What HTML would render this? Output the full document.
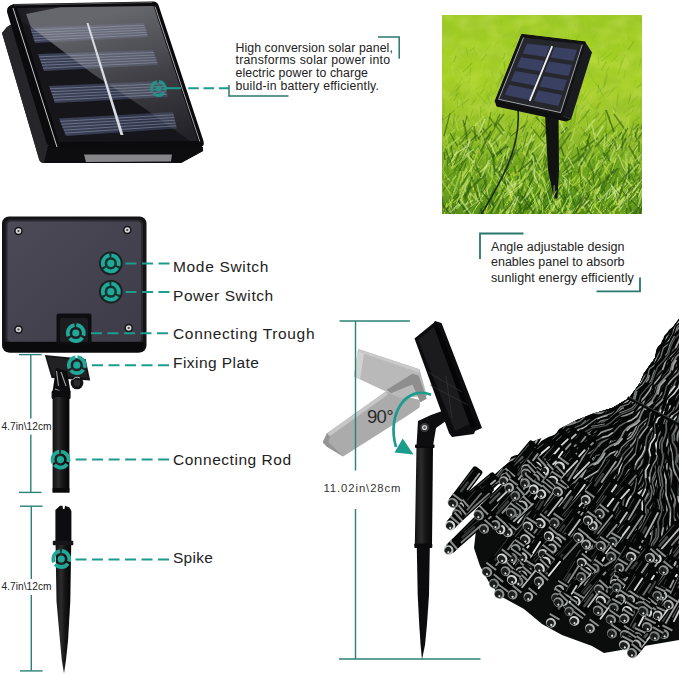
<!DOCTYPE html>
<html><head><meta charset="utf-8"><title>Solar string light</title>
<style>
html,body{margin:0;padding:0;background:#fff;}
body{width:679px;height:675px;overflow:hidden;font-family:"Liberation Sans",sans-serif;}
svg{display:block}
svg text{font-family:"Liberation Sans",sans-serif;}
</style></head><body>
<svg width="679" height="675" viewBox="0 0 679 675">
<defs>
<linearGradient id="gGlass" x1="0" y1="0" x2="1" y2="1">
 <stop offset="0" stop-color="#303137"/><stop offset="0.5" stop-color="#1f2025"/><stop offset="1" stop-color="#141519"/>
</linearGradient>
<linearGradient id="gCell" x1="0" y1="0" x2="1" y2="0">
 <stop offset="0" stop-color="#3b4258"/><stop offset="1" stop-color="#2a3044"/>
</linearGradient>
<linearGradient id="gGrass" x1="0" y1="0" x2="0" y2="1">
 <stop offset="0" stop-color="#9dcb22"/><stop offset="0.3" stop-color="#a6d124"/><stop offset="0.5" stop-color="#9bc624"/><stop offset="0.68" stop-color="#7dae20"/><stop offset="0.85" stop-color="#659a1c"/><stop offset="1" stop-color="#558a18"/>
</linearGradient>
<linearGradient id="gFade" x1="0" y1="0" x2="0" y2="1">
 <stop offset="0" stop-color="#fff" stop-opacity="1"/><stop offset="0.55" stop-color="#fff" stop-opacity="0.8"/><stop offset="0.8" stop-color="#fff" stop-opacity="0"/>
</linearGradient>
<mask id="mTop"><rect x="442" y="15" width="200" height="199" fill="url(#gFade)"/></mask>
<linearGradient id="gBack" x1="0" y1="0" x2="1" y2="1">
 <stop offset="0" stop-color="#4c4a57"/><stop offset="1" stop-color="#3d3b47"/>
</linearGradient>
<linearGradient id="gRod" x1="0" y1="0" x2="1" y2="0">
 <stop offset="0" stop-color="#111"/><stop offset="0.35" stop-color="#2c2c2e"/><stop offset="0.6" stop-color="#151515"/><stop offset="1" stop-color="#050505"/>
</linearGradient>
<filter id="fGrass" x="0" y="0" width="100%" height="100%">
 <feTurbulence type="fractalNoise" baseFrequency="0.045 0.06" numOctaves="2" seed="4" result="n"/>
 <feColorMatrix in="n" type="matrix" values="0 0 0 0 0.30  0 0 0 0 0.50  0 0 0 0 0.05  1.3 0 0 0 -0.45"/>
</filter>
<filter id="fGrass2" x="0" y="0" width="100%" height="100%">
 <feTurbulence type="fractalNoise" baseFrequency="0.05 0.07" numOctaves="2" seed="9" result="n"/>
 <feColorMatrix in="n" type="matrix" values="0 0 0 0 0.80  0 0 0 0 0.90  0 0 0 0 0.20  0 1.4 0 0 -0.5"/>
</filter>
<clipPath id="cGrass"><rect x="442" y="15" width="200" height="199"/></clipPath>
</defs>
<rect width="679" height="675" fill="#fff"/>
<path d="M2,33 L7,27 L12,24 L48,146 L203,147 L203,151 L181,163 L44,163 Q40,163 39,159 Z" fill="#19191c"/>
<path d="M2,33 L7,27 L12,24 L48,146 L44,163 Q40,163 39,159 Z" fill="#26262a"/>
<path d="M44,163 L48,146 L203,147 L203,151 L181,163 Z" fill="#0d0d10"/>
<path d="M84,154.5 L172,154.5 L171,161.5 L86,162 Z" fill="#a5a5aa" opacity="0.8"/>
<path d="M7,12 Q6,6 14,4 L152,1.5 Q157,1 158.5,5 L203.5,141 Q205,147 199,147.5 L54,148 Q48,148 46.5,143 Z" fill="#0b0b0e"/>
<path d="M13,8 L57,147" stroke="#e8e8ec" stroke-width="1" opacity="0.85" fill="none"/>
<path d="M14,5 L152,2.5" stroke="#77777c" stroke-width="0.8" opacity="0.8" fill="none"/>
<path d="M17,8 L153.5,6 L198,141 L59,142 Z" fill="#15151a"/>
<polygon points="30,27.5 144,23 148,37 35,43" fill="url(#gCell)"/>
<polygon points="38,54 153,50 158,65 44,71" fill="url(#gCell)"/>
<polygon points="49,86 163,81 168,97 55,103" fill="url(#gCell)"/>
<polygon points="59,118.5 173,112 177,128.5 66,136" fill="url(#gCell)"/>
<linearGradient id="gRefl" gradientUnits="userSpaceOnUse" x1="140" y1="6" x2="175" y2="141"><stop offset="0" stop-color="#8c8c94" stop-opacity="0.68"/><stop offset="0.5" stop-color="#8c8c94" stop-opacity="0.36"/><stop offset="1" stop-color="#8c8c94" stop-opacity="0.1"/></linearGradient>
<linearGradient id="gRefl2" gradientUnits="userSpaceOnUse" x1="20" y1="8" x2="120" y2="8"><stop offset="0" stop-color="#8c8c94" stop-opacity="0.05"/><stop offset="1" stop-color="#8c8c94" stop-opacity="0.55"/></linearGradient>
<path d="M60,7.3 L153.5,6 L198,141 L190,141 L144,108 L93,74 L30.7,26.7 L26,14 Z" fill="url(#gRefl)"/>
<path d="M17,8 L60,7.3 L26,14 L30.7,26.7 L22,22 Z" fill="url(#gRefl2)"/>
<path d="M155,6.5 L199.8,141.5" stroke="#e0e0e6" stroke-width="0.9" opacity="0.8" fill="none"/>
<line x1="30.8" y1="30.1" x2="144.7" y2="25.3" stroke="#a9aec4" stroke-width="0.6" opacity="0.75"/>
<line x1="31.7" y1="32.7" x2="145.3" y2="27.7" stroke="#a9aec4" stroke-width="0.6" opacity="0.75"/>
<line x1="32.5" y1="35.2" x2="146.0" y2="30.0" stroke="#a9aec4" stroke-width="0.6" opacity="0.75"/>
<line x1="33.3" y1="37.8" x2="146.7" y2="32.3" stroke="#a9aec4" stroke-width="0.6" opacity="0.75"/>
<line x1="34.2" y1="40.4" x2="147.3" y2="34.7" stroke="#a9aec4" stroke-width="0.6" opacity="0.75"/>
<line x1="39.0" y1="56.8" x2="153.8" y2="52.5" stroke="#a9aec4" stroke-width="0.6" opacity="0.75"/>
<line x1="40.0" y1="59.7" x2="154.7" y2="55.0" stroke="#a9aec4" stroke-width="0.6" opacity="0.75"/>
<line x1="41.0" y1="62.5" x2="155.5" y2="57.5" stroke="#a9aec4" stroke-width="0.6" opacity="0.75"/>
<line x1="42.0" y1="65.3" x2="156.3" y2="60.0" stroke="#a9aec4" stroke-width="0.6" opacity="0.75"/>
<line x1="43.0" y1="68.2" x2="157.2" y2="62.5" stroke="#a9aec4" stroke-width="0.6" opacity="0.75"/>
<line x1="50.0" y1="88.8" x2="163.8" y2="83.7" stroke="#a9aec4" stroke-width="0.6" opacity="0.75"/>
<line x1="51.0" y1="91.7" x2="164.7" y2="86.3" stroke="#a9aec4" stroke-width="0.6" opacity="0.75"/>
<line x1="52.0" y1="94.5" x2="165.5" y2="89.0" stroke="#a9aec4" stroke-width="0.6" opacity="0.75"/>
<line x1="53.0" y1="97.3" x2="166.3" y2="91.7" stroke="#a9aec4" stroke-width="0.6" opacity="0.75"/>
<line x1="54.0" y1="100.2" x2="167.2" y2="94.3" stroke="#a9aec4" stroke-width="0.6" opacity="0.75"/>
<line x1="60.2" y1="121.4" x2="173.7" y2="114.8" stroke="#a9aec4" stroke-width="0.6" opacity="0.75"/>
<line x1="61.3" y1="124.3" x2="174.3" y2="117.5" stroke="#a9aec4" stroke-width="0.6" opacity="0.75"/>
<line x1="62.5" y1="127.2" x2="175.0" y2="120.2" stroke="#a9aec4" stroke-width="0.6" opacity="0.75"/>
<line x1="63.7" y1="130.2" x2="175.7" y2="123.0" stroke="#a9aec4" stroke-width="0.6" opacity="0.75"/>
<line x1="64.8" y1="133.1" x2="176.3" y2="125.8" stroke="#a9aec4" stroke-width="0.6" opacity="0.75"/>
<path d="M86.5,23 L88.5,23 L123.5,135 L120.5,135 Z" fill="#d8dbe2"/>
<g opacity="0.85"><g transform="translate(158.5,88.5)"><circle r="8.5" fill="#1a1a1a" opacity="0.0"/><circle r="6.800000000000001" fill="none" stroke="#1c9c8d" stroke-width="3.23" stroke-dasharray="12.041886696273732 2.2" transform="rotate(-86)"/><circle r="3.06" fill="#1c9c8d"/></g></g>
<line x1="165" y1="88.2" x2="181" y2="88.2" stroke="#1c9c8d" stroke-width="2"/>
<line x1="188.2" y1="88.2" x2="229" y2="88.2" stroke="#1c9c8d" stroke-width="2" stroke-dasharray="10.6 4.7"/>
<path d="M378,37 H399.2 V58.8" fill="none" stroke="#2b776d" stroke-width="1.5"/>
<path d="M229,85 V96 H288.5" fill="none" stroke="#2b776d" stroke-width="1.5"/>
<text x="235.5" y="51.6" font-size="12.3" fill="#222" text-anchor="start" textLength="157.3" lengthAdjust="spacing" >High conversion solar panel,</text>
<text x="235.5" y="64.35" font-size="12.3" fill="#222" text-anchor="start" textLength="154.6" lengthAdjust="spacing" >transforms solar power into</text>
<text x="235.5" y="77.1" font-size="12.3" fill="#222" text-anchor="start" textLength="132.4" lengthAdjust="spacing" >electric power to charge</text>
<text x="235.5" y="89.85" font-size="12.3" fill="#222" text-anchor="start" textLength="143.5" lengthAdjust="spacing" >build-in battery efficiently.</text>
<g clip-path="url(#cGrass)">
<rect x="442" y="15" width="200" height="199" fill="url(#gGrass)"/>
<rect x="442" y="15" width="200" height="199" filter="url(#fGrass)" opacity="0.55"/>
<g mask="url(#mTop)"><rect x="442" y="15" width="200" height="199" filter="url(#fGrass2)" opacity="0.45"/></g>
<path d="M532,173l11,-18M620,189l5,-5M485,180l7,-19M472,182l4,-11M560,190l-4,-5M626,193l12,-15M638,185l-10,-11M598,174l5,-6M469,163l9,-15M518,181l9,-21M632,173l7,-13M460,192l-11,-13M448,165l7,-7M623,178l-4,-7M499,179l-4,-15" stroke="#d0ea80" stroke-width="0.8" opacity="0.6" fill="none"/>
<path d="M461,135l4,-5M595,152l4,-16M578,122l2,-4M580,144l7,-5M633,144l-7,-17M491,154l10,-16M635,133l10,-10M527,148l3,-11M610,129l2,-14M547,160l3,-6M587,143l4,-6M610,154l7,-13M631,135l-5,-7M605,123l-1,-8M536,147l2,-15M510,141l-9,-17" stroke="#cbd93c" stroke-width="0.8" opacity="0.4" fill="none"/>
<path d="M567,204l5,-4M506,203l7,-8M569,203l10,-14M472,197l4,-3M591,199l6,-5M595,211l-10,-13M534,214l5,-11M466,194l0,-19M470,210l12,-18M615,200l10,-17M563,203l8,-9M497,197l8,-23M549,202l4,-4M608,203l5,-7M596,207l8,-12M589,192l-0,-20M610,214l0,-13M541,195l-1,-5M634,209l1,-7M638,193l4,-8M502,203l-7,-12M477,193l-1,-5" stroke="#6aa01a" stroke-width="0.8" opacity="0.8" fill="none"/>
<path d="M546,183l-7,-12M635,174l-15,-17M572,166l-2,-11M526,186l1,-9M570,182l-0,-5M612,163l8,-19M627,170l5,-4M546,185l-1,-10M458,161l6,-6M618,191l2,-5M555,167l4,-8M550,176l11,-12M573,186l9,-10M640,163l5,-4M572,181l5,-6M516,188l-7,-17M556,170l4,-10M612,177l2,-17" stroke="#b8e040" stroke-width="1.2" opacity="0.6" fill="none"/>
<path d="M505,121l6,-6M534,138l8,-11M580,154l7,-14M448,144l11,-17M598,157l8,-16M505,129l5,-6M546,133l2,-11M577,149l6,-7M593,157l9,-18M530,144l4,-12M560,133l4,-7M570,130l9,-9" stroke="#4a8a12" stroke-width="0.8" opacity="0.4" fill="none"/>
<path d="M485,213l-2,-6M633,193l-0,-10M541,204l-11,-11M500,205l12,-15M630,200l17,-16M602,206l-2,-12M565,218l-8,-23M529,195l8,-19M446,207l11,-11M617,194l-7,-15M504,216l8,-6M574,201l3,-6" stroke="#b0d838" stroke-width="1.2" opacity="0.8" fill="none"/>
<path d="M459,140l14,-14M505,158l8,-8M521,134l7,-14M555,149l9,-16M522,143l-1,-7M506,138l8,-19M625,149l5,-15M483,155l-3,-5M493,159l6,-7M549,132l-3,-15M470,150l5,-14M528,136l5,-4M510,136l-1,-11M640,131l2,-5M552,132l3,-12M558,147l-9,-14M487,149l2,-11M488,127l3,-15M490,145l11,-13M562,138l6,-10" stroke="#2f660c" stroke-width="1.2" opacity="0.4" fill="none"/>
<path d="M478,173l-8,-10M540,189l3,-5M570,190l-4,-19M604,166l2,-5M532,163l5,-3M615,187l17,-17M501,175l8,-7M543,188l6,-7M554,186l6,-15M510,163l3,-4M488,189l-9,-21M636,171l4,-9M506,184l-12,-17M550,184l-3,-6M633,185l6,-7" stroke="#2f660c" stroke-width="1.2" opacity="0.6" fill="none"/>
<path d="M640,22l9,-6" stroke="#2f660c" stroke-width="0.8" opacity="0.1" fill="none"/>
<path d="M450,101l6,-8M458,87l4,-9M580,102l6,-12M497,118l3,-16M555,85l3,-14M462,105l6,-5M540,102l2,-9" stroke="#4a8a12" stroke-width="0.8" opacity="0.2" fill="none"/>
<path d="M559,123l7,-12M579,149l-8,-10M588,138l-2,-20M524,145l-3,-8M580,145l3,-9M467,147l-11,-11M481,144l1,-13M561,128l2,-8M617,148l1,-6M544,144l6,-5M568,148l5,-5M553,122l2,-8M587,154l9,-16M539,147l9,-16M515,154l6,-16M476,153l15,-13" stroke="#c6e65a" stroke-width="1.2" opacity="0.4" fill="none"/>
<path d="M479,103l-9,-14M494,91l-2,-16M611,50l1,-6M591,109l10,-12M523,91l3,-8M619,118l7,-15M468,111l4,-15M565,70l9,-11M637,40l8,-6M581,86l-5,-6M638,66l6,-9M514,60l3,-5M579,51l4,-7M477,100l6,-15" stroke="#cbd93c" stroke-width="0.8" opacity="0.2" fill="none"/>
<path d="M493,203l7,-16M457,211l-7,-12M609,209l16,-19M543,205l10,-16M527,203l7,-11M500,216l13,-13M500,201l-5,-13M513,190l7,-6M522,212l16,-13M631,213l0,-19M491,214l2,-7M541,206l10,-18M622,195l10,-8M534,209l8,-22M555,206l-6,-7M544,202l4,-21M491,208l-3,-11M531,209l13,-19M495,192l6,-23M586,209l17,-19" stroke="#2f660c" stroke-width="0.8" opacity="0.8" fill="none"/>
<path d="M498,212l2,-9M633,196l4,-15M517,205l7,-8M476,209l7,-17M612,195l16,-12M562,216l8,-24M525,216l-3,-5M609,204l4,-22M620,207l17,-12M581,208l-9,-13M602,205l2,-8M466,210l-4,-7M463,211l5,-14M602,200l12,-9" stroke="#3d7a10" stroke-width="1.2" opacity="0.8" fill="none"/>
<path d="M548,217l-3,-6M573,219l8,-9M637,211l8,-12M520,215l-13,-13M477,194l-3,-7M552,209l6,-10M480,209l-3,-4M541,210l-5,-16M524,205l0,-16M501,203l2,-9M535,216l6,-17M579,212l-6,-6M614,205l8,-23M465,206l5,-8M484,202l-5,-5M523,217l8,-8M525,210l12,-21M642,217l4,-8" stroke="#cbd93c" stroke-width="0.8" opacity="0.8" fill="none"/>
<path d="M560,213l-10,-11M637,210l2,-8M641,194l8,-8M460,219l1,-5M472,202l-3,-13M569,206l5,-9M563,211l-16,-17M561,210l8,-14M459,196l2,-15M461,220l4,-5M528,204l-0,-24M613,216l-13,-15M509,213l5,-4M577,194l5,-4M551,214l-11,-23" stroke="#d0ea80" stroke-width="0.8" opacity="0.8" fill="none"/>
<path d="M512,188l11,-19M465,161l-6,-20M523,188l3,-4M576,171l-5,-8M494,180l7,-9M591,175l6,-7M622,190l-3,-7M544,170l5,-7M464,188l-5,-23M499,164l11,-9M463,183l10,-20M453,183l13,-15M605,170l7,-9M566,173l-5,-16M496,186l13,-11M442,183l-14,-17M506,174l15,-15M619,185l10,-7M619,165l3,-6M561,175l10,-8M470,172l11,-10M560,167l-6,-14M507,188l3,-5" stroke="#6aa01a" stroke-width="1.2" opacity="0.6" fill="none"/>
<path d="M518,43l1,-5M457,107l6,-10M629,65l-5,-9M613,114l2,-9M519,83l3,-4M544,101l-3,-16M627,106l8,-14M501,109l-2,-10M488,115l4,-12M481,72l2,-11M621,100l6,-8M553,92l9,-8M503,61l4,-4" stroke="#d0ea80" stroke-width="1.2" opacity="0.2" fill="none"/>
<path d="M530,204l1,-7M501,198l2,-10M471,208l16,-19M527,216l4,-18M642,204l-7,-17M640,209l10,-14M524,213l2,-9M494,207l2,-19M455,204l8,-20M607,202l4,-19M621,199l9,-15M529,201l-12,-15M634,194l-6,-21M499,194l11,-18M577,192l-7,-8M525,209l3,-9M470,207l3,-13M476,194l6,-10M559,212l-1,-5" stroke="#4a8a12" stroke-width="1.2" opacity="0.8" fill="none"/>
<path d="M598,185l-9,-11M482,161l-4,-6M636,187l15,-11M603,188l-7,-7M567,173l16,-12M491,174l-1,-12M460,165l5,-7M506,167l-2,-12M575,173l-2,-6M531,187l2,-6M454,176l4,-12M452,188l-6,-15M482,179l10,-10M518,185l10,-19M480,176l4,-10M451,181l13,-11M544,160l12,-10M561,168l9,-13M471,188l-2,-8M458,165l10,-19M541,178l-3,-9M486,176l-5,-7M618,167l5,-13M540,160l-4,-6" stroke="#5a9a16" stroke-width="1.2" opacity="0.6" fill="none"/>
<path d="M574,157l13,-15M587,140l-11,-14M536,146l-6,-11M558,138l6,-9M486,124l-8,-17M580,146l4,-10M537,131l-1,-17M621,122l-6,-12M445,150l-1,-6M524,141l3,-14M452,129l-4,-4M546,146l4,-9" stroke="#c6e65a" stroke-width="0.8" opacity="0.4" fill="none"/>
<path d="M519,176l3,-10M582,172l3,-17M524,190l5,-6M617,193l4,-8M574,187l10,-10M457,179l10,-8M632,190l4,-3M476,176l6,-11" stroke="#b0d838" stroke-width="0.8" opacity="0.6" fill="none"/>
<path d="M570,152l6,-6M490,149l5,-4M445,124l4,-4M554,128l15,-11M592,135l-5,-13M616,136l1,-8M604,159l-12,-17M499,157l-4,-12M468,153l1,-14M484,132l5,-18M555,141l1,-7M563,159l-9,-11M505,133l-1,-6M556,118l-11,-11" stroke="#b8e040" stroke-width="1.2" opacity="0.4" fill="none"/>
<path d="M464,170l4,-16M612,190l7,-6M541,170l-7,-16M592,163l17,-15M459,189l13,-10M489,190l7,-6M503,189l9,-20M450,183l14,-11M476,186l-6,-12M492,165l-2,-19M626,177l10,-14M503,162l-3,-13M497,170l-4,-16M596,163l5,-5M611,169l5,-6M571,178l4,-7M487,165l-0,-11M601,175l-7,-7M614,184l-9,-11M536,171l3,-13M469,163l4,-11M614,165l13,-17M445,175l0,-8M534,168l15,-17M487,185l-2,-10M541,189l-9,-11M551,190l0,-5M505,168l7,-9" stroke="#4a8a12" stroke-width="1.2" opacity="0.6" fill="none"/>
<path d="M549,61l1,-7M471,111l6,-5M451,58l7,-11M446,108l3,-5M479,62l5,-7M584,63l-7,-11M624,64l-0,-8M466,81l-7,-13M515,33l7,-9M483,88l7,-6M453,63l6,-8M594,100l2,-7M586,111l6,-16M454,78l-3,-14M532,93l5,-12M616,61l4,-5M586,65l-5,-7M506,104l2,-7" stroke="#c6e65a" stroke-width="1.2" opacity="0.2" fill="none"/>
<path d="M552,184l11,-10M552,182l-5,-11M594,161l-4,-13M523,164l14,-15M641,165l-10,-16M551,167l8,-7M567,178l4,-6M581,166l12,-10M530,162l-3,-12M642,165l7,-17M526,180l6,-22M453,163l3,-4M460,159l-11,-18M543,188l15,-13M513,168l15,-14M583,165l11,-10M633,171l5,-8M637,161l6,-13" stroke="#4a8a12" stroke-width="0.8" opacity="0.6" fill="none"/>
<path d="M543,62l4,-7M600,82l-4,-5M555,106l-9,-10M532,68l7,-11M636,73l2,-15M593,84l5,-4M465,100l4,-4M601,48l8,-7M511,110l-0,-10M586,108l7,-7M519,100l3,-5M543,95l-4,-14M511,105l1,-6M580,88l10,-8M615,29l6,-9M517,113l11,-9M477,110l5,-13" stroke="#b8e040" stroke-width="1.2" opacity="0.2" fill="none"/>
<path d="M602,108l-6,-7M534,41l4,-12M450,103l-5,-12M496,79l11,-8M490,56l9,-7M624,92l4,-7M549,106l4,-6M561,68l-3,-9M593,84l8,-6M443,58l4,-10M477,109l7,-5M451,91l-8,-14M611,105l-1,-8M449,88l-4,-9M598,87l6,-9M583,104l9,-9" stroke="#cbd93c" stroke-width="1.2" opacity="0.2" fill="none"/>
<path d="M631,164l7,-20M496,192l-0,-15M444,192l14,-18M534,169l8,-13M540,168l2,-9M460,176l-4,-5M578,192l4,-6M606,185l-2,-10M553,166l1,-19M444,182l1,-8M585,179l-8,-9M592,169l-2,-9M451,183l-11,-18M544,171l4,-11M641,184l10,-9M576,188l12,-12" stroke="#cbd93c" stroke-width="0.8" opacity="0.6" fill="none"/>
<path d="M547,205l0,-16M532,206l10,-8M608,201l2,-9M533,205l5,-9M461,209l2,-6M479,202l8,-9M634,207l12,-18M638,205l14,-16M481,202l-4,-9M452,192l4,-7M619,213l-4,-12M457,195l3,-6M575,198l9,-10M633,198l5,-4M506,193l7,-8M529,201l8,-7" stroke="#5a9a16" stroke-width="1.2" opacity="0.8" fill="none"/>
<path d="M557,115l7,-10M504,92l4,-12M597,94l2,-10M470,105l5,-4M537,96l6,-7M603,96l-5,-11M491,96l6,-6M539,78l-1,-5M569,70l2,-9M466,76l5,-6M457,108l12,-9M488,100l2,-7M599,59l8,-7M611,62l7,-7M503,94l-1,-17M572,95l11,-9M621,65l4,-10M544,108l-3,-18" stroke="#2f660c" stroke-width="0.8" opacity="0.2" fill="none"/>
<path d="M467,156l14,-12M487,133l-7,-7M520,146l7,-14M567,125l-0,-5M593,120l6,-7M471,151l-7,-19M601,137l5,-9M559,148l9,-19M574,124l3,-19M533,128l7,-17M589,153l10,-9M569,154l-4,-14M638,142l4,-15M598,122l8,-12" stroke="#4a8a12" stroke-width="1.2" opacity="0.4" fill="none"/>
<path d="M468,198l2,-5M616,197l2,-20M571,213l-12,-18M604,216l-15,-16M460,206l-2,-5M507,216l7,-16M589,197l11,-21M471,217l8,-16M613,218l5,-20M480,199l4,-5M531,201l-6,-13M498,219l2,-7M600,214l16,-13M531,207l5,-13M622,219l5,-5M506,214l10,-11M588,217l6,-6M515,219l-8,-15M533,201l15,-14M607,218l16,-20" stroke="#c6e65a" stroke-width="1.2" opacity="0.8" fill="none"/>
<path d="M463,193l-4,-6M443,210l4,-4M587,215l12,-14M596,194l5,-10M563,196l-6,-12M502,216l-2,-7M624,201l15,-11M620,204l9,-12M566,208l3,-5M610,207l10,-12M622,201l1,-16M614,210l19,-15M626,204l-7,-14" stroke="#b8e040" stroke-width="1.2" opacity="0.8" fill="none"/>
<path d="M489,194l16,-13M564,192l6,-18M504,212l9,-15M637,212l1,-6M603,195l16,-15M583,204l8,-20M537,195l-2,-5M634,200l10,-11M611,199l0,-12M583,206l-11,-19M523,199l11,-14M510,207l-5,-14M525,194l1,-8M447,216l-16,-17M482,213l3,-23M531,195l16,-13M445,215l-11,-16" stroke="#5a9a16" stroke-width="0.8" opacity="0.8" fill="none"/>
<path d="M469,123l4,-15M522,132l12,-9M594,141l8,-9M505,146l6,-8M459,159l-5,-8M608,159l4,-4M448,129l-6,-12M532,145l1,-13M475,142l4,-5M496,126l-2,-5M602,140l2,-5M567,139l12,-12M504,158l3,-5M611,146l12,-11" stroke="#5a9a16" stroke-width="0.8" opacity="0.4" fill="none"/>
<path d="M543,188l-6,-6M505,181l9,-9M470,171l8,-20M528,169l4,-4M513,176l6,-7M476,175l14,-10M460,183l3,-5M517,175l-0,-10M602,176l7,-12M516,191l9,-9M500,185l8,-11M501,165l7,-12" stroke="#cbd93c" stroke-width="1.2" opacity="0.6" fill="none"/>
<path d="M478,159l-10,-14M499,151l5,-9M491,119l11,-11M555,143l1,-9M575,133l6,-8M486,153l-11,-12M453,157l14,-13M557,124l-7,-12M475,124l-10,-13M606,147l1,-6M480,152l9,-15M509,126l-11,-13M451,151l7,-10M577,145l17,-12M531,129l6,-5M500,152l5,-7M485,159l3,-8M581,153l4,-15M493,137l7,-9" stroke="#b0d838" stroke-width="0.8" opacity="0.4" fill="none"/>
<path d="M602,190l-4,-21M600,179l-14,-16M543,161l8,-12M468,190l12,-12M457,176l3,-10M613,187l6,-19M595,185l-2,-6M464,171l2,-8M641,182l-11,-18M638,185l-15,-16M464,175l-7,-10" stroke="#3d7a10" stroke-width="1.2" opacity="0.6" fill="none"/>
<path d="M498,93l11,-9M625,85l5,-13M602,109l6,-14M563,69l6,-13M598,95l-4,-7M462,85l11,-11M450,116l13,-13M618,75l-1,-5M524,46l1,-9M532,106l4,-8M494,113l8,-8M480,98l3,-6M625,28l5,-9M568,100l-4,-4" stroke="#b0d838" stroke-width="1.2" opacity="0.2" fill="none"/>
<path d="M488,215l-4,-18M543,196l7,-16M478,193l0,-6M621,216l-1,-21M618,214l10,-18M616,207l5,-4M476,192l8,-22M583,205l19,-15M589,214l-1,-24M506,212l4,-4M548,192l3,-13M598,196l6,-5M631,207l17,-14M616,212l12,-9M482,203l17,-18M460,193l-4,-10M516,212l6,-11" stroke="#6aa01a" stroke-width="1.2" opacity="0.8" fill="none"/>
<path d="M628,105l3,-11M534,119l10,-15M504,79l-4,-8M545,59l6,-9M541,93l-4,-5M616,112l-3,-5M480,94l4,-5M513,47l4,-5M454,62l2,-6M505,108l9,-13M595,110l6,-8M628,50l6,-9M505,71l-1,-10M601,71l5,-9M530,67l2,-12M636,88l12,-9M583,119l7,-10M564,115l-3,-7" stroke="#2f660c" stroke-width="1.2" opacity="0.2" fill="none"/>
<path d="M638,202l4,-17M531,203l11,-19M525,197l-5,-6M614,214l-1,-5M449,207l8,-14M530,202l10,-13M516,214l3,-7M498,201l10,-15M529,196l6,-17M529,215l7,-15M501,213l10,-19M545,212l18,-18M553,205l-2,-10M490,194l5,-7M597,200l10,-7M542,194l3,-10M510,212l4,-12M547,220l9,-23M456,217l-4,-16M578,202l2,-5M585,213l10,-14M618,216l17,-15" stroke="#b0d838" stroke-width="0.8" opacity="0.8" fill="none"/>
<path d="M467,157l6,-15M628,145l-7,-10M498,157l5,-4M473,125l-9,-11M450,134l11,-15M618,149l1,-5M552,139l1,-8M497,155l4,-7M639,149l7,-7M459,136l7,-6M468,125l6,-9M531,133l7,-5M532,122l6,-6M568,122l3,-13M582,151l5,-8" stroke="#6aa01a" stroke-width="0.8" opacity="0.4" fill="none"/>
<path d="M568,40l1,-7" stroke="#4a8a12" stroke-width="0.8" opacity="0.1" fill="none"/>
<path d="M514,192l-3,-12M505,165l3,-14M536,166l3,-5M492,178l-0,-13M512,163l5,-15M637,162l3,-5M614,165l2,-7M547,185l-12,-15M449,188l-1,-10M518,186l11,-18M470,172l3,-7M491,172l14,-13M444,190l4,-8M552,179l-1,-19M542,170l-6,-12M462,186l1,-15M502,185l-5,-7" stroke="#d0ea80" stroke-width="1.2" opacity="0.6" fill="none"/>
<path d="M601,194l6,-11M522,212l19,-15M453,199l14,-14M606,209l8,-8M639,208l-17,-17M504,209l-2,-20M561,214l19,-16M589,197l-9,-14M560,212l7,-18M558,200l-6,-16M543,199l10,-14M596,191l4,-6M446,210l14,-16M617,202l10,-9M477,201l1,-9M605,191l-6,-7M558,192l10,-22M626,211l7,-22M458,202l9,-10M467,195l6,-15M499,194l6,-12" stroke="#2f660c" stroke-width="1.2" opacity="0.8" fill="none"/>
<path d="M604,119l2,-5M477,55l-3,-6M597,86l-9,-14M641,114l0,-17M547,111l3,-5M578,67l-1,-14M624,79l1,-8M493,78l-1,-7M512,93l-6,-10M574,102l9,-8M511,102l6,-10" stroke="#6aa01a" stroke-width="1.2" opacity="0.2" fill="none"/>
<path d="M491,105l-5,-12M481,61l6,-7M494,115l9,-16M626,117l8,-7M580,87l2,-8M618,75l4,-14M463,108l-2,-11M496,85l9,-13M599,65l-1,-8M470,76l1,-8M480,118l1,-12M530,116l6,-5M470,51l5,-4M596,113l3,-10M565,78l8,-8M535,103l-3,-8M454,101l6,-16M601,61l11,-8M503,60l2,-7" stroke="#4a8a12" stroke-width="1.2" opacity="0.2" fill="none"/>
<path d="M505,114l-3,-9M518,68l7,-6M602,94l-5,-9M609,93l5,-5M631,103l7,-7M573,60l3,-10M487,104l-10,-11M537,91l5,-14M574,69l4,-6M598,100l11,-10M479,113l6,-4M537,78l1,-5M639,66l3,-8M623,113l11,-8M456,92l2,-5M468,57l-2,-10M472,105l4,-7M606,73l3,-6" stroke="#5a9a16" stroke-width="1.2" opacity="0.2" fill="none"/>
<path d="M574,197l5,-4M482,197l7,-10M511,197l-6,-19M607,199l18,-16M545,219l16,-20M512,214l-0,-6M584,200l2,-9M514,205l-5,-15M637,200l6,-14M470,215l10,-13M514,201l5,-5M629,201l9,-9M492,207l-6,-20M589,214l7,-18" stroke="#d0ea80" stroke-width="1.2" opacity="0.8" fill="none"/>
<path d="M600,72l11,-9M567,70l7,-6M509,100l7,-13M530,66l3,-10M632,113l5,-7M553,84l-8,-10M538,116l3,-5M486,96l4,-3M500,68l6,-13M464,55l-2,-5M604,112l5,-4M527,88l4,-3M621,45l-2,-7M446,37l4,-6M515,63l7,-8M493,49l-0,-7" stroke="#d0ea80" stroke-width="0.8" opacity="0.2" fill="none"/>
<path d="M626,155l9,-10M579,145l8,-15M546,143l12,-9M443,120l12,-10M486,143l-6,-16M565,143l-3,-6M569,140l4,-9M484,149l5,-10M453,127l2,-13M444,159l4,-17M466,136l-3,-11M525,124l3,-9M577,159l5,-12M591,140l-10,-13M523,137l4,-9M631,141l1,-7M629,147l2,-9" stroke="#2f660c" stroke-width="0.8" opacity="0.4" fill="none"/>
<path d="M587,179l2,-11M596,172l15,-15M600,183l-1,-6M527,172l-11,-19M595,166l-4,-9M622,182l-12,-14M528,187l9,-18M549,167l-2,-16M518,177l-2,-6M541,173l4,-19M542,170l13,-16M557,185l-1,-22M487,166l3,-9M474,176l4,-11M558,172l8,-17M560,184l6,-6M586,184l8,-19M497,166l18,-13M546,187l13,-16" stroke="#3d7a10" stroke-width="0.8" opacity="0.6" fill="none"/>
<path d="M510,184l3,-6M589,174l17,-13M629,163l9,-17M517,192l8,-16M580,168l11,-11M528,176l-1,-10M471,164l4,-4M627,175l0,-16M554,165l-11,-15M639,190l-7,-9M453,167l-2,-8M554,170l-5,-12M463,177l5,-11M592,182l-4,-4M631,165l2,-5M530,161l-11,-14" stroke="#c6e65a" stroke-width="1.2" opacity="0.6" fill="none"/>
<path d="M555,55l3,-11M558,108l7,-8M565,105l-0,-5M487,74l-2,-5M516,73l5,-8M552,31l-3,-6M504,70l3,-4M463,94l10,-13M592,101l4,-8" stroke="#b0d838" stroke-width="0.8" opacity="0.2" fill="none"/>
<path d="M599,213l18,-19M591,196l4,-19M597,216l4,-13M640,208l10,-10M620,216l5,-4M555,220l5,-23M527,195l-5,-14M618,202l8,-12M610,208l7,-7M576,209l11,-13M558,193l13,-14M540,199l2,-12M604,199l-6,-7M553,198l-1,-5M623,218l4,-6M510,203l4,-13" stroke="#b8e040" stroke-width="0.8" opacity="0.8" fill="none"/>
<path d="M547,156l4,-20M455,157l7,-18M513,141l4,-5M516,132l10,-13M481,156l9,-7M454,127l-6,-15M524,155l-2,-9M519,148l12,-10M603,146l8,-12M628,120l4,-12M487,146l4,-8M603,150l1,-7M548,129l-7,-8M523,149l-2,-20M629,135l-1,-19" stroke="#cbd93c" stroke-width="1.2" opacity="0.4" fill="none"/>
<path d="M581,169l4,-8M514,176l11,-8M571,188l5,-12M520,184l-2,-5M638,169l9,-13M566,188l7,-15M596,177l8,-19M511,161l-4,-6M495,187l12,-16M596,161l1,-6M489,190l3,-13M545,182l-9,-20M528,191l4,-8M610,161l7,-7M577,180l6,-6" stroke="#b0d838" stroke-width="1.2" opacity="0.6" fill="none"/>
<path d="M442,124l1,-9M453,126l6,-11M568,131l6,-8M463,140l6,-10M551,147l4,-8M570,159l5,-16M625,141l2,-7M607,141l-2,-17M489,145l-14,-15M587,135l1,-19M606,149l-0,-19M537,157l11,-10M603,153l4,-16M615,149l-9,-9M486,156l7,-18M639,139l9,-13M634,153l6,-5M513,148l2,-7M506,140l5,-4" stroke="#3d7a10" stroke-width="0.8" opacity="0.4" fill="none"/>
<path d="M614,189l3,-6M603,166l13,-12M525,168l4,-7M615,172l-2,-8M559,188l-12,-16M481,181l7,-7M566,181l6,-10M530,164l-7,-19M586,180l3,-12M478,179l-2,-14M619,165l-9,-20M570,183l9,-17M542,182l5,-4M603,171l4,-9M470,168l-9,-20M626,178l5,-7M616,185l-11,-17M589,171l7,-17M570,188l6,-12M509,166l-3,-13" stroke="#6aa01a" stroke-width="0.8" opacity="0.6" fill="none"/>
<path d="M549,122l12,-14M577,118l0,-9M599,118l4,-6M443,152l5,-14M603,151l3,-5M494,118l-1,-9M484,147l-7,-7M539,133l1,-7M498,125l8,-12M589,125l-3,-15M555,145l9,-16M597,120l5,-5M491,144l7,-17M635,141l7,-10M584,120l13,-11" stroke="#b0d838" stroke-width="1.2" opacity="0.4" fill="none"/>
<path d="M585,98l11,-8M628,114l-0,-14M504,75l7,-8M642,66l2,-9M578,66l7,-5M489,59l3,-12M496,56l4,-4M556,74l9,-9M536,55l-4,-11M529,79l2,-5M533,117l-1,-13M492,103l4,-14" stroke="#b8e040" stroke-width="0.8" opacity="0.2" fill="none"/>
<path d="M548,66l4,-10M529,103l9,-13M637,111l3,-7M491,93l0,-7M559,77l2,-8M514,105l-4,-9M530,82l2,-6M492,98l-9,-12M480,109l8,-15M550,119l3,-6M454,100l8,-7M636,117l13,-12M494,115l0,-7M525,101l-3,-6M482,53l-4,-5M550,62l8,-6M634,87l2,-7M468,87l2,-9M534,73l11,-8M483,107l7,-15" stroke="#5a9a16" stroke-width="0.8" opacity="0.2" fill="none"/>
<path d="M546,219l-3,-4M601,217l9,-12M452,219l5,-13" stroke="#2f660c" stroke-width="0.8" opacity="1.0" fill="none"/>
<path d="M463,72l9,-9M581,110l4,-5M604,84l3,-11M562,98l4,-3M497,88l6,-14M542,94l8,-10M598,93l8,-10M518,100l3,-9M456,96l4,-4M617,106l1,-12M510,89l5,-8M519,91l6,-12" stroke="#3d7a10" stroke-width="1.2" opacity="0.2" fill="none"/>
<path d="M574,76l6,-13M444,117l-0,-18M583,101l7,-10M533,66l8,-7M607,97l10,-11M554,117l7,-15M578,80l1,-6M590,54l2,-6M594,109l-7,-8M484,88l3,-9M565,110l8,-7M449,66l5,-5M458,108l-1,-8M449,97l9,-14M603,90l5,-15M451,96l8,-9M507,106l5,-9" stroke="#3d7a10" stroke-width="0.8" opacity="0.2" fill="none"/>
<path d="M494,186l5,-7M459,168l4,-21M522,165l-9,-17M496,173l-2,-9M453,184l3,-13M525,169l8,-6M622,173l10,-9M546,189l-0,-12M583,160l5,-5M612,176l2,-11M641,183l-4,-10M597,178l8,-6M497,165l7,-12M581,179l8,-17M637,164l-0,-12M561,182l-5,-18M532,168l11,-10M631,179l5,-19M531,171l6,-16M494,186l-3,-9M610,187l2,-5" stroke="#5a9a16" stroke-width="0.8" opacity="0.6" fill="none"/>
<path d="M567,180l5,-12M498,183l4,-5M448,174l-1,-23M599,176l8,-20M555,170l-2,-13M511,164l4,-12M493,161l8,-10M539,181l-7,-10M611,163l-7,-10M542,172l11,-15M444,180l13,-10M447,166l4,-19M636,185l-8,-17M555,168l10,-9M635,177l1,-14M547,176l-1,-12M568,164l14,-16" stroke="#2f660c" stroke-width="0.8" opacity="0.6" fill="none"/>
<path d="M579,217l-7,-21M595,218l-7,-8M535,218l16,-17M519,218l6,-11M473,219l-15,-18M639,218l5,-19" stroke="#2f660c" stroke-width="1.2" opacity="1.0" fill="none"/>
<path d="M515,186l-2,-14M565,188l7,-6M449,189l7,-14M462,174l6,-4M547,170l11,-11M530,176l6,-14M547,173l12,-18M635,190l-13,-16M517,177l11,-15M443,168l2,-8M498,191l10,-20M502,176l8,-8M550,171l7,-15M579,185l2,-14M471,176l3,-6M568,190l17,-14M462,180l13,-16M640,169l-3,-16" stroke="#b8e040" stroke-width="0.8" opacity="0.6" fill="none"/>
<path d="M509,196l-8,-20M489,205l-0,-18M462,209l5,-20M515,215l15,-13M518,195l1,-7M527,199l9,-20M480,207l9,-13M589,209l-14,-15M444,216l2,-9M505,197l9,-14M491,205l7,-6" stroke="#3d7a10" stroke-width="0.8" opacity="0.8" fill="none"/>
<path d="M538,145l2,-9M557,126l3,-5M599,140l3,-8M573,133l4,-14M522,144l-14,-14M615,143l7,-8M638,157l-8,-10M446,144l-11,-11M544,133l6,-13M558,129l-9,-9M467,158l4,-9M537,122l14,-10M492,160l-7,-20" stroke="#b8e040" stroke-width="0.8" opacity="0.4" fill="none"/>
<path d="M463,100l2,-9M483,54l8,-10M494,47l5,-6M544,92l6,-12M456,91l6,-7M475,90l7,-5M545,85l11,-10M527,84l5,-14M574,85l3,-10M494,116l-7,-13M464,99l7,-14" stroke="#6aa01a" stroke-width="0.8" opacity="0.2" fill="none"/>
<path d="M503,38l4,-4" stroke="#4a8a12" stroke-width="1.2" opacity="0.1" fill="none"/>
<path d="M482,153l-4,-8M609,152l2,-10M581,138l7,-10M550,127l-7,-8M510,157l6,-17M639,128l8,-8M481,156l3,-11M629,138l5,-15M510,138l1,-6M551,126l-2,-5M453,142l2,-9M608,157l-12,-15M594,132l13,-14M578,124l11,-14M585,136l8,-8M550,131l-10,-14M492,140l-9,-12M608,134l14,-13" stroke="#3d7a10" stroke-width="1.2" opacity="0.4" fill="none"/>
<path d="M574,44l5,-9" stroke="#3d7a10" stroke-width="1.2" opacity="0.1" fill="none"/>
<path d="M608,184l4,-18M596,170l11,-9M635,189l2,-12M542,165l2,-16M538,189l2,-19M504,179l0,-6M625,185l4,-12M454,186l-15,-18M498,192l4,-6M493,177l-9,-11M551,161l1,-22M504,190l-3,-6" stroke="#c6e65a" stroke-width="0.8" opacity="0.6" fill="none"/>
<path d="M525,42l5,-4M572,32l4,-8" stroke="#6aa01a" stroke-width="0.8" opacity="0.1" fill="none"/>
<path d="M597,138l-2,-5M633,134l2,-8M532,158l-6,-15M600,144l6,-7M445,158l10,-8M486,145l4,-12M608,146l6,-5M473,128l4,-5M627,142l3,-6M443,141l12,-12M638,145l14,-13M537,119l6,-4M498,148l8,-7M534,152l3,-9" stroke="#d0ea80" stroke-width="1.2" opacity="0.4" fill="none"/>
<path d="M503,155l-6,-17M529,150l0,-11M633,143l-2,-17M595,157l4,-9M526,151l5,-18M459,147l-7,-9M607,128l-2,-16M567,135l5,-16M610,124l-1,-9M469,152l3,-4" stroke="#5a9a16" stroke-width="1.2" opacity="0.4" fill="none"/>
<path d="M448,214l6,-23M615,194l0,-6M478,199l2,-6M590,202l10,-12M609,215l4,-6M542,195l4,-4M456,204l8,-19M496,197l7,-5M453,211l-4,-12M476,206l7,-6M535,205l-2,-11M620,194l12,-14" stroke="#c6e65a" stroke-width="0.8" opacity="0.8" fill="none"/>
<path d="M618,216l-15,-20M562,207l2,-6M569,194l-0,-22M583,208l10,-12M451,197l2,-6M480,195l16,-15M445,205l9,-16M573,213l4,-11M562,195l10,-10M590,214l4,-9M552,194l7,-8M476,215l-4,-10M469,207l4,-8M610,211l6,-17M523,215l-6,-20M537,208l6,-5M546,210l7,-13" stroke="#4a8a12" stroke-width="0.8" opacity="0.8" fill="none"/>
<path d="M626,218l3,-25M544,219l-6,-9M489,218l6,-15M634,217l3,-4M581,219l15,-20" stroke="#3d7a10" stroke-width="1.2" opacity="1.0" fill="none"/>
<path d="M626,199l11,-20M577,213l10,-12M544,200l18,-16M575,219l-8,-9M563,213l-4,-15M472,205l-7,-16M582,193l9,-18M509,201l7,-18M478,201l-8,-20M443,219l4,-16M485,215l4,-14M593,193l7,-6M610,217l13,-19" stroke="#cbd93c" stroke-width="1.2" opacity="0.8" fill="none"/>
<path d="M559,154l1,-5M615,141l-3,-8M446,142l4,-5M538,148l-2,-6M540,157l4,-5M611,135l5,-8M546,155l6,-14M486,134l-5,-17M632,123l8,-6M602,153l-11,-17M557,149l6,-11M578,150l12,-9M470,132l-3,-18M485,147l10,-7M587,124l-1,-14M479,144l9,-18" stroke="#6aa01a" stroke-width="1.2" opacity="0.4" fill="none"/>
<path d="M478,158l-8,-9M481,127l-2,-16M512,123l10,-8M577,124l5,-14M620,122l-8,-14M628,156l-3,-5M566,155l3,-8M507,138l16,-12M444,145l-11,-12" stroke="#d0ea80" stroke-width="0.8" opacity="0.4" fill="none"/>
<path d="M614,216l-13,-17M520,218l18,-16M604,217l1,-16M543,220l-10,-12" stroke="#6aa01a" stroke-width="1.2" opacity="1.0" fill="none"/>
<path d="M465,57l7,-6M631,102l7,-8M573,104l-5,-16M517,56l9,-8M556,54l6,-7M586,28l-1,-12M639,75l2,-7M620,48l4,-8M499,27l-1,-10M524,64l5,-11M603,91l4,-5M547,74l-3,-11M512,76l4,-5M568,82l2,-11M583,59l7,-8" stroke="#c6e65a" stroke-width="0.8" opacity="0.2" fill="none"/>
<path d="M519,220l4,-13M624,219l-2,-16" stroke="#5a9a16" stroke-width="0.8" opacity="1.0" fill="none"/>
<path d="M592,41l3,-6M629,41l-1,-8" stroke="#5a9a16" stroke-width="1.2" opacity="0.1" fill="none"/>
<path d="M543,218l-0,-15M580,219l6,-7" stroke="#5a9a16" stroke-width="1.2" opacity="1.0" fill="none"/>
<path d="M564,45l2,-9" stroke="#2f660c" stroke-width="1.2" opacity="0.1" fill="none"/>
<path d="M469,217l8,-13" stroke="#4a8a12" stroke-width="1.2" opacity="1.0" fill="none"/>
<path d="M499,219l3,-5M445,217l-9,-17M507,219l15,-20" stroke="#6aa01a" stroke-width="0.8" opacity="1.0" fill="none"/>
<path d="M521,169l4,-12M477,205l9,-19M634,216l7,-12M611,189l4,-8M444,136l6,-23M494,127l6,-13M459,171l9,-16M458,147l-8,-14M478,139l14,-15M519,202l6,-6M445,160l-1,-8M502,191l9,-12M639,192l4,-8M486,207l8,-19M582,197l-8,-11M533,214l7,-23M455,166l8,-10M453,158l-2,-13M454,165l6,-14M483,141l7,-6M502,155l-7,-15M602,186l12,-17M578,161l6,-8M581,164l-4,-17M571,180l1,-19M461,165l9,-22M511,136l14,-11M609,148l13,-16M602,159l13,-15M606,179l12,-11M468,146l-3,-23M546,128l-10,-11M502,167l6,-21M526,201l6,-9M621,140l7,-12M473,160l-11,-16M527,179l12,-19M493,207l4,-9M467,144l17,-15M467,136l-4,-16M595,195l-2,-20M492,155l-8,-14" stroke="#27520c" stroke-width="1.2" opacity="0.6" fill="none"/>
<path d="M554,218l12,-12M542,146l8,-14M463,176l3,-8M585,211l-4,-20M564,176l8,-6M603,146l14,-15M454,192l7,-21M537,202l8,-12M638,173l8,-11M462,190l9,-11M588,149l-5,-8M502,150l7,-14M481,196l10,-12M499,171l6,-18M559,133l-7,-8M456,209l9,-9M464,178l8,-10M558,171l12,-20M550,183l9,-11M445,149l15,-12M471,130l13,-14M632,137l11,-8M455,194l11,-11M498,151l3,-10M506,213l10,-17" stroke="#bfe060" stroke-width="1.7" opacity="0.6" fill="none"/>
<path d="M485,168l7,-10M616,198l16,-14M443,196l-0,-9M472,175l-4,-24M458,147l12,-9M568,191l-8,-12M500,190l-12,-18M449,206l15,-12M606,204l14,-18M584,167l15,-16M521,213l6,-13M476,201l-5,-22M629,198l9,-15M519,154l-5,-10M526,158l-5,-16M568,183l8,-6M512,150l5,-11M487,213l10,-11M537,144l17,-15M566,210l7,-6M498,161l-10,-21M450,157l-4,-23M536,173l-8,-14M547,219l12,-14M460,130l11,-9M625,155l17,-15M569,199l4,-11" stroke="#b3d94a" stroke-width="1.2" opacity="0.6" fill="none"/>
<path d="M475,154l-10,-10M599,201l-11,-21M590,148l-3,-8M632,216l8,-12M603,166l1,-13M453,212l0,-9M541,176l7,-20M478,215l6,-9M562,174l8,-10M540,170l-8,-18M518,196l-0,-20M516,197l-8,-16M559,150l12,-18M639,164l-10,-18M476,141l-2,-15M635,137l3,-9M632,213l-4,-9M555,217l-6,-9M626,131l-12,-17M607,180l7,-17M477,165l7,-14M525,210l14,-17M526,157l6,-17M586,200l-4,-13M495,172l-3,-23M489,205l7,-20M640,215l-3,-22M495,126l9,-12M491,149l6,-9M542,197l9,-21M608,144l9,-7M506,193l-1,-16M548,189l-4,-19M595,147l12,-13M470,189l15,-14M505,132l-8,-10M581,150l17,-12" stroke="#2f5f10" stroke-width="1.7" opacity="0.6" fill="none"/>
<path d="M621,197l-9,-11M452,161l5,-10M471,214l-11,-15M610,160l7,-16M566,215l12,-9M536,165l10,-21M478,201l-8,-8M596,142l-4,-17M624,179l15,-15M528,216l13,-17M529,142l6,-8M638,207l6,-21M575,211l4,-7M637,192l-12,-13M526,169l6,-14M491,147l14,-16M522,148l12,-9M468,147l2,-8M506,190l14,-11M606,164l-3,-8M588,183l-6,-7M590,207l-8,-11M594,173l5,-13" stroke="#cbe68a" stroke-width="1.7" opacity="0.6" fill="none"/>
<path d="M461,201l7,-22M619,211l12,-20M619,208l9,-19M521,203l12,-16M501,199l15,-16M449,213l10,-9M556,203l5,-9M572,200l-8,-21M481,178l8,-18M479,168l-12,-13M582,208l7,-8M597,136l6,-10M585,132l10,-13M578,166l11,-18M478,135l7,-16M621,203l-9,-12M512,186l-14,-19M465,205l8,-5M539,187l-8,-20M619,205l-8,-22" stroke="#d6eda0" stroke-width="1.7" opacity="0.6" fill="none"/>
<path d="M609,195l3,-10M463,212l17,-12M451,168l4,-7M616,192l10,-8M520,203l-11,-14M501,212l10,-8M460,155l9,-13M600,200l-10,-15M604,152l1,-19M635,161l15,-15M583,209l1,-22M624,218l9,-7M562,189l4,-9M562,174l10,-8M507,166l5,-6M531,153l13,-12M626,177l-0,-23" stroke="#cbe68a" stroke-width="1.2" opacity="0.6" fill="none"/>
<path d="M637,141l-2,-9M516,174l-2,-8M523,186l-3,-17M618,203l-2,-11M508,218l5,-14M622,151l1,-18M551,185l7,-15M464,216l7,-9M464,127l3,-11M540,137l7,-11M608,184l9,-15M621,196l-13,-17M581,182l-1,-11M483,208l-9,-22M529,181l4,-11M530,150l4,-9M481,189l6,-9M553,179l3,-11M635,142l7,-9M494,175l7,-13M552,145l-4,-8M449,163l4,-8M556,175l-0,-18M519,199l6,-20M628,190l14,-11M603,187l11,-18M512,218l10,-14M522,152l6,-20M570,203l-7,-8M454,171l7,-11M497,156l9,-12M484,215l-6,-9M462,185l7,-13M555,206l-8,-13M528,210l-10,-20M497,210l8,-18" stroke="#2f5f10" stroke-width="1.2" opacity="0.6" fill="none"/>
<path d="M583,197l-4,-13M567,210l6,-19M483,131l-7,-8M576,202l5,-11M504,198l9,-7M612,171l4,-13M542,198l7,-14M444,189l12,-13M538,176l10,-8M482,194l10,-14M612,177l-7,-11M590,206l8,-18M638,190l-0,-14M546,194l-13,-15M539,180l5,-15M525,154l7,-19M605,147l7,-7M469,156l-4,-7M617,143l-6,-9M615,148l-8,-10M535,204l9,-6M610,150l8,-14M475,169l8,-15M570,220l6,-7M508,216l-2,-9M611,190l7,-6M504,175l-0,-17M564,219l7,-17M487,148l-7,-15" stroke="#bfe060" stroke-width="1.2" opacity="0.6" fill="none"/>
<path d="M454,199l9,-17M617,152l-2,-11M627,203l12,-17M569,174l-7,-16M495,175l-3,-24M474,193l4,-14M494,208l-3,-10M445,212l-4,-17M552,198l-4,-22M543,201l13,-14M499,205l9,-9M589,167l-6,-12M617,201l5,-10M459,145l12,-14M609,161l-2,-9M464,202l6,-12M546,202l5,-11M603,184l4,-8M632,184l8,-7M633,130l6,-6M541,200l8,-9M595,179l-6,-19M576,210l-5,-16M443,192l6,-12M639,152l-0,-11M620,207l8,-8M549,193l9,-8M511,159l11,-13M572,200l-1,-18M503,135l-14,-18M568,205l-12,-16M573,163l17,-15M622,179l13,-14" stroke="#3a6c14" stroke-width="1.7" opacity="0.6" fill="none"/>
<path d="M522,217l-3,-14M481,177l-6,-14M543,137l5,-10M523,199l10,-21M614,132l-8,-22M564,156l-3,-9M620,194l7,-20M576,207l10,-15M492,157l15,-11M561,134l6,-7M549,168l3,-8M625,196l10,-10M505,211l14,-16M584,207l9,-8M510,176l-6,-7M621,148l5,-10M555,177l-1,-14M481,151l10,-20M549,200l6,-14M533,212l-11,-16M518,172l14,-12M453,218l-10,-13M527,173l6,-12M482,220l-1,-12M506,165l-1,-9M530,205l4,-8M494,206l-13,-15M629,179l0,-15M578,173l4,-11M611,211l6,-6M499,173l9,-14M514,218l15,-17M582,206l8,-12M465,198l7,-21M507,169l9,-20M630,194l4,-8M585,151l5,-17M574,215l12,-20" stroke="#27520c" stroke-width="1.7" opacity="0.6" fill="none"/>
<path d="M463,197l7,-8M486,193l-1,-20M588,164l6,-11M545,144l-14,-17M583,161l10,-16M627,201l-6,-15M585,184l17,-14M598,207l8,-15M578,200l5,-18M443,190l9,-10M469,209l0,-9M547,209l17,-15M452,166l-7,-18M564,201l7,-8M603,218l-2,-20M632,153l8,-11M480,140l-9,-11M500,202l-5,-10M491,213l11,-21M502,182l7,-12M596,173l10,-15M581,158l8,-7M535,193l4,-12M554,217l12,-16M504,210l13,-14M572,165l8,-7M488,140l9,-16M594,199l7,-9M451,211l5,-7M565,163l13,-9M518,155l-4,-17M642,168l9,-8M587,194l17,-13" stroke="#3a6c14" stroke-width="1.2" opacity="0.6" fill="none"/>
<path d="M510,198l12,-15M508,193l7,-7M494,202l10,-17M590,191l6,-7M618,205l5,-7M547,217l5,-10M515,142l5,-16M545,187l6,-9M458,131l-3,-14M540,129l1,-21M522,181l10,-14M516,185l12,-10M627,208l1,-15M451,169l19,-15M571,141l4,-13M567,217l11,-11M595,207l0,-18M628,195l8,-8M569,190l0,-12M607,174l-5,-15M462,201l-2,-12M571,200l12,-13M595,167l7,-7M620,139l9,-20M505,192l7,-10M526,141l10,-19M497,160l12,-12M493,213l11,-20M493,153l-1,-10M601,178l12,-19M452,196l-12,-18M585,197l-1,-15M509,195l-5,-11M459,194l11,-18M582,176l-1,-11M585,167l9,-20M634,169l-4,-12" stroke="#b3d94a" stroke-width="1.7" opacity="0.6" fill="none"/>
<path d="M572,185l-10,-10M481,201l-4,-17M613,200l5,-12M514,208l4,-12M535,179l-2,-23M454,155l12,-8M625,171l-7,-17M462,158l12,-9M597,194l4,-9M632,193l13,-18M574,168l-6,-11M510,193l13,-10M512,205l4,-8M480,172l10,-9M599,202l11,-13M551,174l5,-17M503,158l7,-10M496,156l-7,-15M616,151l5,-6M463,158l7,-17M565,132l-9,-19M504,185l-9,-13M605,201l3,-10" stroke="#d6eda0" stroke-width="1.2" opacity="0.6" fill="none"/>
<path d="M518,110 C520,135 512,160 498,185 C492,197 486,206 481,215" fill="none" stroke="#1d2a18" stroke-width="1.6"/>
<path d="M545,114 L558.5,116.5 L559,170 L557.5,198 L554,199 L548,170 Z" fill="#111312"/>
<path d="M585.3,42 L592,52.5 L571,119.5 L562.4,115.8 Z" fill="#1a1b1e"/>
<path d="M495,101.4 L562.4,115.8 L571,119.5 L566,121.5 L496.5,106.5 Z" fill="#0e0f11"/>
<path d="M521.7,34.4 L585.3,42 L562.4,115.8 L495,101.4 Z" fill="#121316" stroke="#0c0c0e" stroke-width="1"/>
<path d="M523.6,37.4 L582.3,44.6 L560.6,112.6 L498.6,99.3 Z" fill="#26272d"/>
<path d="M523.6,37.4 L498.6,99.3 L560.6,112.6 L582.3,44.6" fill="none" stroke="#d5d8dc" stroke-width="0.9" opacity="0.8"/>
<polygon points="527.1,43.4 549.7,46.3 545.7,56.9 522.7,53.6" fill="#3a4062"/>
<polygon points="521.1,57.2 544.2,60.7 540.1,71.2 516.7,67.3" fill="#3a4062"/>
<polygon points="515.2,71.0 538.6,75.0 534.6,85.5 510.8,81.1" fill="#3a4062"/>
<polygon points="509.2,84.7 533.1,89.4 529.0,99.9 504.8,94.8" fill="#3a4062"/>
<polygon points="554.5,46.9 577.1,49.8 573.4,60.9 550.5,57.6" fill="#3a4062"/>
<polygon points="549.0,61.4 572.1,64.9 568.4,75.9 545.0,72.0" fill="#3a4062"/>
<polygon points="543.6,75.9 567.0,79.9 563.3,91.0 539.5,86.5" fill="#3a4062"/>
<polygon points="538.1,90.3 562.0,94.9 558.3,106.0 534.1,100.9" fill="#3a4062"/>
<line x1="552.2" y1="46.2" x2="529.7" y2="100.9" stroke="#f0f2f6" stroke-width="1.8"/>
<line x1="565.4" y1="209.3" x2="563.4" y2="186.4" stroke="#356f12" stroke-width="1" opacity="0.8"/>
<line x1="542.7" y1="213.3" x2="542.0" y2="196.8" stroke="#b9e36a" stroke-width="1" opacity="0.8"/>
<line x1="540.8" y1="206.6" x2="535.6" y2="195.6" stroke="#a7d94f" stroke-width="1" opacity="0.8"/>
<line x1="567.1" y1="211.0" x2="562.6" y2="197.5" stroke="#356f12" stroke-width="1" opacity="0.8"/>
<line x1="556.6" y1="209.5" x2="544.2" y2="185.2" stroke="#356f12" stroke-width="1" opacity="0.8"/>
<line x1="574.2" y1="208.2" x2="579.2" y2="195.7" stroke="#356f12" stroke-width="1" opacity="0.8"/>
<line x1="553.6" y1="209.7" x2="554.2" y2="185.3" stroke="#a7d94f" stroke-width="1" opacity="0.8"/>
<line x1="560.3" y1="212.4" x2="563.3" y2="191.5" stroke="#4a8a1c" stroke-width="1" opacity="0.8"/>
<line x1="571.9" y1="210.3" x2="573.3" y2="188.8" stroke="#4a8a1c" stroke-width="1" opacity="0.8"/>
<line x1="573.1" y1="213.3" x2="580.6" y2="197.2" stroke="#356f12" stroke-width="1" opacity="0.8"/>
<line x1="543.8" y1="206.3" x2="538.1" y2="195.3" stroke="#356f12" stroke-width="1" opacity="0.8"/>
<line x1="553.1" y1="210.6" x2="555.7" y2="200.4" stroke="#b9e36a" stroke-width="1" opacity="0.8"/>
<line x1="546.0" y1="207.4" x2="543.9" y2="191.8" stroke="#356f12" stroke-width="1" opacity="0.8"/>
<line x1="558.9" y1="212.1" x2="549.6" y2="194.6" stroke="#356f12" stroke-width="1" opacity="0.8"/>
<line x1="573.7" y1="206.4" x2="576.3" y2="186.2" stroke="#4a8a1c" stroke-width="1" opacity="0.8"/>
<line x1="539.3" y1="209.3" x2="528.1" y2="185.7" stroke="#b9e36a" stroke-width="1" opacity="0.8"/>
<line x1="551.5" y1="207.1" x2="542.0" y2="177.0" stroke="#b9e36a" stroke-width="1" opacity="0.8"/>
<line x1="538.0" y1="211.8" x2="530.0" y2="184.8" stroke="#a7d94f" stroke-width="1" opacity="0.8"/>
<line x1="551.5" y1="211.9" x2="557.5" y2="200.6" stroke="#b9e36a" stroke-width="1" opacity="0.8"/>
<line x1="573.9" y1="212.0" x2="585.4" y2="185.4" stroke="#4a8a1c" stroke-width="1" opacity="0.8"/>
<line x1="539.8" y1="211.3" x2="534.3" y2="192.7" stroke="#4a8a1c" stroke-width="1" opacity="0.8"/>
<line x1="565.2" y1="209.5" x2="568.8" y2="178.4" stroke="#4a8a1c" stroke-width="1" opacity="0.8"/>
<line x1="562.1" y1="209.4" x2="568.4" y2="197.6" stroke="#b9e36a" stroke-width="1" opacity="0.8"/>
<line x1="546.3" y1="209.3" x2="556.4" y2="190.6" stroke="#b9e36a" stroke-width="1" opacity="0.8"/>
<line x1="572.2" y1="210.9" x2="584.6" y2="187.7" stroke="#4a8a1c" stroke-width="1" opacity="0.8"/>
</g>
<path d="M480,259 V233.5 H523.5" fill="none" stroke="#2b776d" stroke-width="1.8"/>
<path d="M596.5,291.3 H640 V277.5" fill="none" stroke="#2b776d" stroke-width="1.8"/>
<text x="491" y="250.8" font-size="12.5" fill="#222" text-anchor="start" textLength="133.5" lengthAdjust="spacing" >Angle adjustable design</text>
<text x="491" y="266.45" font-size="12.5" fill="#222" text-anchor="start" textLength="133.5" lengthAdjust="spacing" >enables panel to absorb</text>
<text x="491" y="282.1" font-size="12.5" fill="#222" text-anchor="start" textLength="142.8" lengthAdjust="spacing" >sunlight energy efficiently</text>
<rect x="2" y="216.5" width="144.5" height="136" rx="7" ry="7" fill="#141416"/>
<rect x="5.5" y="219.5" width="137.5" height="124" rx="5" ry="5" fill="#2a2930"/>
<rect x="7.5" y="221.5" width="133.5" height="120" rx="4" ry="4" fill="url(#gBack)"/>
<path d="M4,342 H144.5 V346 Q144.5,352.5 138,352.5 H10 Q4,352.5 4,346 Z" fill="#0a0a0c"/>
<circle cx="18.5" cy="231" r="4.3" fill="#141416"/><circle cx="18.5" cy="231" r="2.8" fill="#d2d2d6"/><circle cx="18.5" cy="231" r="1.1" fill="#3a3a3e"/>
<circle cx="127.3" cy="230" r="4.3" fill="#141416"/><circle cx="127.3" cy="230" r="2.8" fill="#d2d2d6"/><circle cx="127.3" cy="230" r="1.1" fill="#3a3a3e"/>
<circle cx="18.5" cy="329.5" r="4.3" fill="#141416"/><circle cx="18.5" cy="329.5" r="2.8" fill="#d2d2d6"/><circle cx="18.5" cy="329.5" r="1.1" fill="#3a3a3e"/>
<circle cx="128.7" cy="328" r="4.3" fill="#141416"/><circle cx="128.7" cy="328" r="2.8" fill="#d2d2d6"/><circle cx="128.7" cy="328" r="1.1" fill="#3a3a3e"/>
<rect x="56.5" y="313.5" width="35" height="31" rx="2" fill="#0e0e10"/>
<rect x="60" y="318" width="28" height="24" rx="1.5" fill="#1d1d20"/>
<circle cx="110.8" cy="263.3" r="11.8" fill="#1b1b1e"/>
<circle cx="110.8" cy="263.3" r="10.6" fill="#16332f"/>
<circle cx="110.8" cy="291.7" r="11.8" fill="#1b1b1e"/>
<circle cx="110.8" cy="291.7" r="10.6" fill="#16332f"/>
<g transform="translate(110.8,263.3)"><circle r="10" fill="#1a1a1a" opacity="0.0"/><circle r="8.0" fill="none" stroke="#20a898" stroke-width="3.8" stroke-dasharray="14.555160819145563 2.2" transform="rotate(-86)"/><circle r="3.5999999999999996" fill="#20a898"/></g>
<g transform="translate(110.8,291.7)"><circle r="10" fill="#1a1a1a" opacity="0.0"/><circle r="8.0" fill="none" stroke="#20a898" stroke-width="3.8" stroke-dasharray="14.555160819145563 2.2" transform="rotate(-86)"/><circle r="3.5999999999999996" fill="#20a898"/></g>
<g transform="translate(75.8,333)"><circle r="10" fill="#1a1a1a" opacity="0.0"/><circle r="8.0" fill="none" stroke="#20a898" stroke-width="3.8" stroke-dasharray="14.555160819145563 2.2" transform="rotate(-86)"/><circle r="3.5999999999999996" fill="#20a898"/></g>
<line x1="125.5" y1="263.6" x2="170.5" y2="263.6" stroke="#1c9c8d" stroke-width="2" stroke-dasharray="11 5.5"/>
<line x1="125.5" y1="292" x2="170.5" y2="292" stroke="#1c9c8d" stroke-width="2" stroke-dasharray="11 5.5"/>
<line x1="91" y1="333.3" x2="170.5" y2="333.3" stroke="#1c9c8d" stroke-width="2" stroke-dasharray="11 5.5"/>
<text x="173" y="272" font-size="15.5" fill="#222" text-anchor="start" textLength="95.4" lengthAdjust="spacing" >Mode Switch</text>
<text x="173" y="301.3" font-size="15.5" fill="#222" text-anchor="start" textLength="100.2" lengthAdjust="spacing" >Power Switch</text>
<text x="173" y="339.4" font-size="15.5" fill="#222" text-anchor="start" textLength="141.5" lengthAdjust="spacing" >Connecting Trough</text>
<text x="173" y="368.2" font-size="15.5" fill="#222" text-anchor="start" textLength="85.9" lengthAdjust="spacing" >Fixing Plate</text>
<text x="173" y="465.2" font-size="15.5" fill="#222" text-anchor="start" textLength="118" lengthAdjust="spacing" >Connecting Rod</text>
<text x="173" y="562.7" font-size="15.5" fill="#222" text-anchor="start" textLength="39.8" lengthAdjust="spacing" >Spike</text>
<g stroke="#2a8277" stroke-width="1.4" fill="none"><line x1="19" y1="354.6" x2="41.6" y2="354.6"/><line x1="19" y1="492.4" x2="41.6" y2="492.4"/><line x1="30.8" y1="354.6" x2="30.8" y2="418.4"/><line x1="30.8" y1="434.4" x2="30.8" y2="492.4"/></g>
<text x="1.5" y="429.6" font-size="10.2" fill="#222" text-anchor="start" textLength="50" lengthAdjust="spacing" >4.7in\12cm</text>
<g stroke="#2a8277" stroke-width="1.4" fill="none"><line x1="20" y1="506.2" x2="42.6" y2="506.2"/><line x1="20" y1="670.9" x2="42.6" y2="670.9"/><line x1="31.3" y1="506.2" x2="31.3" y2="579"/><line x1="31.3" y1="595" x2="31.3" y2="670.9"/></g>
<text x="1.5" y="590.2" font-size="10.2" fill="#222" text-anchor="start" textLength="50" lengthAdjust="spacing" >4.7in\12cm</text>
<path d="M44.8,355 L85.6,359 L90.2,380.5 L51.6,378 Z" fill="#151517"/>
<path d="M47,357 L84,360.5 L87.5,377.5 L53,375.5 Z" fill="#222225"/>
<path d="M56,368 L67,371 L70.5,392 L52.5,392 Z" fill="#0c0c0e"/>
<circle cx="77" cy="383" r="6.3" fill="#111113"/><circle cx="77" cy="383" r="3.4" fill="#2b2b2e"/><path d="M72.5,380 A6,6 0 0 1 80,378" stroke="#bdbdc0" stroke-width="1" fill="none"/>
<path d="M56.5,371 L58.5,386 M61,372 L66,386 M55,389 L60,391" stroke="#c9c9cc" stroke-width="1.1" fill="none" opacity="0.8"/>
<rect x="51.6" y="390.5" width="19" height="8.5" rx="1.5" fill="#0c0c0e"/>
<rect x="52.6" y="397" width="16.8" height="95.5" fill="url(#gRod)"/>
<path d="M52.6,488 H69.4 V492.5 H52.6 Z" fill="#0a0a0a"/>
<g transform="translate(76.8,365.2)"><circle r="10" fill="#1a1a1a" opacity="0.0"/><circle r="8.0" fill="none" stroke="#20a898" stroke-width="3.8" stroke-dasharray="14.555160819145563 2.2" transform="rotate(-86)"/><circle r="3.5999999999999996" fill="#20a898"/></g>
<line x1="92" y1="365.2" x2="170.5" y2="365.2" stroke="#1c9c8d" stroke-width="2" stroke-dasharray="11 5.5"/>
<g transform="translate(60.5,459.6)"><circle r="10" fill="#1a1a1a" opacity="0.0"/><circle r="8.0" fill="none" stroke="#20a898" stroke-width="3.8" stroke-dasharray="14.555160819145563 2.2" transform="rotate(-86)"/><circle r="3.5999999999999996" fill="#20a898"/></g>
<line x1="75.6" y1="459.6" x2="170.5" y2="459.6" stroke="#1c9c8d" stroke-width="2" stroke-dasharray="11 5.5"/>
<path d="M55.4,510 L60,505.8 L62.5,505.8 L63,509 L64.5,509 L65,505.8 L69.5,507.5 L71.4,511 L71.4,541 L55.4,541 Z" fill="#0d0d0f"/>
<rect x="52.8" y="540.8" width="20.5" height="4.5" rx="1" fill="#161618"/>
<path d="M55.6,545 L71.2,545 L70.3,601 L68,641 L66,660 L64,673.5 L61.8,660 L60,641 L56.5,601 Z" fill="url(#gRod)"/>
<g transform="translate(61.3,559)"><circle r="10" fill="#1a1a1a" opacity="0.0"/><circle r="8.0" fill="none" stroke="#20a898" stroke-width="3.8" stroke-dasharray="14.555160819145563 2.2" transform="rotate(-86)"/><circle r="3.5999999999999996" fill="#20a898"/></g>
<line x1="75.5" y1="559.5" x2="170.5" y2="559.5" stroke="#1c9c8d" stroke-width="2" stroke-dasharray="11 5.5"/>
<text x="323.5" y="491.8" font-size="11.3" fill="#333" text-anchor="start" textLength="77" lengthAdjust="spacing" >11.02in\28cm</text>
<path d="M327.1,433.3 L385.8,391.6 L420,400 L419.6,407.6 L408.9,414.7 L343.1,456.4 L327,446.7 L322.7,442.2 Z" fill="#ababab"/>
<path d="M327.1,433.3 L385.8,391.6 L388,394.5 L329.5,436.5 Z" fill="#c6c6c6"/>
<path d="M322.7,442.2 L327.1,433.3 L330,437 L328.5,442 L333,446.5 L343.1,456.4 L327,446.7 Z" fill="#959595"/>
<path d="M358.2,348.9 L419.6,369.3 L427,396 L400,398 L385.8,391.6 L353.8,376.4 Z" fill="#b9b9b9"/>
<path d="M358.2,348.9 L364.5,351 L360,379.3 L353.8,376.4 Z" fill="#d2d2d2"/>
<path d="M358.2,348.9 L419.6,369.3 L419,372.5 L357.8,351.8 Z" fill="#c9c9c9"/>
<path d="M386.7,389.8 L412.4,373.8 L418.7,375.6 L426.7,398.7 L420.4,402.2 L412.4,384.4 L391,393.3 Z" fill="#8e8e8e"/>
<g stroke="#2a8277" stroke-width="1.4" fill="none"><line x1="339.5" y1="321" x2="410" y2="321"/><line x1="355.5" y1="321" x2="355.5" y2="470.5"/><line x1="355.5" y1="509" x2="355.5" y2="659"/><line x1="339" y1="659" x2="480.5" y2="659"/></g>
<path d="M416.5,446 L433,446 L432,546 L414.8,546 Z" fill="url(#gRod)"/>
<rect x="414.3" y="543.5" width="18" height="4.5" rx="1" fill="#0a0a0b"/>
<path d="M416.8,548 L429.8,548 L429,595 L427,624 L425,645 L422,659.5 L420.6,645 L419.2,624 L417.7,595 Z" fill="#0c0c0e"/>
<rect x="415" y="444.5" width="19.5" height="3.5" rx="1" fill="#0a0a0b"/>
<path d="M418,421 L431,415 L445,410 L450,418 L436,428 L433,446 L416.5,446 Z" fill="#0e0e10"/>
<circle cx="424.6" cy="427.5" r="4.6" fill="#3a3a3d"/><circle cx="424.6" cy="427.5" r="2.6" fill="#cfcfd2"/><circle cx="424.6" cy="427.5" r="1.2" fill="#555"/>
<path d="M414.5,338.5 L433.5,323 L435,321 L441.5,323 L482,428 L475,431 L474,434 L452,437 L449,433 Z" fill="#0c0c0e"/>
<path d="M418,340 L434,327 L470,424 L455,431 Z" fill="#1b1b1e"/>
<path d="M434,326 L438,324.5 L476,426 L471,428 Z" fill="#050506"/>
<path d="M428,372 L462,392 M446,376 L452,418 M430,385 L468,405" stroke="#3a3a3d" stroke-width="0.6" fill="none"/>
<path d="M431,394.8 C408,385 386,412 396,447" fill="none" stroke="#1c9c8d" stroke-width="2.7"/>
<path d="M402.7,438.5 L413.5,454.6 L394.5,452.5 Z" fill="#1c9c8d"/>
<text x="367" y="423.4" font-size="18.5" fill="#2a2a2a" text-anchor="start" textLength="26.6" lengthAdjust="spacing" >90°</text>
<clipPath id="cBundle"><path d="M679,319 L673,327 L662,335 L657,344 L655,358 L644,373 L640,383 L629,398 L612,408 L592,414 L577,420 L561,428 L544,437 L514,449 L509,462 L494,475 L478,486 L452,496 L441,503 L441,512 L450,520 L446,530 L441,544 L445,554 L466,554 L468,565 L478,581 L485,596 L503,603 L522,611 L536,625 L555,636 L584,647 L588,658 L602,661 L621,658 L635,662 L654,658 L665,647 L679,636 L700,636 L700,319 Z"/></clipPath>
<path d="M679,323 L667,336 L660,358 L646,380 L634,400 L604,413 L580,423 L555,435 L527,452 L518,468 L502,484 L490,496 L478,510 L476,530 L474,548 L480,566 L490,584 L502,597 L524,609 L542,624 L562,635 L592,646 L604,653 L679,640 Z" fill="#0b0d0c"/>
<defs><path id="w1" d="M709.7,347.9l-6.7,5.5 -2.7,8.3 -4.3,7.3 -7.3,5.1 -4,7.4 -3,8.2 -6.8,5.4 -5.6,6.3 -2.5,8.5 -5.5,6.4 -4.9,4.5 -2.3,5.9 -0.2,6.7 -1.9,6 -4.4,5.1 -3.3,5.8 -0.6,7 -1.5,7 -5.3,5.5 -4.8,6 -2,8.2 -5.1,7 -8.1,5.3"/><path id="w2" d="M698.2,369.4l-2.9,9.5 -4,8.8 -7.7,6.5 -5,8.2 -2.5,9.7 -6.2,7.4 -3.8,5.4 -1.5,6.4 1.1,6.8 1,6.6 -1.4,6.6 -2.4,6.9 -0.1,7 2.6,7 1.8,7 -1.1,7.3 -1.8,7.4 1,7.3 2.8,7.2 0.4,7.4 -2.6,7.3 -1.8,7.1 1,7.4 0.9,7.6 -2.6,7 -4.5,6.3 -2.7,6.8 -1,7.9 -3.3,7.1"/><path id="w3" d="M715.0,275.4l-4.2,7 -6.2,6 -4,7.2 -2.6,8 -5.1,6.6 -5.9,6.1 -3.2,7.7 -3.1,7.8 -5.8,6.1 -5.2,6.5 -2.7,8 -3.9,7.3 -6.1,5.9 -4.4,7 -2.6,8.1 -4.8,6.8 -6,6 -3.5,7.5 -3.6,5.5 -5.7,3.5 -6.9,1.7 -6.4,2.9 -5.4,5 -5.4,4.7 -6.7,3.8 -5.5,6.3 -1.7,9.2"/><path id="w4" d="M714.0,320.7l-7.2,5.2 -3.9,7.4 -2.1,8.6 -5.5,6.3 -7,5.3 -3.6,7.6 -2.2,8.5 -5.8,6.1 -6.9,5.4 -3.3,7.9 -2.4,8.3 -6.1,6 -6.7,5.4 -2.9,5.8 -2.3,6.6 -4.2,5.2 -6.4,3.2 -6,3.7 -3.7,5.9 -3.3,6.6 -5.5,4.5 -7,2.9 -5.6,4.5 -3.4,7 -4,6.2 -6.6,3.8 -6.7,4 -3.7,6.7 -2.7,7.5 -5.3,5.4 -6.7,4.7 -3.8,6.9 -1.4,8.3"/><path id="w5" d="M700.4,372.8l-7.4,6.5 -1.5,10.1 -6.6,7 -5.7,7.5 -1.7,9.8 -7.9,6.3 -2.3,6.4 1.2,7.2 -1.5,6.3 -4.2,6.2 -0,6.9 2.5,7.2 -1.9,6.9 -2.8,7 2.4,7.3 1.6,7.3 -3.3,7.3 -0.3,7.4 3.2,7.6 -1.8,7.4 -3.1,7.3 2.2,7.7 0,7.7 -4.7,6.8 -0.8,7.5 0.8,8.2 -5.1,6.5 -4.2,6.6 -0.4,8.7 -5.3,6.4 -6.9,5.5"/><path id="w6" d="M721.3,260.1l-6.7,5.6 -2.9,8 -2.6,8.1 -6.5,5.8 -5.3,6.5 -1.9,8.6 -4.3,7 -6.8,5.6 -3.5,7.6 -2.2,8.4 -6.1,6 -5.8,6.2 -2.1,8.4 -3.8,7.4 -6.8,5.6 -4,7.3 -2,8.5 -5.7,6.3 -6.2,5.9 -2.4,8.3 -4.3,5.3 -6.5,2 -6.7,0.8 -5.9,3.2 -5.6,4.7 -7,2 -8.1,0.4 -7,4.1 -5.9,6.6 -8.7,3.5"/><path id="w7" d="M709.4,312.4l-5.2,6.2 -5.9,5.8 -2.5,7.8 -2.6,7.7 -6,5.7 -5,6.3 -2,8.1 -3.5,7.2 -6.3,5.5 -4.1,6.9 -1.8,8.2 -4.6,6.5 -6.2,5.6 -3,7.5 -1.8,6.5 -3.9,5.3 -5.4,4.4 -3.8,5.6 -1.6,6.9 -2.9,6.3 -5.4,4.8 -4.9,5.3 -2.2,7 -2.5,6.9 -5.5,5.1 -5.5,5.1 -2.8,7.1 -2.8,7.2 -6,5.1 -5.9,5.2 -3.1,7.5 -3.9,7"/><path id="w8" d="M726.1,263.6l-5.9,5.9 -4.6,6.8 -3.1,7.8 -4.5,6.9 -5.9,6 -4.6,6.8 -3.1,7.7 -4.5,6.9 -5.9,6 -4.6,6.8 -3.1,7.8 -4.5,6.8 -5.9,6 -4.5,6.8 -3.2,7.8 -4.5,6.9 -5.9,5.9 -4.5,6.8 -3.1,7.8 -4.6,6.9 -5.6,3.3 -5.6,2.8 -5.3,3.6 -5.5,4 -6.2,2.7 -7,1.9 -6.5,3.5 -5,5.8 -4.8,6.5 -6.2,6.4"/><path id="w9" d="M700.0,387.4l-5,9 -5,9 -8.6,6.2 -3.1,10.1 -1.6,5.9 -3.3,6.3 0.5,6.9 3.6,6.5 0.5,7 -1.1,7.6 3.2,6.9 4.3,6.6 -0.4,8 0.8,7.7 4.7,6.8 1.2,7.7 -1.8,8 2.1,7.5 2,7.8 -3.6,7.6 -2.2,7.5 0.3,8.9 -5.5,7.1 -6.2,7.1"/><path id="w10" d="M704.8,341.5l-6.3,6.2 -5.6,6.6 -2.4,8.7 -3.8,7.7 -6.7,5.9 -4.5,7.3 -2.2,8.7 -5,7 -6.6,6.1 -3.4,7.9 -1.1,6.7 -2.9,5.7 -4.6,5 -3.5,5.6 -1.1,6.6 -0.8,6.9 -2.9,6 -4.5,5.5 -2.8,6.2 -0.5,7.2 -1.2,7 -3.9,6.1 -4.3,6.1 -1.5,7.2 -0.5,7.8 -3.3,6.8 -5,6.3 -2.5,7.4 -0.7,8.3 -3.5,7.3 -5.6,6.6"/><path id="w11" d="M703.7,344.7l-4.7,6.5 -2.6,7.9 -3.7,7.2 -5.9,5.8 -5.1,6.3 -2.8,7.8 -3.3,7.4 -5.7,6 -5.5,6 -3,7.6 -1.9,6.4 -3.3,5.5 -4.5,5 -3.6,5.4 -1.9,6.3 -1.2,6.5 -2.7,5.9 -4.2,5.3 -3.7,5.5 -2,6.4 -1.1,6.9 -2.6,6.3 -4.3,5.5 -4,5.9 -1.9,6.9 -1.5,7.3 -3.6,6.5 -5.1,5.8 -3.7,6.8 -1.8,7.9 -3.2,7.4 -5.7,6.2 -4.9,6.9 -2.6,8.5 -4.1,8 -6.8,6.5"/><path id="w12" d="M698.3,397.4l-6.8,5.3 -4.6,7.2 -4.1,7.6 -6.3,5.7 -2.8,6 -0.7,6.7 1.5,6.8 1.1,6.9 -0.6,7.1 -0.6,7.3 1.9,7.2 3.3,7 1.7,7.4 -0.2,7.9 1.2,7.7 3.4,7.2 2.5,7.4 -0.1,7.9 -0.3,7.8 2,7.4 2.1,7.4 -0.6,7.5 -2.4,7.3 -1.2,7.2 0.1,7.6 -1.7,7.5 -4.8,6.3"/><path id="w13" d="M714.7,309.2l-5.3,6.2 -5.6,6 -3.9,7.1 -3.5,7.4 -5.2,6.4 -5.7,5.9 -4.2,6.9 -3.4,7.5 -4.8,6.5 -5.8,5.9 -4.5,6.7 -3.3,7.5 -4.5,6.8 -5.8,5.8 -4.8,6.5 -3.3,5.8 -3.7,5.4 -4.9,4.4 -5.5,3.8 -4.9,4.4 -4.2,5.3 -4.3,5.3 -5.4,4.3 -6.2,3.9 -5.5,4.9 -4.7,6.1 -5.2,5.9 -6.8,4.9 -6.5,5.6 -5.1,7.5 -5.8,7.3"/><path id="w14" d="M702.2,329.4l-5.7,6.6 -2.5,8.3 -2.9,8.1 -6,6.5 -4.9,7 -2,8.7 -3.9,7.5 -6.3,6.3 -3.7,7.7 -2.1,8.6 -5,6.9 -4.5,5.1 -2.5,6 -0.7,6.7 -1.4,6.3 -3.6,5.6 -3.6,5.7 -1.5,6.5 -0,6.9 -1.6,6.5 -3.7,6 -3.2,6.2 -0.8,7.1 -0.5,7.3 -3.3,6.6 -4.5,6.1 -2.2,7.2 -0.9,8 -3.7,7 -5.6,6.2 -3.3,7.6 -2.3,8.5 -5.7,6.9 -6.6,6.6"/><path id="w15" d="M699.2,343.9l-3.9,6.9 -2.6,7.6 -4.1,6.8 -5.5,5.9 -4.1,6.8 -2.5,7.6 -4.1,6.8 -5.5,5.9 -4.1,6.8 -2.6,7.6 -2.3,5.9 -3.3,5.4 -3,5.7 -1.1,6.2 -0,6.5 -1,6.4 -2.5,6.2 -2.7,6.2 -1.1,6.8 -0.6,7.3 -2.8,7 -4.6,6.5 -3.6,7.3 -2.9,8.5 -5.9,7.4 -7.5,7"/><path id="w16" d="M713.0,307.5l-2.2,8 -5.3,6 -6.2,5.4 -2.8,7.6 -2.9,7.6 -6.3,5.4 -5.2,6 -2.1,8.1 -4.1,6.8 -6.6,5.1 -3.9,6.9 -2.2,8 -5.4,6 -6.1,5.4 -2.8,7.7 -2.4,6.2 -4.9,4.4 -5.6,3.8 -3.6,5.4 -2.3,6.6 -4.2,5.1 -6.1,3.6 -4.9,4.7 -2.7,6.6 -3.7,5.9 -6.1,3.9 -5.6,4.4 -3.1,6.7 -3.5,6.5 -6.1,4.3 -5.9,4.7 -3,7.1 -3.6,6.8 -6.4,4.6 -5.4,5.7 -2.5,7.9 -4.4,6.7 -6.7,5.2"/><path id="w17" d="M696.9,372.6l-3.6,8.3 -4.1,7.9 -6.1,6.6 -5.1,7.3 -3.4,8.4 -4.7,7.4 -3,5.7 -1.8,6.3 0.2,6.6 0.8,6.7 -0.3,6.6 -1.2,6.9 0,7 1.8,6.9 1.7,7.1 -0.2,7.3 -0.8,7.3 0.9,7.3 1.7,7.3 0,7.5 -1.8,7.4 -1.1,7.4 0.2,7.7 -1,7.8 -3.5,7.2 -3.8,7.1 -2.5,8"/><path id="w18" d="M696.8,365.2l-5.6,5.4 -1.9,7.6 -2.3,7.4 -6.1,5.2 -4.9,5.8 -1.4,8 -3.2,6.9 -6.4,5.1 -2.7,6.3 1.1,7.3 -0.1,7 -3.2,6.9 -1.1,7.4 2.9,7.6 0.6,7.6 -3,7.8 0.3,7.8 2.8,7.8 -1.7,7.7 -3.7,7.2 0.1,7.7 -0.1,8.1 -5.2,6.2 -5.4,5.8 -2.7,8.1 -5.7,6.6"/><path id="w19" d="M697.0,400.1l-6.2,8 -6.6,7.7 -3.2,9.7 0.1,6.3 -0.8,6.7 -0.3,7.5 2.7,7.1 4.5,6.8 2.8,7.6 1,8.3 2.9,7.6 4.5,6.9 2.5,7.5 -0.5,7.7 -0.6,7.1 0.5,6.9 -0.7,7.3 -4.4,6.2"/><path id="w20" d="M714.4,300.6l-2.9,8.1 -5.7,6.3 -4.8,6.8 -3.1,8 -5.9,6.1 -4.4,7.2 -3.3,7.8 -6.1,6 -4,7.4 -3.6,7.7 -6.1,5.9 -3.6,7.7 -4,7.4 -6.1,6 -3.3,7.8 -3.5,5.7 -5.3,4.4 -4,5.3 -2.6,6.4 -4.7,5.1 -5.5,4.6 -3.5,6.3 -4.2,6.1 -6.5,4.4 -4.8,6.4 -5,6.7 -7.6,4.5 -5.6,7.2"/><path id="w21" d="M696.2,375.2l-7.6,6 -2.6,8.8 -3.5,8.4 -7.5,6 -2.3,9 -3.8,8 -4.4,5.4 -1,6.7 2.3,6.9 -0.4,6.8 -2.7,7.2 1.6,7.2 3.5,7.1 -1.1,7.6 -0.9,7.8 3.8,7.2 1.4,7.6 -2.5,7.8 1.3,7.5 2.7,7.5 -2.6,7.4 -2.7,7 1.1,7.8 -1.5,7.4 -5.9,5.6 -3.3,6.9 -2.4,8.2"/><path id="w22" d="M718.1,283.7l-6.3,5.9 -5.4,6.5 -2.5,8.3 -3.7,7.6 -6.5,5.9 -5.1,6.7 -2.3,8.4 -4,7.4 -6.6,5.8 -4.8,6.9 -2.3,8.4 -4.3,7.2 -6.6,5.8 -4.5,7.1 -2.2,8.4 -4.7,7 -6.5,5.7 -4.3,4.5 -3.5,6 -4.3,5.3 -6.2,3.3 -6.9,2.4 -5.6,4.4 -4.7,5.9 -5.9,4.4 -7.3,2.2 -6.8,3.2 -5.1,5.7 -5,5.7 -6.7,3.4 -7,3 -5.1,5.4 -3.6,6.8 -4.7,5.4 -6.3,4.3 -4.8,5.6"/><path id="w23" d="M721.4,279.6l-2.8,7.6 -6.1,5.5 -5,6.1 -2.4,7.9 -5,6.2 -6.1,5.4 -2.7,7.7 -3.8,6.9 -6.5,5.2 -3.8,7 -2.7,7.7 -6,5.4 -5.1,6.1 -2.4,7.9 -5,6.2 -6.1,5.4 -2.8,7.6 -3.7,7.1 -6.3,5.1 -4.7,4.3 -3.9,5.9 -5.6,3.7 -6.9,1.8 -5.7,3.9 -5,5.3 -6.8,2.5 -7.3,1.3 -6,4.3 -6,4.5 -7.6,1.1 -7.2,2.2 -6,5.2 -7,2.9 -7.9,1 -6.4,4.4 -6.1,4.8 -7.8,1.6 -7.1,3.1 -5.4,5.9 -6.8,3.6 -7.5,2.5 -5.3,6"/><path id="w24" d="M692.0,402.6l-5.5,5.8 -2.9,7.3 -2.3,7.4 -1.7,5.8 -1.6,6.5 1.4,6.6 3.5,6.2 2.2,6.6 0.8,7.6 2.8,6.9 5,6.2 3,7.1 1,7.9 3.2,7 4.2,6.6 1.3,7.5 -0.7,7.5 1.1,7.2 1.4,7.6 -2.3,7.3 -4.5,6.7 -2.8,7.9"/><path id="w25" d="M712.4,333.4l-7.8,5.4 -3.7,8.1 -3.1,8.5 -7.7,5.5 -4.1,7.8 -2.8,8.7 -7.6,5.5 -4.4,7.6 -2.6,8.9 -7.5,5.6 -4.8,7.4 -0.8,7.1 -3.8,5.4 -5.6,4.6 -2.7,6.1 -0.7,7.3 -3.7,5.7 -5.7,4.8 -2.5,6.5 -0.7,7.5 -4.3,5.8 -5.5,5.2 -1.8,7.2 -1.1,7.6 -5.2,5.6 -4.8,6 -0.6,8 -2.6,7.1 -6.1,5.7 -2.6,7.3 -0.6,8.3 -5.2,6.4 -4.7,6.7 -0.3,8.7"/><path id="w26" d="M703.3,377.7l-5.4,7.1 -6.9,6 -3,8.7 -5.4,7 -6.9,6.1 -2.8,8.6 -1.6,5.9 -3.5,5.8 -1.5,6.3 1.5,6.7 0.2,6.6 -2.3,6.6 -0.4,6.9 2.6,6.8 0.7,6.9 -2,7.2 0.8,7.1 2.8,7 -0.5,7.3 -1.8,7.4 1.7,7.2 1.5,7.4 -2.4,7.3 -1.6,7.2 1.5,7.7 -1.5,7.4 -4.2,6.8 -1.2,7.6 -1.2,8.1 -5.6,6.3 -4.3,7"/><path id="w27" d="M712.7,310.8l-6.2,5.9 -2.9,8 -3.6,7.6 -6.4,5.7 -3.8,7.4 -2.7,8.1 -6.1,6 -4.9,6.8 -2.3,8.3 -5.3,6.5 -5.8,6.1 -2.6,8.3 -4.2,7.1 -6.3,5.8 -2.7,6 -1.5,6.7 -3.5,5.5 -4.7,5.1 -2.4,6.3 -0.9,7 -3.1,6.1 -4.8,5.4 -2.4,6.5 -1.1,7.3 -3.8,6 -5.2,5.5 -2.6,6.8 -2.3,7.3 -5.5,5.3 -5.5,5.4 -3.2,7.5 -5.1,6.2 -7.5,4.2 -5.4,6.7 -5.9,6.7"/><path id="w28" d="M715.2,296.0l-2.7,8.7 -4.6,7.5 -6.9,6 -1.2,9.6 -8,5.4 -2.9,8.5 -4.3,7.7 -7.1,5.9 -1.2,9.6 -7.8,5.5 -3.2,8.3 -3.9,8 -7.4,5.7 -1.2,9.6 -7.6,5.6 -4,5 -1.8,7.2 -6.1,3.4 -6.2,3.3 -2.5,7.2 -5.4,4.4 -7.3,2.3 -3.3,6.8 -4.8,5.3 -7.8,1.9 -3.9,6.6 -4.5,5.9 -8,2.2 -3.8,6.9 -4.4,6.2 -7.9,2.9 -3.1,7.5 -4.6,6.2 -7.6,4.1 -1.8,8.6 -5.5,5.9 -6,6.1"/><path id="w29" d="M696.7,362.0l-3.1,7.3 -6.3,5.4 -3.5,7.1 -1.5,8.1 -5,6.2 -5.7,5.8 -1.8,8 -2.7,7.3 -4.4,5.1 -3.1,5.8 0.3,6.8 0.2,6.6 -3,6.2 -2.9,6.3 0.8,6.9 1.3,7.1 -2.2,6.7 -2.8,6.7 1,7.2 1.3,7.3 -2.7,6.9 -2.8,6.9 0.9,7.5 0.2,7.5 -4,6.7 -2.9,6.9 0.3,7.9 -2.4,7.4 -5.6,5.9 -2.9,7.4 -1.8,8.3 -6.3,5.8"/><path id="w30" d="M711.8,283.7l-2.6,8.1 -2.5,8.1 -6.4,5.7 -5.8,6 -2.1,8.4 -3.2,7.6 -6.8,5.4 -5.1,6.5 -1.7,8.6 -4,7.2 -7,5.3 -4.3,7 -1.7,8.6 -4.8,6.6 -6.9,5.4 -3.5,7.5 -2,8.6 -4.9,4.5 -6.3,3.2 -5,4.6 -3,6.6 -3.9,5.9 -6.5,3.4 -6.6,3.3 -4.3,5.9 -3.8,6.8 -6.1,4.1 -7.3,2.7 -5.4,5.1 -3.8,7 -5.6,4.8 -7.5,2.6 -6.1,4.3 -3.9,6.9 -5,5.4 -7.2,2.8 -6.5,3.6"/><path id="w31" d="M727.3,258.3l-7.4,5.2 -3.5,7.8 -3,8.2 -7.5,5.2 -3.2,8 -3.4,7.9 -7.4,5.3 -2.9,8.2 -3.7,7.7 -7.4,5.3 -2.6,8.4 -4,7.5 -7.3,5.3 -2.4,8.5 -4.4,7.3 -7.2,5.4 -2.2,8.7 -4.7,7.1 -7,5.5 -2.1,8.8 -5.2,5.3 -7.8,2.6 -5.1,6.4 -6,5.8 -8.7,1.8 -5.8,6 -5.8,5.7 -7.9,1.6 -5.5,4.4"/><path id="w32" d="M713.5,306.4l-3.3,7.4 -5.7,5.8 -5.4,6 -3.1,7.5 -3.6,7.3 -5.8,5.7 -5.2,6.2 -2.9,7.6 -3.9,7 -6,5.6 -4.8,6.4 -2.8,7.7 -4.2,6.8 -6.1,5.6 -4.5,6.6 -2.8,6 -3.9,5.4 -5.7,3.9 -5.7,4 -4.3,5.5 -4,5.9 -5.7,4.4 -6.5,3.5 -5.3,4.9 -4.3,6.2 -5.5,5 -6.7,3.5 -5.7,4.7 -4.2,6.3 -4.9,5.6 -6.3,4 -5.8,4.7 -3.8,6.4 -3.8,6.3 -5.4,4.8 -5.4,5"/><path id="w33" d="M709.3,330.5l-3.4,8.5 -6.6,6.3 -5.7,7 -2.9,8.8 -5.3,7.2 -6.8,6.3 -3.7,8.3 -3.8,8.2 -6.8,6.2 -5.2,7.3 -2.9,8.8 -3.7,5.3 -5,4.4 -3.9,5.1 -2,6.2 -2,6.2 -3.9,5 -4.8,4.6 -3.5,5.4 -1.8,6.4 -2.4,6.2 -4.6,5 -4.9,4.9 -3.1,6.2 -2.1,7 -4,5.9 -5.8,5 -4.3,6.2 -2.5,7.6 -4.5,6.6 -6.7,5.3 -4.6,7.1 -3.5,8.3 -6.6,6.3 -7,6.5"/><path id="w34" d="M701.0,381.5l-4.9,6.6 -3.6,7.4 -5.1,6.4 -6.1,5.6 -4.5,6.8 -3.6,7.2 -1.7,6.1 -1.9,6.4 -0.2,6.8 2,6.8 1.9,6.9 0.4,7.4 0.9,7.5 3,7.1 3.2,7.1 1,7.8 0.7,7.8 2.7,7.4 2.4,7.4 -0.2,7.8 -0.9,7.6 0.5,7.6 0.1,7.8 -2.9,7.3 -4.2,6.9 -3.2,7.9 -4.4,7.9"/><path id="w35" d="M712.2,317.3l-6.9,5.9 -3.3,8.1 -2.8,8.5 -6.6,6 -5.8,6.6 -2.3,8.8 -4.3,7.5 -7,5.7 -4.1,7.7 -2.4,8.7 -6,6.4 -6.4,6.2 -2.7,8.5 -2.6,6 -5,4.3 -5.7,3.5 -4.1,4.9 -2.6,6.4 -3.6,5.6 -5.7,3.7 -6,3.5 -3.9,5.5 -3,6.4 -4.7,5 -6.4,3.3 -5.5,4.3 -3.4,6.5 -3.6,6.2 -6.1,4.1 -6.4,3.8 -4,6.1 -3.1,7 -5.4,5.1 -6.7,4.1 -4.5,6 -2.7,7.6 -4.8,5.9 -6.8,4.7 -4.4,6.5 -2.2,8.1"/><path id="w36" d="M716.7,277.4l-1.4,8.8 -5.7,6.2 -5.8,6.1 -1.4,8.9 -6,6 -5.5,6.3 -1.4,8.8 -6.3,5.8 -5.1,6.6 -1.5,8.7 -6.6,5.7 -4.8,6.7 -1.6,8.7 -6.8,5.6 -4.4,6.9 -1.8,8.6 -7,5.4 -3.9,7.2 -3.2,6.1 -6.2,2.7 -6.8,1.4 -4.8,5.1 -5.5,4.5 -7.5,0 -6.7,2.1 -5.7,5.4 -7.3,1.1 -7.7,-0.1 -6.2,4.9 -7,2.7 -8.1,-0.7 -6.6,4.1 -6.4,4.3 -8.2,-0.2 -6.8,3.4 -5.5,5.7 -7.8,1.3 -7,3.1 -4.3,7 -6.8,3.5 -7.2,3.6 -3,7.9 -5.5,5.8"/><path id="w37" d="M704.2,343.1l-5.5,5.7 -2.9,7.4 -3.8,6.8 -5.8,5.6 -3.7,6.9 -3,7.3 -5.5,5.8 -4.6,6.3 -2.7,7.5 -4.7,6.2 -5.5,5.9 -1.9,6.2 -1.4,6.3 -3.3,5.7 -3.2,5.8 -0.8,6.6 -0.7,6.8 -2.8,6.2 -2.7,6.3 -0.2,7 -0.9,6.9 -3.2,6.4 -2.3,6.7 -0.3,7.3 -2.2,6.8 -4,6.2 -2.1,7 -1.6,7.3 -4.4,6.2 -4.5,6.1 -2.6,7.5 -4.7,6.4 -6.4,5.3 -4.6,7.1 -5.9,6.4"/><path id="w38" d="M707.2,323.6l-3.1,7.2 -2.1,8 -5.4,5.7 -6.3,5.2 -3,7.4 -2.1,7.8 -5.6,5.7 -6.2,5.2 -2.9,7.5 -2.2,7.8 -5.7,5.6 -6.2,5.3 -2.6,7.5 -2,6.6 -4.4,4.8 -5.7,3.8 -4.1,4.9 -2,6.5 -2.5,6.2 -5,4.3 -5.7,3.8 -3.8,5.4 -1.9,6.8 -3.5,5.8 -5.9,4 -5.5,4.5 -2.9,6.6 -2.6,7 -5.5,5 -6.6,4.3 -3.7,6.8 -2.7,7.8 -5.9,5.5 -7.1,5 -3.5,7.9 -3.7,8.2 -7.7,5.4 -6,7"/><path id="w39" d="M710.4,316.9l-3.7,7.6 -5.9,6.3 -3.6,7.7 -3.4,7.7 -5.9,6.3 -3.8,7.6 -3.3,7.8 -5.8,6.3 -4,7.5 -3.1,7.9 -5.8,6.3 -4.2,7.4 -3.1,8 -4.7,4.6 -4.7,4.5 -3.3,5.8 -3.5,5.8 -5.3,4.2 -5.2,4.6 -3.5,6.1 -4.2,5.6 -5.8,4.3 -4.8,5.4 -3.4,6.6 -5.1,5.4 -5.7,5.1 -3.5,7 -3.9,6.8 -5.9,5.8 -3.6,7.3"/><path id="w40" d="M724.6,260.7l-6.7,5.7 -3.9,7.5 -2.5,8.4 -5.8,6.3 -5.8,6.2 -2.5,8.4 -3.9,7.5 -6.7,5.8 -4,7.3 -2.5,8.4 -5.6,6.4 -6,6.2 -2.6,8.3 -3.7,7.6 -6.6,5.8 -4.3,7.3 -2.4,8.4 -5.5,6.5 -6.1,6.1 -2.6,8.3 -4.2,5.2 -6.3,2.5 -6.6,1.7 -5.6,3.8 -5.5,4.8 -6.8,2.4 -7.5,0.9 -6.5,3.6 -5.3,5.6 -6.5,3.7 -7.5,2.9 -5.2,6.1"/><path id="w41" d="M714.1,275.4l-2.9,7.9 -6.3,5.9 -2.4,8.2 -4.5,7 -5.4,6.4 -2,8.4 -5.9,6.2 -3.9,7.3 -2.8,8 -6.3,5.9 -2.5,8.1 -4.3,7.1 -5.6,6.3 -2,8.4 -5.7,6.3 -4.2,7.2 -2.6,8 -6.2,5.8 -3.7,5.2 -3.8,5.4 -6.2,2.4 -5.8,2.9 -4.4,5.5 -6.2,3.2 -7,2.8 -4.6,6.5 -6.7,4.7 -6.9,5.6 -4.7,8.7"/><path id="w42" d="M691.5,379.4l-3.9,8.2 -3.1,8.7 -6.6,6.8 -2.1,9.2 -5.5,7.4 -2.8,6.1 1.2,6.8 -0.1,6.5 -2.1,6.7 1.2,6.8 2.7,6.7 -0.9,7.2 0.3,7.3 3.3,6.9 -0.2,7.5 -1,7.6 2.7,7.4 -0.8,7.7 -2.6,7.6 1,8.3 -3,7.8 -4.4,7.5 -1.6,9.3"/><path id="w43" d="M711.8,280.1l-4.3,6.7 -1.9,8.1 -4.2,6.7 -6.4,5.4 -4,6.8 -1.9,8.1 -4.5,6.5 -6.4,5.4 -3.6,7.1 -2,8.1 -4.9,6.3 -6.3,5.4 -3.2,7.3 -2.2,8 -5.2,6.1 -6.1,5.5 -3,7.5 -2.4,8 -5.4,4.1 -6.3,2.9 -5.1,4.3 -4,6.1 -5.2,4.7 -7.2,2.3 -6.7,3 -5,5.6 -5.3,5.4 -7.2,2.5 -7.3,2.5 -5.3,5.4 -5,5.8 -6.6,3.3 -7.2,2.6 -5.1,5.2 -3.8,6.5 -5.2,4.7 -6.4,3.5"/><path id="w44" d="M711.0,314.0l-4.1,6.9 -5.6,6 -4.6,6.6 -3.1,7.5 -4.2,6.9 -5.6,5.9 -4.5,6.6 -3.1,7.6 -4.2,6.8 -5.6,5.9 -4.5,6.7 -3.1,7.5 -4.2,6.8 -5.6,6 -3.6,5.4 -2.2,6.3 -2.2,6.3 -3.5,5.8 -4,5.6 -2.8,6.4 -1.7,6.9 -2.6,6.6 -4.2,5.9 -4.1,5.9 -2.7,6.8 -2.8,6.9 -4.7,5.8 -5.6,5.2 -4.5,6.1 -4.3,6.7 -6.1,5.2 -7.3,4.1"/><path id="w45" d="M693.7,383.1l-2.5,10.6 -8.4,7.4 -3.9,9.8 -3.2,10.1 -3.7,5.4 -2.2,6.3 1.6,6.6 2.7,6.5 -0.2,6.7 -1.7,7.3 1.7,6.9 4.4,6.4 1.7,7.1 -1.3,7.8 1.3,7.3 4.4,6.7 1.5,7.4 -2,7.7 0.1,7.4 3,7.5 -0,7.7 -4.1,7.1 -2,7.3 0.4,8.6 -3.8,7.5"/><path id="w46" d="M703.3,371.5l-6.5,7.4 -3.5,9.4 -5.2,8.3 -7.2,6.9 -4.2,9 -4.1,8.8 -3,5.5 -2.7,6 -0.5,6.5 1.3,6.7 0.6,6.8 -1.3,6.8 -1.2,7.1 1.2,7 2,7.1 -0.2,7.3 -2,7.2 -1,7.2 0.8,7.6 -0.6,7.6 -3.6,6.9 -4,6.7 -2.3,7.9 -3.4,7.9"/><path id="w47" d="M702.7,355.3l-7.6,6.3 -2.9,9.2 -3.7,8.7 -7.9,6.1 -4.4,8.2 -2.4,9.5 -7.2,6.5 -6.2,7.3 -0.1,7.1 -0.6,6.6 -3.4,5.9 -3.8,6.1 -0.5,6.9 1.4,7.3 -1.1,6.9 -3.9,6.6 -1.7,7.1 1.5,7.6 -0,7.4 -3.9,6.8 -3,6.9 0.5,7.8 -0.2,7.8 -4.5,6.5 -4.5,6.4 -1.1,7.8"/><path id="w48" d="M702.6,374.7l-3.4,8.8 -7.2,6 -6,6.8 -3.1,9 -6.4,6.5 -7,6.4 -0.1,7.2 0.3,6.7 -2.2,6.5 -2.1,6.8 1.3,7.1 2.5,7 -0.5,7.4 -1.3,7.6 2.5,7.4 3.2,7.2 -0.5,7.9 -0.3,8 3.4,7.4 2.4,7.6 -1.3,8 0.3,7.8 3.2,7.5 0.6,7.6 -2.4,7.6 -0,7.5 1.7,7.6 -1.4,7.3 -4,6.7 -1.8,7 -0.6,7.8 -4,6.5 -6.2,5.2 -4,6.9"/><path id="w49" d="M724.4,248.8l-6.2,6.1 -3.4,7.9 -3.4,7.9 -6.3,6 -4.4,7.3 -2.7,8.2 -5.7,6.5 -5.4,6.5 -2.7,8.3 -4.7,7.1 -6.1,6.1 -3.3,8 -3.5,7.7 -6.3,6.1 -4.3,7.3 -2.8,8.2 -5.7,6.4 -5.4,6.6 -2.7,8.4 -4.7,7 -6,6 -4.2,4.4 -4.6,4.7 -5.9,2.4 -6.8,0.7 -6.3,2.4 -6,4.4 -6.8,2.8 -7.9,1.8 -6.7,5.2 -6.3,6.8"/><path id="w50" d="M715.4,274.3l-5.9,6.2 -5.3,6.6 -2.5,8.2 -3.6,7.6 -6.2,6 -4.5,7.1 -2.3,8.3 -4.4,7.1 -6.2,6 -3.8,7.5 -2.4,8.3 -5.2,6.6 -5.9,6.2 -3,7.9 -2.9,8 -5.8,6.3 -5.4,6.5 -2.5,8.3 -4.4,5.1 -5.9,2.9 -6.2,2.1 -5.4,3.4 -4.8,4.7 -5.7,3.5 -6.7,1.3 -6.7,1.1 -6.1,3.3 -5.8,4.3 -6.7,2.2 -7.4,0.6 -6.9,2.3 -6.2,4.7 -6.6,3.5 -7.8,1.4 -7.4,2.6 -6.1,5.6 -6.7,4.7 -8.2,2.6 -7.2,4.6 -5.6,7.3"/><path id="w51" d="M707.5,355.7l-6.1,5.6 -2.9,8.1 -3.8,7.3 -7,5.1 -5.2,6.4 -2.5,8.3 -4.9,6.6 -7,5 -4.2,7.2 -0.4,7.3 -2.2,6.7 -4.2,6.5 -1.4,7.4 1.2,8 -1.4,7.7 -4.4,7 -2,7.5 -0.3,8.3 -4,7.1 -6.8,5.3"/><path id="w52" d="M691.9,392.5l-2,8.9 -4.1,7.8 -5.9,6.9 -2.5,8.7 0.3,6.3 -1.1,6.3 -0.6,6.8 2.6,6.4 4,6.1 1.8,7.1 1.1,7.6 3.9,6.6 4.3,6.5 1,7.7 0.5,7.6 2.9,7.1 1.5,7.6 -2.5,7.5 -2.3,7.6 -0.9,8.7 -5.3,7.7"/><path id="w53" d="M710.1,306.6l-5.5,6.6 -2.3,8.5 -4.1,7.4 -6.5,6 -3.5,7.7 -2.6,8.3 -6,6.3 -5.3,6.7 -2.3,8.6 -4.3,7.2 -6.5,6 -3.3,7.9 -2.7,8.2 -6.1,6.3 -4.6,4.7 -2.4,6.2 -2.3,6.4 -4.3,4.9 -5.3,4.4 -3.5,5.5 -2,6.6 -3.4,5.8 -5.4,4.5 -4.7,5 -2.5,6.6 -2.8,6.5 -5.4,4.9 -5.5,4.9 -3.2,6.7 -3,7 -5.7,5.2 -6,5.2 -3.4,7.3 -3.9,7.2 -6.9,5 -5.7,6.3 -3.5,8.3 -6.3,6.3"/><path id="w54" d="M713.5,286.2l-3.4,7.5 -5.9,6 -5.2,6.4 -2.7,7.9 -3.2,7.7 -5.7,6 -5.4,6.3 -2.9,7.8 -3,7.8 -5.5,6.2 -5.6,6.2 -3.1,7.6 -2.8,7.9 -5.3,6.4 -5.8,6 -3.3,7.6 -2.7,8.1 -5.3,4.1 -6.2,2.3 -6,2.6 -5.3,4.1 -5.5,4.4 -6.6,2.5 -7.3,1 -6.8,2.5 -5.8,4.7 -5.8,4.7 -6.9,2.8 -7.2,3.2 -5.3,5.8 -3.9,7.3"/><path id="w55" d="M717.9,302.7l-6.4,6 -2.2,8.7 -6.4,5.9 -5.1,6.8 -2.7,8.5 -7.1,5.4 -3.7,7.7 -3.7,7.8 -7.2,5.4 -2.6,8.4 -5.1,6.8 -6.4,6 -2.2,8.7 -6.4,5.9 -5.1,6.8 -2.2,6.4 -5.2,4.1 -6,3.2 -3.4,6 -3.9,5.5 -6.6,2.7 -5.3,4.3 -3.5,6.4 -6,3.5 -6.7,2.9 -3.9,6.3 -5.2,4.8 -7.2,2.5 -4.7,5.6 -4.4,5.9 -7.2,2.8 -5.4,4.9 -3.8,6.8 -6.9,3.5 -5.8,4.7 -3.3,7.3 -6.2,4.4 -6.1,4.8 -2.6,7.7 -5.7,5.3 -5.9,5.3"/><path id="w56" d="M711.8,318.6l-3.6,7.7 -6.7,5.8 -4.2,7.4 -3.1,8.2 -6.4,5.9 -5,6.9 -2.7,8.3 -5.9,6.3 -5.7,6.4 -2.7,8.4 -5.2,6.8 -6.3,6 -3,8.2 -3.3,5.8 -5.4,4.2 -4.8,4.6 -2.8,6.4 -3.5,5.8 -5.8,4.2 -5.2,4.8 -3.1,6.8 -4.2,6.1 -6.5,4.6 -4.7,6.3 -3.3,7.8 -6.4,5.9 -5.9,6.6"/><path id="w57" d="M718.3,267.8l-5.6,5.8 -3.8,7 -3,7.5 -5.2,6 -5.1,6.2 -2.9,7.5 -4,6.9 -5.6,5.8 -4,6.8 -2.9,7.5 -5.1,6.2 -5.1,6.1 -3,7.5 -3.8,6.9 -5.7,5.8 -4.1,6.8 -2.9,7.5 -4.9,6.3 -5.3,6 -3.1,7.4 -4.9,4.5 -6.3,1.9 -6.7,1.1 -6.5,2.6 -6.9,2.4 -7.5,-0 -7.6,0.1 -7.3,2.7 -7.2,2.1 -7.6,0.6 -7.1,2.5 -5.8,4.9 -6,4.4 -6.6,4.6 -4.2,7.6"/><path id="w58" d="M723.7,249.4l-3,8 -7.3,5.3 -1.8,8.6 -4.7,7 -6.5,5.8 -1.3,9 -6.2,6 -5,6.7 -1.6,8.8 -7.3,5.3 -3.3,7.7 -2.8,8.1 -7.4,5.3 -2,8.5 -4.4,7.1 -6.7,5.7 -1.2,9 -6,6.1 -5.3,6.6 -1.5,8.8 -7,5.3 -4.9,3.9 -3.8,6.4 -6.9,2 -7.3,1.3 -5.4,5.9 -7.1,2.4 -8,0.2 -5.8,5.7 -6.9,2.9 -8,0.4 -5.3,5.7 -5.6,4.4 -7.5,1.3"/><path id="w59" d="M698.0,381.3l-5.1,7.8 -5.8,7.3 -2.4,9.4 -6.7,6.9 -4,8.4 0.2,6.5 -2.2,6.2 -1.4,6.5 2.2,6.5 1.8,6.5 -0.9,7.2 1.2,6.9 3.7,6.5 0.5,7.4 -0.1,7.5 3.3,6.9 1.4,7.3 -1.6,7.7 1.5,7.5 1.2,7.7 -3.2,7.5 -1.2,7.9 -0.7,8.5 -5.7,7.1"/><path id="w60" d="M719.5,251.0l-5,6.6 -4.9,6.6 -2.2,8.2 -5.5,6.2 -4.2,7.1 -2.4,8 -6,6 -3.4,7.5 -3,7.7 -6.1,5.9 -2.7,7.9 -3.7,7.3 -5.8,6 -2.3,8.2 -4.5,6.8 -5.4,6.4 -2.1,8.2 -5.1,6.4 -4.8,6.8 -2.1,8.1 -5.7,6.1 -5.4,3.4 -5.3,4.7 -7.1,1.3 -7.4,0.4 -6.9,3.7 -7.5,1.7 -7.9,1.1 -6.1,5.6 -7,4.2 -6.7,5.9"/><path id="w61" d="M695.9,377.4l-4.8,6.4 -2.4,7.9 -3.2,7.3 -5.5,6.1 -4.1,6.9 -2.2,7.8 -1.9,6.3 -3.1,6 -1.9,6.4 0.5,6.8 0.6,6.9 -1.7,7 -2.1,7.1 0.1,7.7 0.4,8.2 -3,8 -3.2,8.3 -0.8,9.7"/><path id="w62" d="M712.3,283.1l-2.4,7.7 -4.3,6.7 -5.7,5.7 -4.2,6.7 -2.4,7.8 -3.7,7 -5.7,5.7 -4.7,6.4 -2.6,7.6 -3.2,7.3 -5.4,6 -5.2,6 -3,7.5 -2.7,7.5 -4.9,6.3 -5.6,5.8 -3.5,7.1 -2.6,7.9 -4.8,4.6 -5.9,3.2 -5.6,3.2 -4.7,4.5 -4.4,5 -5.4,3.8 -6.5,2.1 -6.4,2.4 -5.6,4.1 -5.2,5 -6.3,3.6 -7.3,2.2 -6.8,3.3 -5.7,5.6 -6.1,5.3 -7.8,3.4 -7.6,4.1 -5.8,7 -6.5,6.7"/><path id="w63" d="M693.0,377.3l-2.2,9.8 -5.1,8.2 -5.3,8.3 -2.1,9.8 -7.1,7.4 -0.6,6.6 1.3,6.5 -1.3,6.4 -1.6,6.6 2.3,6.6 2.5,6.5 -0.8,7.3 1.2,7.1 4.2,6.5 1,7.3 -0,7.7 4,6.7 2.2,7.1 -0.8,7.9 2.5,7 2.8,7.2 -1.6,7.6 -0,7.3 2.2,7.4 -2.1,7.2 -3.1,6.9 0.2,7.9 -3,7.3 -5.9,6 -2.6,8.3"/><path id="w64" d="M702.1,368.3l-6.2,6.1 -3,8.3 -6.1,6.1 -5.4,6.7 -3.2,8.1 -6.7,5.8 -4.5,7.2 -0.7,6.6 -3.1,5.9 -2.5,6.2 0.7,7 -0.3,6.8 -2.7,6.7 0.2,7.1 1.4,7.3 -1.9,7.1 -1,7.3 1.8,7.4 -1.3,7.3 -2.2,7.2 1.1,7.6 -1.1,7.4 -3.4,6.9 -0.5,7.5 -1.4,7.5 -4.8,6.2 -2.5,7.3 -2.7,7.5 -6.5,5.4"/><path id="w65" d="M705.3,344.6l-2.1,8.5 -5.2,6.4 -5.9,6 -2.2,8.4 -4.8,6.7 -6.2,5.9 -2.3,8.3 -4.4,6.9 -6.4,5.7 -2.5,8.2 -2.1,6 -4.6,5 -3.3,5.6 -0.4,6.8 -1.6,6.3 -4.4,5.4 -2.6,6.1 -0,7.2 -2.3,6.4 -4.6,5.8 -1.8,6.8 -0.6,7.5 -4.3,6.2 -4.3,6.4 -1,8 -3.8,7 -5.9,6.1 -2.3,8.4 -4.6,7.4"/><path id="w66" d="M720.5,279.6l-5.5,6.3 -4.9,6.6 -3,7.8 -4.3,7 -5.7,6.1 -3.9,7.3 -3.2,7.7 -5.3,6.4 -5.2,6.4 -3.1,7.8 -4,7.2 -5.7,6.1 -4.3,7 -3,7.8 -4.9,6.6 -5.5,6.3 -3.4,7.6 -3.6,7.5 -5.4,3.8 -5.6,3.4 -4.8,4.5 -5,4.7 -6.1,3.2 -6.7,2.2 -6,3.7 -5.5,4.9 -6.3,3.6 -7,2.8 -6,4.5 -4.9,5.9 -5.8,5.1 -6.6,4.8 -4.5,6.9"/><path id="w67" d="M700.2,331.2l-3,7.9 -5.3,6.5 -4.4,7.1 -2.6,8 -4.2,7.2 -5.4,6.5 -3.1,7.7 -3,7.9 -5.3,6.5 -4.5,7.1 -2.5,8 -3.1,5.8 -4.3,5.2 -3.3,5.9 -1.7,6.7 -2.2,6.5 -3.9,5.9 -3.5,6.1 -1.7,6.9 -1.9,7 -3.9,6.1 -3.9,6.3 -2,7.1 -2.2,7.2 -4.5,6.1 -4.2,6.3 -2.5,7.3 -3.3,7.1 -5.4,5.8 -4.6,6.3 -3.3,7.5 -5.1,6.3"/><path id="w68" d="M719.8,283.8l-6,5.7 -6.4,5.4 -2.2,8.2 -3.1,7.6 -7,5 -4.9,6.4 -1.6,8.5 -4.8,6.6 -7,5 -3.3,7.5 -2.1,8.2 -6.3,5.5 -6.1,5.6 -2,8.3 -3.4,7.4 -7.1,5 -4.5,6.6 -1.8,8.7 -5,4.6 -6.7,2.5 -5.4,3.8 -3.5,6.3 -4.7,5.1 -7.1,1.9 -6.7,2.4 -4.7,5.6 -4.9,5.5 -7.2,2 -7.4,1.7 -5.3,5.3 -5.1,5.8 -7.4,2 -7.6,1.8 -5.3,5.6 -5.2,5.9 -7.6,2.1 -7.5,2.5 -4.8,6.5 -5.2,5.8 -7.8,2.5 -6.8,3.9 -3.9,7.4 -5.3,5.8 -7.8,3.3"/><path id="w69" d="M701.6,373.7l-4.1,7.4 -7,5.2 -3.7,7.6 -4.5,7.1 -6.9,5.2 -3.4,7.9 -4.9,6.6 -4,5.3 -1,6.4 0.6,6.5 -2.1,6.1 -2.2,6.2 1,6.6 1,6.7 -2.2,6.6 -1.1,6.8 1.8,7 -1.1,7.1 -3,6.9 0.3,7.6 -1,7.7 -4.7,6.9 -1.6,8.2 -3,8.3 -6.5,6.9 -3.1,9.7"/><path id="w70" d="M709.5,314.6l-4.4,6.8 -6.6,5.4 -3,7.7 -2.3,8 -6.3,5.7 -5.2,6.3 -1.7,8.4 -4.3,6.9 -6.7,5.4 -3.1,7.6 -2.2,8.1 -6.2,5.7 -5.3,6.3 -1.8,8.4 -3.5,5.6 -5.8,3.9 -4.8,4.6 -2.2,6.7 -2.8,6.4 -5.7,4.2 -5.7,4.3 -2.8,6.7 -2.8,6.7 -5.8,4.4 -6.2,4.2 -3.2,6.8 -3.3,6.8 -6.5,4.1 -6.3,4.4 -3.5,7.2 -4.4,6.3 -7.5,3.6 -6,5.1 -3.8,7.6 -6.5,4.9"/><path id="w71" d="M715.2,267.2l-4,7.3 -2.8,8.1 -6.3,5.9 -3.7,7.6 -3,7.9 -6.4,5.9 -3.3,7.8 -3.4,7.7 -6.4,5.9 -3,7.9 -3.7,7.5 -6.4,6 -2.7,8.1 -4.1,7.3 -6.2,6 -2.5,8.3 -4.5,7 -6,6.2 -2.4,8.4 -4.8,4.7 -6.3,2 -5.3,3.7 -4.7,5.4 -6.9,3.6 -7,5.6 -4.8,9.9"/><path id="w72" d="M700.7,361.9l-4.4,8.5 -6.6,7.3 -4,8.8 -3.9,8.8 -6.6,7.3 -4.5,8.5 -3.5,9 -2.6,5.7 -2.4,6.1 -0.3,6.5 1.2,6.7 0.2,6.6 -1.1,6.9 -0,7 2.1,6.8 2,7 -0.1,7.3 -0,7.4 2.1,7.1 2.4,7.2 -0.1,7.5 -0.6,7.5 1.5,7.3 1.7,7.4 -0.8,7.4 -1.9,7.3 -0.2,7.5 0.2,7.6 -2.5,7.2 -3.9,6.8 -2.4,7.4 -2.4,7.9 -5.5,6.6"/><path id="w73" d="M692.3,404.9l-5.2,5.8 -3.7,6.6 -2.6,7.1 -0.8,6 -1.1,6.2 0.1,6.7 2.3,6.5 3.4,6.3 2.2,6.8 0.8,7.4 1.5,7.2 2.6,7 1,7.5 -2,7.5 -2.9,7.3 -2.4,8.5 -5.2,8.3"/><path id="w74" d="M690.5,390.3l-1.5,7.8 -4.1,6.3 -5.9,5.2 -1.6,7.7 -3.8,6.4 -3.7,5.8 0.8,6.7 2,6.4 -1.8,6.8 0.4,6.9 4.1,6.2 0.5,7.2 -0.1,7.5 4.6,6.4 1.4,7.3 -0.5,7.8 4.2,6.9 0.9,7.6 -1.5,7.8 3.2,7.7 -0.9,7.9 -2.9,7.7 1.5,8.8 -4.6,7.7 -3.3,8.4"/><path id="w75" d="M711.1,320.4l-5.4,6.4 -5.1,6.5 -2.8,7.9 -4.1,7.1 -5.9,6.1 -3.7,7.4 -3,7.8 -5.4,6.3 -5.1,6.6 -2.8,7.9 -4.2,7.1 -5.8,6.1 -3.7,7.4 -2.5,6 -4.1,5.1 -4.9,4.5 -3.7,5.4 -2.5,6.3 -3.5,5.7 -5,4.7 -4.5,5.1 -2.8,6.4 -3.3,6.1 -5.2,4.9 -5.1,5 -3.3,6.5 -3.7,6.3 -5.6,4.9 -5.5,5 -3.8,6.7 -4.6,6.3 -6.4,4.6 -5.7,5.4 -4.4,7 -6,5.5"/><path id="w76" d="M701.0,361.3l-2.3,8.4 -4.5,6.9 -6.8,5.3 -4.8,6.7 -2.4,8.3 -4.1,7.1 -6.8,5.4 -5.2,6.6 -0.4,7 -0,6.7 -2.2,6.4 -3.3,6.4 -1.2,7 1.6,7.4 1,7.3 -2.1,7.2 -2.7,7.2 0.1,7.4 1.6,7.7 -0.9,7.4 -3.8,6.8 -2.9,6.8 -0.4,7.6 -1.2,7.6 -4.6,6.2"/><path id="w77" d="M696.1,401.3l-6.9,7.1 -5.6,7.9 -3.5,8.9 -2.3,6.2 0.5,7 4.6,6.1 3.1,7 1.5,8.1 5.3,6.4 4.3,7 0.2,8.3 2.4,7.4 2.1,7.9 -4,7.6 -3.8,8.2"/><path id="w78" d="M702.4,358.5l-6.9,5 -2.8,7.5 -2.4,7.7 -6.8,5.1 -3.6,6.9 -1.8,8.2 -6.5,5.2 -4.5,6.5 -1.4,8.2 -4,5.2 -4.7,5.2 -0.5,6.9 -0.2,7 -4.3,5.7 -3.1,6.2 1,7.3 -1.3,6.9 -4.6,6 -1,7.1 0.8,7.6 -4,6.5 -3.6,6.5 0.6,8 -2.7,7.1 -5.5,6 -1,8.1 -2.5,7.6 -6.7,5.6 -2.6,8.1 -3.7,7.9 -8,5.1"/><path id="w79" d="M722.3,259.1l-6.7,5.7 -5.1,6.6 -1.5,8.8 -5.4,6.5 -6.6,5.8 -2,8.5 -3.6,7.6 -7.2,5.4 -3.4,7.7 -2.1,8.4 -6.8,5.7 -5,6.6 -1.6,8.9 -5.4,6.4 -6.5,5.8 -2,8.6 -3.7,7.5 -7.1,5.4 -3.4,7.7 -2.4,8.7 -6.6,2.8 -6.6,1.2 -5.6,4 -5.9,4.4 -7.4,0.6 -7.8,0.6 -5.8,5.6 -5.5,5.7 -8.5,3.6 -4.9,8.4"/><path id="w80" d="M717.5,264.7l-4.9,6.5 -1.8,8.3 -3.4,7.4 -6.5,5.5 -5,6.4 -1.8,8.3 -3.4,7.4 -6.5,5.5 -5.1,6.4 -1.8,8.3 -3.3,7.4 -6.5,5.5 -5.1,6.3 -1.9,8.3 -3.2,7.5 -6.4,5.5 -5.2,6.3 -1.9,8.3 -3.2,7.5 -6.3,5.5 -5.8,2.4 -5.2,4.1 -6,4.5 -7.2,1.5 -8,0.1 -6.8,3.5 -4.2,6.9 -4.5,6.8"/><path id="w81" d="M710.8,318.9l-5.3,6.4 -2.6,8.2 -3.8,7.5 -6.4,5.8 -5,6.6 -2.6,8.3 -4,7.3 -6.5,5.7 -4.8,6.8 -2.5,8.3 -4.3,7.1 -6.5,5.7 -4.5,7 -1.7,6.4 -2.3,6.1 -4.2,5 -4.7,4.9 -2.9,5.9 -1.4,6.7 -2.3,6.4 -4.4,5.4 -4.7,5.3 -2.7,6.4 -1.4,7.1 -3.1,6.4 -5.2,5.3 -4.5,5.7 -2.2,7.1 -2.4,7.1 -4.9,5.7 -5.8,5.2 -3.7,6.7 -2.7,7.5 -4.9,6.1"/><path id="w82" d="M700.2,356.4l-4.3,7.8 -2.6,8.9 -7.5,5.8 -3.8,8.1 -3,8.6 -7.5,5.7 -3.4,8.4 -3.3,8.2 -4.4,5.1 -2.2,6.2 1.4,6.9 -0.2,6.7 -3.3,6.6 -0.5,6.9 2.6,7.2 -0.9,7.1 -2.9,7.2 1.2,7.3 1.6,7.4 -3.3,7.1 -2.2,6.9 1.2,7.8 -2.1,7.2 -5.3,5.9 -2,7.3 -2.1,7.8"/><path id="w83" d="M717.5,302.8l-2.7,8.3 -7.3,5.2 -4.9,6.8 -1.9,8.9 -6.4,5.8 -6.2,5.9 -1.8,8.9 -5.1,6.7 -7.3,5.2 -2.4,8.5 -3.7,7.6 -7.5,5 -3.7,7.7 -2.5,8.4 -7.2,5.3 -4.9,4.5 -2.2,6.8 -3.4,6 -6.6,3.3 -5.6,4.2 -2.8,7.1 -4.1,5.9 -7.3,3 -5.6,4.8 -3.2,7.5 -5.8,5 -7.9,3 -4.6,6.8 -4.5,7.1 -8.3,3.2"/><path id="w84" d="M715.5,299.5l-5.8,6.4 -5.9,6.4 -2.1,8.6 -4.4,7.3 -6.7,5.9 -3,8.1 -3,8.1 -6.7,5.9 -4.5,7.3 -2.1,8.6 -5.8,6.4 -5.8,6.4 -2.2,8.7 -4.4,7.2 -6.7,5.8 -3.2,5.6 -2.6,6.4 -4.7,4.6 -6.2,3.3 -4.6,4.8 -3,6.4 -4.5,5.1 -6.5,3.1 -5.4,4.3 -3.5,6.5 -4.5,5.4 -6.9,3.1 -5.8,4.4 -3.7,6.7 -5,5.4 -7.2,3.2 -5.6,5.2 -3.8,7.1 -6,5 -7.4,3.7 -4.6,6.7 -4.4,7.1 -7.5,4.2"/><path id="w85" d="M696.1,354.1l-3.7,6.8 -1.6,8.1 -5.9,5.5 -5.1,5.9 -1.3,8.2 -4.6,6.3 -6.2,5.3 -1.9,7.9 -3.2,7.1 -4.9,4.7 -2.5,5.9 0.6,6.9 -1.3,6.3 -4,5.8 -1.4,6.5 1.6,7 -1.3,6.6 -3.7,6.4 -0,6.9 1.5,7.3 -2.6,6.6 -3.2,6.7 0.9,7.4 -0.3,7.3 -4.5,6.3 -2,7 0.3,8 -4.1,6.5 -5,6 -1.1,8.2 -3.9,7.1 -7,5.1 -3.2,8.3 -5.4,6.9"/><path id="w86" d="M711.4,298.8l-5.7,5.7 -3,7.4 -2.6,7.5 -5.5,5.9 -5.2,6 -2.4,7.7 -3.3,7.1 -5.9,5.6 -4.5,6.5 -2.2,7.8 -4.1,6.7 -5.9,5.6 -3.7,6.9 -2.3,7.8 -4.9,6.2 -5.6,5.6 -3.6,5.2 -3.6,5.7 -5.4,3.9 -6.7,2.4 -5.7,3.6 -4.9,5.5 -5.8,4.1 -7.1,2.1 -6.5,3.5 -4.9,5.8 -5.5,4.7 -7,3 -6,4.6 -3.7,6.9 -4.5,6 -6.3,5.1 -4,6.9"/><path id="w87" d="M702.7,354.3l-5.7,5.9 -5.1,6.3 -2.5,8.1 -6.6,5.4 -3.9,7.2 -3.3,7.5 -6.7,5.3 -2.9,7.8 -4.4,6.7 -4.2,5.3 -0.3,6.7 0.2,6.8 -3.1,6.6 -0.3,7 1.7,7.3 -2.5,7.2 -0.8,7.2 1.5,7.6 -3.1,6.9 -2.2,6.9 0.1,7.7 -4.6,6.1 -4.5,5.9 -2.8,7.7 -7.4,4.2"/><path id="w88" d="M703.2,367.4l-6.5,6.3 -5.1,7.3 -3.1,8.5 -6.7,6.1 -4.7,7.6 -3.3,8.4 -7,6.1 -2,6.3 0.3,6.8 -1.5,6.4 -2.9,6.3 -0.2,6.9 1.5,7 -1.2,6.9 -1.9,7.1 1.5,7.2 1,7.3 -2.2,7.2 -0.4,7.4 1.8,7.4 -1.3,7.4 -2.6,7.2 0.6,7.6 -0.5,7.6 -4,6.8 -2,7.3 -0.8,7.9 -4.8,6.5 -4.8,6.5"/><path id="w89" d="M719.8,270.3l-5.5,6.2 -2.6,8 -4.2,6.9 -6.1,5.9 -3,7.7 -3.5,7.5 -6.1,5.7 -3.8,7.3 -2.8,7.8 -5.9,6 -4.6,6.7 -2.5,8.1 -5.2,6.3 -5.5,6.2 -2.4,8.1 -4.5,6.8 -6,5.9 -2.9,7.8 -3.7,7.5 -6,3 -5.2,3.6 -4.2,5.1 -5.1,4 -6.4,1.8 -6.1,2.3 -5.2,4.4 -5.7,3.5 -6.9,1.1 -6.6,2 -5.6,4.4 -6.4,3.1 -7.3,0.9 -6.6,3 -5.8,4.8 -7,2.6 -7.5,1.9 -5.9,5.1 -6.2,4.8 -7.8,2.6 -6.4,5 -5.3,6.6 -7.7,4.2 -6.5,5.9"/><path id="w90" d="M716.1,313.5l-3.7,7.6 -6.7,5.4 -4.2,7.3 -3,8 -6.5,5.7 -5,6.6 -2.7,8.3 -5.8,6.1 -5.9,6 -2.7,8.3 -5,6.6 -6.5,5.7 -3,8 -4.1,7.3 -5.2,4.1 -3.8,4.9 -1.9,6.3 -2.7,5.7 -4.9,4.2 -4.6,4.6 -2.3,6.3 -2.5,6.2 -5.1,4.7 -5.1,4.7 -2.7,6.8 -3.2,6.7 -6.1,4.8 -5,6 -2.8,8 -6,6 -6.5,6"/><path id="w91" d="M696.9,352.5l-1.4,9.4 -5.5,7.1 -5.8,7 -1.4,9.4 -5.6,7.1 -5.8,7 -1.3,9.4 -5.7,7 -4.5,5 -1,6.5 -0.3,6.7 -3.5,5.5 -4.2,5.4 -0.8,6.7 0.3,7 -3.2,6.1 -4.3,5.8 -0.7,7.1 -0.1,7.4 -4.3,6.2 -4.2,6.2 -0.4,8.1 -2.7,7.3 -6.3,5.8 -2.6,7.9 -2.5,8.4"/><path id="w92" d="M698.8,373.8l-6.7,6.2 -5.1,7.1 -1.5,9.3 -6.5,6.4 -5.5,6.8 -1.3,9.1 -2.2,5.7 -3.7,5.9 -0,6.7 2.8,6.7 -0.1,6.8 -2.3,7.3 1.7,7 3.8,6.8 -0.5,7.5 -1.3,7.7 3.3,7 2.6,7.2 -2.1,7.7 -0.3,7.3 3.2,7.3 -0.4,7.4 -3.8,6.8 -0.4,7.2 0.8,7.8 -4.1,6.4 -5.6,5.7"/><path id="w93" d="M691.7,377.3l-3.3,7.7 -3.1,7.7 -5.2,6.6 -4.9,6.7 -3,7.8 -3.4,7.4 -3,5.6 -2.6,5.8 -0.9,6.3 0.2,6.4 -0.6,6.3 -1.8,6.2 -1.4,6.4 0.2,6.5 1.1,6.6 -0.1,6.7 -1.4,6.7 -0.6,6.8 1,6.8 1,7 -0.8,7 -1.5,7.1 0.1,7.2 1,7.3 -0.6,7.3 -2.3,7.3 -1.1,7.4 0.3,7.8 -1.3,7.7 -3.3,7.4 -2.2,7.7 -1,8.4 -3,7.9"/><path id="w94" d="M700.9,369.3l-7.8,6.7 -2.4,10.2 -8,6.6 -3.5,9.5 -6,7.9 -6.1,7.9 0.8,6.8 -2.3,6 -2.7,6.1 1.8,6.6 1.6,6.5 -2.1,6.8 0.5,6.8 3.7,6.5 -0.3,7.1 -0.8,7.3 3.8,6.6 1.2,7.1 -1.7,7.6 2.9,7 1.8,7.2 -2.6,7.5 1.3,7.4 1.6,7.5 -3.7,7.2 -0.6,7.5 0.4,8.1 -5.3,6.6 -2.2,7.8 -2.2,8.4"/><path id="w95" d="M706.4,312.2l-6.6,5.5 -2.5,7.8 -2.5,7.9 -6.5,5.5 -4.5,6.6 -1.5,8.5 -5.1,6.3 -6.2,5.7 -2,8.1 -3.1,7.5 -6.7,5.4 -3.8,7.1 -1.7,8.4 -5.7,5.9 -5.3,3.9 -2.8,5.9 -2.4,6.5 -5.2,4.3 -6.3,3.3 -3.9,5.6 -2.8,6.7 -5.3,4.4 -6.7,3.2 -4.2,5.7 -3,6.8 -5.7,4.4 -6.7,3.5 -4,6.2 -3,6.9 -6.1,4.3 -6.3,4.1 -3.1,6.9 -3.2,6.8 -6.3,4.4 -5.3,5.2 -1.9,7.6 -3.4,6.6 -6.2,5"/><path id="w96" d="M717.0,266.4l-2.7,8.1 -4.9,6.7 -5.8,6.1 -3.6,7.5 -2.7,8.1 -4.9,6.7 -5.9,6.2 -3.6,7.5 -2.7,8.1 -4.9,6.7 -5.8,6.1 -3.6,7.5 -2.7,8.1 -5,6.7 -5.8,6.2 -3.6,7.5 -2.7,8 -4.9,6.8 -5.7,5.9 -4.7,4.2 -4.8,5 -5.8,3.7 -7.1,1.4 -7.2,1.3 -6.6,3.2 -6.6,3.9 -7.4,1.9 -7.8,0.7 -7.2,2.6 -6.3,4.6 -6.6,3.8 -7.4,2.4 -6.9,3.7 -4.9,6.3"/><path id="w97" d="M707.5,343.3l-5.5,6.5 -3,8.1 -4.4,7.2 -6.4,5.8 -4.5,7.2 -3,8.1 -5.4,6.5 -6.2,6 -3.6,7.7 -3.4,7.8 -4.3,5 -4.4,5 -2.6,5.9 -1.4,6.6 -2.5,6.1 -4.2,5.3 -3.8,5.6 -1.8,6.5 -1.4,6.8 -3.3,6 -4.5,5.6 -3.1,6.3 -1.5,7.1 -2.8,6.7 -5,5.7 -4.3,6.2 -2.3,7.4 -3.2,7.2 -5.8,5.7 -5.1,6.3 -3.2,7.9 -4.8,7 -7.1,5.6"/><path id="w98" d="M701.1,348.4l-5.5,6.7 -3.3,7.9 -3,8.1 -5,7 -5.5,6.7 -3.3,7.9 -2.9,8.1 -5.1,6.9 -5.5,6.8 -2.5,6.3 -1.6,6.6 -2.4,6.1 -4,5.8 -4,6.3 -2.6,7.7 -2.9,8.8 -6.5,8.1"/><path id="w99" d="M722.2,258.4l-6.7,5.2 -2.5,7.8 -2.6,7.9 -6.6,5.2 -5.4,6.1 -1.7,8.4 -4.1,6.8 -7.1,5 -3.6,7.2 -1.8,8.3 -5.8,5.8 -6.4,5.4 -2.2,8.1 -3,7.5 -6.9,5.1 -4.8,6.4 -1.6,8.5 -4.7,6.5 -6.9,5 -3.1,7.5 -2.3,8.4 -6.4,3 -6.8,0.7 -5.9,3.1 -5.9,4.6 -7.1,1.2 -7.9,-1 -7,2.8 -5.7,5.5 -7,2.8 -8.1,2.5 -4.5,7.6 -3.3,9"/><path id="w100" d="M722.1,254.4l-7,5.8 -3.4,7.9 -2.7,8.2 -7,5.8 -2.9,8.1 -3.3,8 -6.9,5.8 -2.5,8.4 -3.8,7.7 -6.8,5.8 -2.1,8.7 -4.3,7.3 -6.6,6 -1.8,8.8 -4.8,7.1 -6.3,6.2 -1.7,8.8 -5.3,6.8 -5.9,6.4 -1.8,9.2 -5.9,3.3 -6.9,0.4 -6,3 -6.3,3.8 -7.6,-0.2 -7.4,1.5 -5.5,6.1 -6.9,4 -7.1,5.8"/><path id="w101" d="M707.9,333.3l-6,5.3 -3.4,7 -2.9,7.3 -5.8,5.5 -4.5,6.3 -2.4,7.6 -5.1,5.9 -5.4,5.7 -2.5,7.5 -4.1,6.6 -6,5.3 -3.1,7.2 -1.8,6.2 -3.8,4.9 -3.6,5.1 -1.2,6.1 -0.7,6.3 -3.1,5.5 -4,5.4 -1.8,6.8 -2.1,7.2 -5.7,5.9 -4.6,7.3 -4,8.7 -8.6,6.5"/><path id="w102" d="M700.5,330.7l-2.6,7.7 -2.5,7.8 -5.9,5.7 -5.4,6 -2.3,7.9 -2.9,7.6 -6.1,5.6 -5.1,6.2 -2,8.1 -3.4,7.2 -6.2,5.5 -4.7,6.5 -1.2,7.2 -2.1,6.6 -4.6,5.7 -4.3,6 -1.3,7.4 -1.5,7.7 -5.3,6.2 -5.7,6 -3,8.2 -4.9,7.8"/><path id="w103" d="M692.9,369.8l-2.7,7.3 -2.1,7.5 -5,6 -4.6,6.3 -1.8,7.7 -3.3,6.9 -5.5,5.8 -2.1,6.2 0.2,6.6 -0.8,6.3 -2.5,6.1 -1.2,6.5 1.4,6.8 0.8,6.7 -1.9,6.8 -1.2,6.9 1.3,7.2 0.2,7.3 -3,7 -1.9,7.2 -0,7.9 -3,7.5 -5.2,6.7 -2.7,8.4 -4.5,8.1"/><path id="w104" d="M716.0,296.8l-5.6,6.9 -3.4,8.4 -4.7,7.5 -6.2,6.5 -4.1,7.9 -3.7,8.2 -6,6.6 -5.2,7.2 -3.3,8.4 -5.2,7.2 -6,6.6 -3.7,8.2 -4.1,7.9 -6.2,6.5 -4.6,7.5 -3.4,5.6 -4.4,4.4 -5.6,2.9 -5.5,3 -4.8,4.5 -4.7,5.2 -6.1,4.3 -7.1,4.5 -5.6,7.4 -5.9,8.4"/><path id="w105" d="M715.9,281.4l-3.7,7.1 -2.8,7.6 -6.6,5.2 -3,7.6 -3.5,7.1 -6.5,5.3 -2.4,7.9 -4.4,6.7 -6.1,5.5 -2,8.2 -5.1,6.1 -5.6,5.9 -1.9,8.2 -5.8,5.7 -4.8,6.4 -2.2,8.1 -6.3,5.4 -4,6.8 -3.3,6.1 -5.9,2.5 -5.9,2.2 -4.4,5 -5.5,4 -7.8,1.9 -5.5,6.9 -8.1,5.9 -7.8,8.5"/><path id="w106" d="M716.0,279.4l-6.2,5.7 -3.7,7.2 -2.5,7.9 -5.7,6 -4.9,6.4 -2.2,8.2 -4.7,6.5 -5.9,5.9 -2.5,7.9 -3.6,7.3 -6.2,5.7 -3.5,7.3 -2.6,7.8 -5.8,5.9 -4.8,6.6 -2.1,8.1 -4.9,6.5 -5.7,5.8 -3.4,5.2 -4,5 -5.9,2.5 -6.3,1.6 -5.3,3.6 -5.1,4.5 -6.3,2.1 -7,1.1 -5.9,3.9 -5.2,5.1 -6.8,2.8 -7.1,3.1 -4.8,6.5 -5.3,6.2 -7.6,5.1 -4.1,8.5"/><path id="w107" d="M709.2,343.2l-4.2,7.5 -6.5,5.8 -4.7,7.1 -3.2,8.1 -5.6,6.4 -6.1,6.2 -3.4,7.9 -4.2,7.4 -6.5,5.9 -4.6,7.1 -1.1,6.7 -2.2,6.1 -3.5,5.8 -2.4,6.3 -0.1,6.9 -0.2,6.9 -2.5,6.5 -2.5,6.7 -0.1,7.1 0.4,7.3 -1.9,6.9 -2.9,6.9 -0.7,7.2 0.2,7.6 -2.4,7 -3.7,6.7 -1.6,7.3 -1,7.8 -3.8,6.7 -4.9,6.3 -2.8,7.4 -3.2,7.6 -6.3,5.8 -6.1,6.1"/><path id="w108" d="M717.7,285.6l-6.4,6.4 -1.6,9.4 -7.4,5.7 -3.5,8.2 -3.6,8.2 -7.3,5.8 -1.6,9.3 -6.5,6.4 -4.9,7.3 -2.4,8.9 -7.7,5.6 -2.2,8.9 -5.1,7.3 -6.4,6.4 -1.6,9.3 -7.3,5.7 -4.3,4.5 -2.6,6.4 -5.3,3.3 -6.4,1.9 -3.9,5 -3.7,5.4 -6.4,1.6 -6.1,2 -3.9,5.5 -5,4.1 -7.1,0.7 -5.5,3.5 -4.3,5.9 -6.8,1.9 -6.9,1.8 -4.5,6.3 -6.4,3.5 -7.8,1.5 -4.9,6.7 -6.5,4.3 -8.3,2.3 -4.7,7.8 -7.9,3.7 -7.5,5 -5.2,8.1 -9.7,3.5"/><path id="w109" d="M702.1,359.2l-7.2,5.9 -3.5,8 -2.3,8.7 -7.4,5.8 -2.5,8.5 -3.2,8.2 -7.3,5.8 -1.7,8.9 -1.4,6.3 -4.7,5.2 -1.9,6.2 1.6,6.9 -1,6.4 -4,6.1 -0.1,6.8 2,7.2 -2.8,6.8 -3.2,6.8 1.8,7.9 -1.5,7.7 -5,7 0.4,8.8 -2.7,8.3 -6.1,7.5"/><path id="w110" d="M696.4,383.0l-5.9,5.5 -2.7,7.6 -4.4,6.5 -5.8,5.6 -2.5,7.7 -4.7,6.3 -3.5,5.7 -0,6.7 0.2,6.5 -2.2,6.3 -0.5,6.6 2.2,6.7 -0.4,6.8 -1.3,7 2.1,7 0.6,7.1 -2.1,7.3 1,7.5 0.2,7.6 -3.4,7.3 -0.4,8.1 -1.9,8.2 -5.1,7.3 -1.9,9.3 -6.5,7.5"/><path id="w111" d="M725.6,270.6l-4.8,6.8 -6.5,5.7 -3.5,7.6 -3.4,7.8 -6.5,5.7 -4.9,6.7 -2.7,8.2 -5.4,6.4 -6.2,5.9 -3.1,7.9 -3.9,7.5 -6.6,5.5 -4.4,7.1 -2.8,8.1 -5.8,6.2 -5.9,6 -2.8,8.1 -4.4,7.2 -6.5,5.4 -4.4,4.5 -4,5.6 -5.4,3.8 -6.8,1.6 -6.3,2.6 -5.4,4.6 -6.1,3.6 -7.4,1 -7,2 -5.9,4.7 -6.5,3.6 -7.6,1.2 -6.9,3 -5.5,5.6 -6.4,4.1 -7.5,2.7 -5.8,5.4 -4.3,7 -6.5,5.2 -6.3,5.9"/><path id="w112" d="M700.9,346.5l-6,6.5 -2.2,8.7 -4.2,7.6 -6.3,6.4 -2.5,8.5 -3.7,7.9 -6.4,6.3 -3,8.2 -3.1,8.2 -4.7,4.8 -3.6,5.5 -1.1,6.9 -1.8,6.6 -4.5,5.6 -3.6,6.1 -0.9,7.5 -2.5,6.9 -5.3,5.9 -3.1,7.1 -1.5,8"/><path id="w113" d="M718.9,264.7l-2.1,8.3 -4.5,6.7 -6.5,5.4 -1.6,8.6 -5.6,6 -5.7,5.9 -1.6,8.6 -6.4,5.4 -4.6,6.7 -2,8.3 -7.1,5 -3.4,7.4 -2.8,7.8 -7.2,5 -2.5,8 -3.9,7.1 -6.8,5.2 -1.8,8.4 -5,6.4 -6,5.4 -3.1,5.8 -5.3,3.6 -6.9,0.2 -5.6,2.9 -5.4,4.5 -7,-0.1 -6.9,-0.3 -6.3,4.1 -7,1 -7.5,-1.7 -6.7,3.5 -7,2.1 -7.8,-1.7 -6.8,3.2 -6.6,3.4 -8,-0.8 -6.5,3.7 -5.9,4.9 -8,0.8 -6,5 -4.7,6.5 -8.1,3.1 -4.2,7.6 -4.8,7.5"/><path id="w114" d="M711.1,275.7l-5,6.6 -2.5,7.9 -3.5,7.3 -5.6,6.1 -4.1,7 -2.4,8 -4.4,6.8 -5.6,6.2 -3.2,7.5 -2.7,7.8 -5.2,6.4 -5,6.5 -2.6,7.9 -3.4,7.3 -5.6,6.2 -4.2,6.9 -2.4,8 -4.4,7 -5.8,3.3 -5.4,4.1 -5,5.4 -6.3,3.9 -7.4,2.2 -6.7,3.6 -5.5,5.4 -5.9,4.1 -6.5,3.1 -5.2,4.5 -2.9,6.1"/><path id="w115" d="M700.6,334.6l-2.8,7.6 -3.2,7.4 -5.8,5.9 -3.8,7.1 -2.5,7.9 -5.4,6.1 -4.7,6.5 -2.3,8 -4.5,6.6 -5.6,6.1 -2.6,7.8 -2.1,6.1 -3.8,5.4 -3.1,5.9 -0.5,6.7 -1,6.7 -3.3,6.1 -2.8,6.3 -0.5,7.3 -1.8,7 -4.5,6.1 -3.1,7 -2,7.9 -5.5,6.3 -5.8,6.5 -4.2,8.5"/><path id="w116" d="M723.9,250.0l-3.2,7.8 -5.2,6.5 -5.4,6.4 -3.5,7.6 -3.5,7.7 -5.4,6.3 -5.2,6.6 -3.2,7.8 -3.8,7.4 -5.7,6.2 -4.8,6.8 -3,7.9 -4.3,7.1 -5.7,6.2 -4.3,7.1 -3.1,7.9 -4.7,6.8 -5.7,6.3 -3.9,7.3 -3.1,7.8 -5.2,6.6 -5.6,3.5 -5.2,4.1 -5.2,4.8 -6.1,3.7 -7.2,2.1 -6.9,2.7 -6.1,4.5 -6.1,4.2 -7,2.7 -6.7,3.2 -5.2,5 -4.3,5.9"/><path id="w117" d="M715.8,267.2l-5.8,6.2 -5.7,6.1 -2.1,8.4 -3.4,7.5 -6.6,5.7 -4.1,7.1 -1.9,8.5 -5,6.5 -6.3,5.9 -2.6,8 -2.7,8 -6.3,5.8 -4.9,6.6 -1.9,8.5 -4.3,7 -6.5,5.7 -3.3,7.6 -2.2,8.3 -5.8,6.1 -5.6,3.3 -4,4.9 -3.6,5.5 -5.2,3.6 -6.6,1.6 -6,2.4 -4.7,4.8 -5,4.8 -6.6,2.3 -7.1,1.8 -5.5,5 -4.8,6.2 -6.9,3.7 -7.6,3.7 -4.7,7.4 -5.2,7.4 -8.4,5.4"/><path id="w118" d="M713.8,304.3l-2.5,8.2 -5.5,6.3 -5.6,6.2 -2.5,8.2 -5,6.7 -6,5.9 -2.7,8.1 -4.4,7 -6.3,5.8 -3.1,7.8 -3.8,7.4 -6.4,5.7 -3.5,7.6 -3.4,7.7 -6.3,5.6 -3.9,5.1 -2.6,6.2 -4.3,5 -5.8,3.6 -4.5,4.9 -3.1,6.2 -5,4.6 -6.2,3.5 -4.4,5.2 -3.7,6.2 -5.7,4.2 -6.2,3.8 -4,6 -4.2,5.9 -6.5,3.8 -5.5,4.8 -3.5,6.8 -5.2,5.2 -6.5,4.2 -4.1,6.5 -3.7,6.7 -6.4,4.7 -5,5.9 -2.8,7.6 -5.3,5.9"/><path id="w119" d="M696.2,357.4l-6.9,5.8 -2.7,8 -1.5,8.6 -6.5,6 -4.2,7.2 -0.9,8.9 -5.6,6.5 -5.5,6.7 0.4,7.3 -0.1,6.7 -3.3,6.4 -1.3,7 3,7.2 0.5,7.3 -3.4,7.4 -0.2,7.5 1.7,8.1 -4.1,7.3 -4.9,6.9 -1.4,9.5 -7.4,6.8"/><path id="w120" d="M709.1,297.5l-1.8,8.7 -5.2,6.8 -5.7,6.5 -1.7,8.9 -6.3,6.1 -4.5,7.2 -2.2,8.6 -6.9,5.8 -3.2,7.9 -3.2,8.1 -6.9,5.7 -2.3,8.5 -4.3,7.3 -6.4,6.1 -1.7,8.9 -4.2,4.9 -5.7,3.6 -3.1,5.7 -2.1,6.3 -5.2,4.1 -5.4,3.8 -2.6,6.3 -3.2,5.8 -6,3.5 -4.7,4.8 -2.3,6.8 -4.9,4.7 -6.3,3.7 -3.1,6.6 -3.6,6.2 -6.8,3.7 -4.3,5.9 -3.1,7.2 -6.8,4.3 -5.1,5.8 -3,7.8 -7,4.7 -5.2,6.4 -3.4,8.1"/><path id="w121" d="M700.1,337.4l-4.6,7.2 -2.1,8.7 -4.7,7.3 -5.9,6.6 -2.6,8.4 -3.2,8.1 -6.1,6.4 -4.1,7.7 -2.1,8.6 -5.3,6.9 -4.1,5.3 -1.7,6.2 -0.6,6.7 -2.3,6.2 -3.9,5.7 -2.5,6.3 -0.3,7.1 -1.2,7.1 -3.8,6.3 -3.3,6.8 -0.5,7.8 -1.7,7.7 -4.8,6.9 -3.2,7.7"/><path id="w122" d="M694.3,387.9l-5.8,8 -4.4,8.6 -2.6,9.5 -4.9,8.4 -2.8,6.1 -0.8,6.7 0.8,6.8 0.6,6.9 -0.7,7.1 -0.5,7.3 1.5,7.3 2.5,7.2 0.9,7.5 -0.4,7.8 1,7.6 2.5,7.4 1.3,7.6 -0.9,7.8 -0.5,7.6 1,7.6 0.4,7.7 -2.1,7.4 -3,7 -1.9,7.5 -1.8,7.8"/><path id="w123" d="M702.5,365.8l-5.5,5.8 -2.6,7.6 -4.7,6.2 -6.2,5.2 -3.3,7.3 -3.5,7 -6.4,5.1 -4.3,6.6 -0.6,6.8 -2.4,6 -3.5,5.9 -0.7,6.5 0.8,6.9 -1.5,6.5 -2.6,6.5 0.3,6.9 1.2,7.1 -2,6.9 -2.1,6.9 1,7.4 -0.1,7.4 -3.4,7 -1.3,7.4 0.2,8 -3.5,7.2 -3.8,7.2 -1,8.5 -4.3,7.5 -5.8,7 -2.7,9.2"/><path id="w124" d="M696.3,388.4l-5.5,6.2 -4.7,6.7 -3,7.7 -3.8,7.3 -5.6,6.3 -1.7,6.4 0.6,6.7 1.6,6.5 0.7,6.7 0.1,7.1 1.4,7.1 3.4,6.7 3.2,6.8 1.6,7.6 1.5,7.6 3.4,7 3.7,7 1.7,7.6 0.6,7.7 1.9,7.4 2.6,7.2 0.6,7.6 -1.4,7.5 -1.2,7.3 -0.2,7.7 -1.7,7.8 -4.7,6.9"/><path id="w125" d="M717.2,304.9l-6.5,5.7 -2.5,8.3 -3.8,7.5 -7,5.4 -3.9,7.4 -2.4,8.3 -6.5,5.8 -5.5,6.3 -2.1,8.6 -5,6.7 -6.7,5.5 -2.8,8.2 -3.3,7.7 -7.1,5.4 -4.3,7.1 -1.3,6.9 -3.4,5.8 -5.5,5 -3.2,6.4 -1.5,7.6 -5.1,5.8 -7.2,3.8 -5.2,6.6"/><path id="u0" d="M629.0,397.9l10.5,-10.8 6,-13.7 10.8,-10.5 5.9,-13.9 10.8,-10.5 6,-13.7 10.5,-10.8 6.5,-13.4 9.8,-11.1 7.3,-13 9,-11.7 8.1,-12.3"/><path id="u1" d="M632.2,399.7l6.4,-12.8 8.9,-11.4 5,-13.6 9.9,-10.7 4.4,-14 10.1,-10.6 4.7,-13.9 9.2,-11.1 6,-13 7.7,-12.1 7.6,-12 6.1,-13.1"/><path id="u2" d="M632.5,399.8l8.9,-11 6.8,-12.5 10.4,-10 5.5,-13.4 11.4,-9.2 4.8,-13.9 11.9,-8.9 4.6,-14.1 11.7,-9 5.2,-13.7 10.7,-9.6 6.4,-12.9"/><path id="u3" d="M633.6,400.1l11,-8.8 5.6,-12.7 9.3,-10 8.7,-10.4 6,-12.4 10.9,-8.8 5.7,-12.7 9.2,-10 8.8,-10.4 5.9,-12.5 11,-8.7 5.7,-12.7"/><path id="u4" d="M636.5,402.0l4.8,-12.8 8,-11 6.8,-11.6 5.7,-12.3 8.9,-10.4 4.2,-13.1 9.5,-10.1 4.7,-12.9 8,-10.9 6.8,-11.7 5.8,-12.2 8.8,-10.5"/><path id="u5" d="M635.6,401.1l10.4,-8.6 4.7,-12.8 11,-8.2 4.5,-13 10.9,-8.3 4.8,-12.7 10.2,-8.7 5.8,-12.1 9.1,-9.5 7.1,-11.2 7.7,-10.5 8.4,-10.1"/><path id="u6" d="M637.9,402.6l8,-10 3.9,-12.3 8.5,-9.8 3.7,-12.4 8.4,-9.8 4,-12.3 7.9,-10.1 4.8,-11.8 6.9,-10.6 5.9,-11.3 5.8,-11.2 6.9,-10.6"/><path id="u7" d="M641.9,404.9l3.2,-12.6 9.6,-8.5 4,-12.1 8.8,-9 4.8,-11.5 7.8,-9.7 6,-10.8 6.6,-10.4 7.1,-10.1 5.5,-11 8.2,-9.5 4.5,-11.7"/><path id="u8" d="M640.0,403.4l10,-7.6 4.9,-11.2 6.7,-9.9 9.1,-8.1 3.7,-12.1 9.3,-8 6.5,-10.1 5,-11.1 10,-7.6 4.2,-11.7 7.8,-9.1 8.2,-8.8"/><path id="u9" d="M645.6,406.6l2.4,-11.6 7.2,-9.1 4.5,-10.5 4.8,-10.3 6.8,-9.4 2.7,-11.4 8.6,-8.4 1.6,-12 8.9,-8.2 1.9,-11.9 8,-8.7 3.5,-11"/><path id="u10" d="M645.9,406.8l2.7,-11.4 6.6,-9.3 6.2,-9.5 2.8,-11.2 7.7,-8.7 4.5,-10.4 4,-10.7 7.9,-8.6 3.1,-11.1 5.7,-9.8 7,-9 2.6,-11.4"/><path id="u11" d="M648.1,408.0l2.2,-11.2 8.6,-7.3 4.6,-9.8 3.4,-10.4 9,-7.2 2.8,-10.8 5.4,-9.3 8.2,-7.6 1.9,-11.3 7.3,-8.1 6.5,-8.6 2.2,-11.2"/><path id="u12" d="M649.0,408.5l3.1,-10.4 7.8,-7.5 4.8,-9.3 4.5,-9.5 7.9,-7.4 3.1,-10.3 6.8,-8.1 6.2,-8.5 3.5,-10.2 8,-7.2 3.9,-9.9 5.6,-8.9"/><path id="u13" d="M651.6,409.7l2.1,-10.1 4.5,-9 7.4,-7.3 2.2,-10.2 4.4,-9 7.5,-7.3 2.2,-10.1 4.3,-9.1 7.5,-7.3 2.3,-10.1 4.2,-9.1 7.5,-7.3"/><path id="u14" d="M651.6,409.7l2.5,-9.6 6.6,-7.5 5.3,-8.2 2,-9.9 5.6,-8 6.4,-7.6 2.4,-9.7 4.1,-8.8 7.1,-7.2 3.3,-9.2 2.9,-9.5 6.9,-7.3"/><path id="u15" d="M651.1,409.4l7.7,-6.3 4.1,-8.4 1.5,-9.8 6.1,-7.2 7,-6.7 2.2,-9.5 2.8,-9 7.5,-6.5 5.3,-7.7 1.4,-9.9 4.8,-7.9 7.7,-6.4"/><path id="u16" d="M656.3,412.4l3.9,-7.9 3.2,-8.6 6.5,-6.2 6.9,-5.9 3.3,-8.5 3.7,-8.1 7.1,-5.8 6.2,-6.4 2.9,-8.8 4.4,-7.6 7.4,-5.6 5.4,-7"/><path id="u17" d="M654.2,411.0l5.6,-6.6 6.4,-6.2 2,-8.6 2.6,-8.3 6.8,-5.9 4.9,-7 1.3,-9.1 4.3,-7.3 7,-5.8 3.1,-8 1.7,-8.9 5.9,-6.4"/><path id="u18" d="M655.7,411.8l6.3,-6 3.6,-7.6 1.8,-8.6 4.6,-7.1 6.3,-6 3.7,-7.6 1.8,-8.5 4.4,-7.2 6.3,-6.1 3.9,-7.4 1.8,-8.6 4.2,-7.2"/><path id="u19" d="M659.4,413.8l2.9,-7.5 2.5,-7.8 5.2,-6.2 5.1,-6.3 2.5,-7.8 3,-7.5 5.5,-6 4.7,-6.6 2.2,-7.9 3.5,-7.2 5.7,-5.9 4.1,-6.9"/><path id="u20" d="M660.9,414.8l2.2,-7.8 4.5,-6.1 6.9,-4.4 4.4,-6.1 2.2,-7.9 4.4,-6.2 6.8,-4.4 4.6,-6 2.2,-7.9 4.3,-6.2 6.8,-4.4 4.7,-6"/><path id="u21" d="M662.1,415.2l2.3,-6.8 5.2,-5 5.2,-5.1 2.1,-6.9 2,-7 5,-5.1 5.4,-4.9 2.4,-6.8 1.8,-7.1 4.7,-5.3 5.6,-4.8 2.6,-6.6"/><path id="u22" d="M662.9,415.6l5,-5 1.9,-6.7 2.1,-6.6 5.1,-5 4.2,-5.4 1.5,-6.9 2.9,-6.2 5.3,-4.8 3.5,-5.8 1.4,-7.1 3.7,-5.7 5.3,-4.8"/><path id="u23" d="M663.9,416.1l2.2,-6.4 6.2,-3.7 4.1,-5.1 0.7,-7.3 3.9,-5.3 6.3,-3.7 2.4,-6.2 1.2,-7 5.4,-4.3 5.4,-4.3 1.1,-7 2.5,-6.2"/><path id="u24" d="M665.4,416.9l4,-4.7 4,-4.5 2.9,-5.3 1.7,-5.9 2,-5.7 3.3,-5 4.2,-4.5 3.6,-4.9 2.3,-5.5 1.6,-6 2.5,-5.4 3.9,-4.7"/><path id="u25" d="M667.3,417.8l4.9,-3.5 3.3,-4.4 1.1,-5.9 2.3,-5 4.8,-3.5 3.7,-4.2 1.2,-5.8 2,-5.2 4.6,-3.7 4,-4 1.4,-5.6 1.7,-5.5"/><path id="u26" d="M671.3,420.0l1.1,-5.2 1.3,-5.2 2.4,-4.5 3.7,-3.8 3.8,-3.8 2.6,-4.4 1.4,-5 1,-5.3 2,-4.7 3.4,-4 3.9,-3.7 3.1,-4.2"/><path id="u27" d="M669.9,419.1l2.8,-3.8 4,-3.1 3.9,-3.2 2.4,-4.1 1,-4.9 0.6,-5.1 1.9,-4.3 3.5,-3.4 4.2,-3.1 3.3,-3.5 1.6,-4.5 0.6,-5.1"/><path id="u28" d="M672.8,420.8l3,-3.7 1.2,-4.7 0.8,-4.9 2.4,-4 3.9,-3.1 3.5,-3.4 1.7,-4.4 0.7,-5 1.7,-4.4 3.6,-3.3 3.8,-3.2 2.3,-4"/><path id="u29" d="M674.9,421.9l1,-4.3 1.3,-4.1 2.2,-3.5 3.2,-2.9 3.5,-2.7 3,-3 2,-3.7 1.2,-4.2 1,-4.3 1.8,-3.8 2.8,-3.1 3.5,-2.8"/><path id="u30" d="M674.5,421.4l2.5,-2.8 3.1,-2.3 3.1,-2.3 2.7,-2.7 1.8,-3.2 1.1,-3.6 0.9,-3.9 1.2,-3.6 1.9,-3.1 2.7,-2.6 3.1,-2.4 3.1,-2.3"/><path id="u31" d="M678.0,423.4l0.5,-3.6 0.6,-3.6 1,-3.4 1.8,-3 2.4,-2.6 2.8,-2.5 2.6,-2.5 2.1,-2.8 1.4,-3.2 0.7,-3.5 0.5,-3.7 0.7,-3.5"/><path id="u32" d="M678.5,423.7l0.7,-3.2 1,-3 1.7,-2.7 2.1,-2.3 2.3,-2.3 2.2,-2.4 1.6,-2.7 1,-3 0.7,-3.2 0.8,-3.1 1.1,-3 1.8,-2.6"/><path id="u33" d="M680.2,424.6l0.5,-3 0.5,-2.9 1,-2.7 1.7,-2.4 2.2,-2.1 2.1,-2.1 1.7,-2.3 1.1,-2.7 0.5,-2.9 0.5,-3 0.8,-2.8 1.4,-2.5"/></defs>
<g clip-path="url(#cBundle)" fill="none" stroke-linecap="round" stroke-linejoin="round">
<use href="#w90" stroke="#040505" stroke-width="5.9"/><use href="#w90" stroke="#6f7573" stroke-width="1.4" opacity="0.8" transform="translate(0.8,0.4)"/><use href="#w90" stroke="#858b89" stroke-width="1.7" stroke-dasharray="14 15 8 19" stroke-dashoffset="8" opacity="0.57" transform="translate(-1.1,1.1)"/><use href="#w12" stroke="#040505" stroke-width="5.3"/><use href="#w12" stroke="#858b89" stroke-width="1.2" opacity="0.8" transform="translate(0.4,-0.8)"/><use href="#w12" stroke="#b0b5b3" stroke-width="1.3" stroke-dasharray="13 18 8 23" stroke-dashoffset="10" opacity="0.81" transform="translate(-0.7,-0.9)"/><use href="#w73" stroke="#040505" stroke-width="6.2"/><use href="#w73" stroke="#6f7573" stroke-width="1.5" opacity="0.8" transform="translate(-0.6,-0.3)"/><use href="#w73" stroke="#b0b5b3" stroke-width="1.1" stroke-dasharray="12 17 7 22" stroke-dashoffset="10" opacity="0.73" transform="translate(-0.9,-1.1)"/><use href="#w95" stroke="#040505" stroke-width="5.4"/><use href="#w95" stroke="#9aa09e" stroke-width="1.4" opacity="0.8" transform="translate(0.6,0.9)"/><use href="#w95" stroke="#b0b5b3" stroke-width="1.1" stroke-dasharray="16 11 10 14" stroke-dashoffset="13" opacity="0.74" transform="translate(-0.3,-0.1)"/><use href="#w87" stroke="#040505" stroke-width="5.1"/><use href="#w87" stroke="#9aa09e" stroke-width="1.3" opacity="0.8" transform="translate(0.4,-1.0)"/><use href="#w87" stroke="#b0b5b3" stroke-width="1.7" stroke-dasharray="18 11 11 15" stroke-dashoffset="14" opacity="0.61" transform="translate(0.9,0.8)"/><use href="#w27" stroke="#040505" stroke-width="5.1"/><use href="#w27" stroke="#858b89" stroke-width="1.5" opacity="0.8" transform="translate(0.2,-1.1)"/><use href="#w27" stroke="#dfe2e0" stroke-width="1.2" stroke-dasharray="13 19 8 25" stroke-dashoffset="9" opacity="0.60" transform="translate(-1.0,0.5)"/><use href="#w41" stroke="#040505" stroke-width="5.1"/><use href="#w41" stroke="#5d6361" stroke-width="1.8" opacity="0.8" transform="translate(1.1,0.1)"/><use href="#w41" stroke="#9aa09e" stroke-width="1.2" stroke-dasharray="19 19 11 24" stroke-dashoffset="19" opacity="0.60" transform="translate(-1.0,-0.3)"/><use href="#w44" stroke="#040505" stroke-width="5.4"/><use href="#w44" stroke="#6f7573" stroke-width="1.3" opacity="0.8" transform="translate(-0.1,1.0)"/><use href="#w44" stroke="#dfe2e0" stroke-width="1.5" stroke-dasharray="16 17 10 22" stroke-dashoffset="7" opacity="0.66" transform="translate(-0.5,0.6)"/><use href="#u5" stroke="#040505" stroke-width="4.8"/><use href="#u5" stroke="#9aa09e" stroke-width="1.6" opacity="0.8" transform="translate(-0.3,-0.1)"/><use href="#u5" stroke="#e6e9e7" stroke-width="1.6" stroke-dasharray="19 8" stroke-dashoffset="13" opacity="0.70"/><use href="#w35" stroke="#040505" stroke-width="5.5"/><use href="#w35" stroke="#858b89" stroke-width="1.5" opacity="0.8" transform="translate(-0.8,0.5)"/><use href="#w35" stroke="#858b89" stroke-width="1.6" stroke-dasharray="12 11 7 14" stroke-dashoffset="11" opacity="0.67" transform="translate(-0.9,-0.2)"/><use href="#w94" stroke="#040505" stroke-width="5.7"/><use href="#w94" stroke="#858b89" stroke-width="1.2" opacity="0.8" transform="translate(-0.1,0.1)"/><use href="#w94" stroke="#dfe2e0" stroke-width="1.7" stroke-dasharray="23 14 14 18" stroke-dashoffset="25" opacity="0.79" transform="translate(-0.6,0.4)"/><use href="#w114" stroke="#040505" stroke-width="6.3"/><use href="#w114" stroke="#5d6361" stroke-width="1.5" opacity="0.8" transform="translate(-0.8,1.2)"/><use href="#w114" stroke="#dfe2e0" stroke-width="1.7" stroke-dasharray="17 12 10 15" stroke-dashoffset="3" opacity="0.78" transform="translate(-0.3,0.5)"/><use href="#w57" stroke="#040505" stroke-width="6.3"/><use href="#w57" stroke="#6f7573" stroke-width="1.6" opacity="0.8" transform="translate(-0.3,0.3)"/><use href="#w57" stroke="#c5cac8" stroke-width="1.7" stroke-dasharray="16 14 10 18" stroke-dashoffset="21" opacity="0.71" transform="translate(0.6,-0.5)"/><use href="#w125" stroke="#040505" stroke-width="5.6"/><use href="#w125" stroke="#5d6361" stroke-width="1.3" opacity="0.8" transform="translate(-0.7,0.1)"/><use href="#w125" stroke="#9aa09e" stroke-width="1.2" stroke-dasharray="12 20 7 26" stroke-dashoffset="4" opacity="0.51" transform="translate(-0.9,0.2)"/><use href="#u30" stroke="#040505" stroke-width="5.3"/><use href="#u30" stroke="#6f7573" stroke-width="1.4" opacity="0.8" transform="translate(0.3,0.8)"/><use href="#u30" stroke="#e6e9e7" stroke-width="1.6" stroke-dasharray="18 12" stroke-dashoffset="4" opacity="0.78"/><use href="#w23" stroke="#040505" stroke-width="5.4"/><use href="#w23" stroke="#6f7573" stroke-width="1.4" opacity="0.8" transform="translate(-0.8,0.4)"/><use href="#w23" stroke="#eef0ef" stroke-width="1.1" stroke-dasharray="23 18 14 23" stroke-dashoffset="6" opacity="0.79" transform="translate(0.3,1.1)"/><use href="#w108" stroke="#040505" stroke-width="5.6"/><use href="#w108" stroke="#858b89" stroke-width="1.8" opacity="0.8" transform="translate(0.2,0.9)"/><use href="#w108" stroke="#b0b5b3" stroke-width="1.2" stroke-dasharray="17 17 10 23" stroke-dashoffset="16" opacity="0.81" transform="translate(0.2,1.0)"/><use href="#u9" stroke="#040505" stroke-width="5.4"/><use href="#u9" stroke="#858b89" stroke-width="1.6" opacity="0.8" transform="translate(0.3,0.6)"/><use href="#u9" stroke="#e6e9e7" stroke-width="2.0" stroke-dasharray="12 14" stroke-dashoffset="15" opacity="0.92"/><use href="#u32" stroke="#040505" stroke-width="5.5"/><use href="#u32" stroke="#9aa09e" stroke-width="1.3" opacity="0.8" transform="translate(1.3,1.0)"/><use href="#u32" stroke="#ffffff" stroke-width="1.7" stroke-dasharray="14 9" stroke-dashoffset="11" opacity="0.93"/><use href="#w42" stroke="#040505" stroke-width="6.0"/><use href="#w42" stroke="#5d6361" stroke-width="1.4" opacity="0.8" transform="translate(-0.6,0.4)"/><use href="#w42" stroke="#eef0ef" stroke-width="1.8" stroke-dasharray="14 11 9 14" stroke-dashoffset="17" opacity="0.64" transform="translate(-0.9,0.9)"/><use href="#w78" stroke="#040505" stroke-width="5.8"/><use href="#w78" stroke="#6f7573" stroke-width="1.8" opacity="0.8" transform="translate(0.1,-0.8)"/><use href="#w78" stroke="#c5cac8" stroke-width="1.4" stroke-dasharray="17 12 10 15" stroke-dashoffset="13" opacity="0.59" transform="translate(-1.0,0.9)"/><use href="#w26" stroke="#040505" stroke-width="5.7"/><use href="#w26" stroke="#6f7573" stroke-width="1.6" opacity="0.8" transform="translate(-0.5,1.2)"/><use href="#w26" stroke="#858b89" stroke-width="1.3" stroke-dasharray="23 17 14 22" stroke-dashoffset="23" opacity="0.70" transform="translate(0.5,-0.2)"/><use href="#w20" stroke="#040505" stroke-width="6.1"/><use href="#w20" stroke="#5d6361" stroke-width="1.5" opacity="0.8" transform="translate(1.1,-1.2)"/><use href="#w20" stroke="#b0b5b3" stroke-width="1.2" stroke-dasharray="12 16 7 20" stroke-dashoffset="1" opacity="0.64" transform="translate(-0.0,0.5)"/><use href="#w105" stroke="#040505" stroke-width="5.9"/><use href="#w105" stroke="#6f7573" stroke-width="1.6" opacity="0.8" transform="translate(0.4,1.1)"/><use href="#w105" stroke="#b0b5b3" stroke-width="1.4" stroke-dasharray="11 11 7 14" stroke-dashoffset="0" opacity="0.74" transform="translate(-0.2,-1.0)"/><use href="#w46" stroke="#040505" stroke-width="5.2"/><use href="#w46" stroke="#5d6361" stroke-width="1.4" opacity="0.8" transform="translate(0.2,0.1)"/><use href="#w46" stroke="#9aa09e" stroke-width="1.2" stroke-dasharray="20 14 12 18" stroke-dashoffset="22" opacity="0.51" transform="translate(-0.2,1.2)"/><use href="#w53" stroke="#040505" stroke-width="6.0"/><use href="#w53" stroke="#858b89" stroke-width="1.6" opacity="0.8" transform="translate(-0.2,1.1)"/><use href="#w53" stroke="#dfe2e0" stroke-width="1.6" stroke-dasharray="20 16 12 20" stroke-dashoffset="13" opacity="0.76" transform="translate(0.7,-0.5)"/><use href="#w96" stroke="#040505" stroke-width="6.0"/><use href="#w96" stroke="#9aa09e" stroke-width="1.4" opacity="0.8" transform="translate(-0.5,0.5)"/><use href="#w96" stroke="#eef0ef" stroke-width="1.0" stroke-dasharray="19 10 12 13" stroke-dashoffset="23" opacity="0.83" transform="translate(0.0,0.1)"/><use href="#u11" stroke="#040505" stroke-width="5.2"/><use href="#u11" stroke="#858b89" stroke-width="1.5" opacity="0.8" transform="translate(-0.4,-0.3)"/><use href="#u11" stroke="#c5cac8" stroke-width="1.9" stroke-dasharray="18 15" stroke-dashoffset="16" opacity="0.73"/><use href="#w60" stroke="#040505" stroke-width="5.9"/><use href="#w60" stroke="#9aa09e" stroke-width="1.6" opacity="0.8" transform="translate(-0.2,-1.2)"/><use href="#w60" stroke="#9aa09e" stroke-width="1.3" stroke-dasharray="13 16 8 21" stroke-dashoffset="0" opacity="0.81" transform="translate(1.1,0.2)"/><use href="#w69" stroke="#040505" stroke-width="6.3"/><use href="#w69" stroke="#858b89" stroke-width="1.5" opacity="0.8" transform="translate(0.2,0.9)"/><use href="#w69" stroke="#dfe2e0" stroke-width="1.6" stroke-dasharray="22 14 13 18" stroke-dashoffset="20" opacity="0.65" transform="translate(0.6,0.9)"/><use href="#w100" stroke="#040505" stroke-width="6.1"/><use href="#w100" stroke="#9aa09e" stroke-width="1.5" opacity="0.8" transform="translate(-0.6,-0.5)"/><use href="#w100" stroke="#b0b5b3" stroke-width="1.2" stroke-dasharray="13 12 8 16" stroke-dashoffset="21" opacity="0.67" transform="translate(-0.5,0.1)"/><use href="#w48" stroke="#040505" stroke-width="5.7"/><use href="#w48" stroke="#6f7573" stroke-width="1.3" opacity="0.8" transform="translate(1.1,0.2)"/><use href="#w48" stroke="#dfe2e0" stroke-width="1.1" stroke-dasharray="22 13 13 17" stroke-dashoffset="14" opacity="0.58" transform="translate(-0.0,-0.0)"/><use href="#w79" stroke="#040505" stroke-width="6.2"/><use href="#w79" stroke="#6f7573" stroke-width="1.2" opacity="0.8" transform="translate(-0.8,-1.0)"/><use href="#w79" stroke="#dfe2e0" stroke-width="1.3" stroke-dasharray="22 15 13 20" stroke-dashoffset="3" opacity="0.63" transform="translate(0.8,0.5)"/><use href="#w80" stroke="#040505" stroke-width="5.5"/><use href="#w80" stroke="#9aa09e" stroke-width="1.5" opacity="0.8" transform="translate(1.1,0.7)"/><use href="#w80" stroke="#eef0ef" stroke-width="1.1" stroke-dasharray="16 18 9 23" stroke-dashoffset="16" opacity="0.82" transform="translate(1.1,-0.0)"/><use href="#w112" stroke="#040505" stroke-width="5.9"/><use href="#w112" stroke="#6f7573" stroke-width="1.4" opacity="0.8" transform="translate(0.6,-1.0)"/><use href="#w112" stroke="#eef0ef" stroke-width="1.4" stroke-dasharray="22 9 13 12" stroke-dashoffset="4" opacity="0.87" transform="translate(-0.2,1.1)"/><use href="#w63" stroke="#040505" stroke-width="5.2"/><use href="#w63" stroke="#6f7573" stroke-width="1.3" opacity="0.8" transform="translate(1.3,0.2)"/><use href="#w63" stroke="#eef0ef" stroke-width="1.5" stroke-dasharray="16 17 10 22" stroke-dashoffset="6" opacity="0.75" transform="translate(0.3,0.4)"/><use href="#w21" stroke="#040505" stroke-width="5.0"/><use href="#w21" stroke="#858b89" stroke-width="1.7" opacity="0.8" transform="translate(-0.4,-0.1)"/><use href="#w21" stroke="#dfe2e0" stroke-width="1.1" stroke-dasharray="15 20 9 26" stroke-dashoffset="9" opacity="0.59" transform="translate(0.6,-0.9)"/><use href="#w38" stroke="#040505" stroke-width="6.0"/><use href="#w38" stroke="#6f7573" stroke-width="1.3" opacity="0.8" transform="translate(0.7,0.7)"/><use href="#w38" stroke="#858b89" stroke-width="1.5" stroke-dasharray="18 17 11 22" stroke-dashoffset="7" opacity="0.62" transform="translate(-1.2,-0.0)"/><use href="#w43" stroke="#040505" stroke-width="6.2"/><use href="#w43" stroke="#6f7573" stroke-width="1.6" opacity="0.8" transform="translate(-0.6,0.2)"/><use href="#w43" stroke="#858b89" stroke-width="1.1" stroke-dasharray="21 17 13 23" stroke-dashoffset="7" opacity="0.93" transform="translate(-0.4,0.6)"/><use href="#w22" stroke="#040505" stroke-width="5.7"/><use href="#w22" stroke="#9aa09e" stroke-width="1.3" opacity="0.8" transform="translate(-0.6,0.9)"/><use href="#w22" stroke="#dfe2e0" stroke-width="1.1" stroke-dasharray="16 16 9 20" stroke-dashoffset="22" opacity="0.57" transform="translate(0.3,-1.1)"/><use href="#u29" stroke="#040505" stroke-width="5.2"/><use href="#u29" stroke="#6f7573" stroke-width="1.7" opacity="0.8" transform="translate(0.1,0.6)"/><use href="#u29" stroke="#c5cac8" stroke-width="1.5" stroke-dasharray="13 14" stroke-dashoffset="22" opacity="0.89"/><use href="#w55" stroke="#040505" stroke-width="6.0"/><use href="#w55" stroke="#6f7573" stroke-width="1.7" opacity="0.8" transform="translate(-1.2,-1.0)"/><use href="#w55" stroke="#858b89" stroke-width="1.2" stroke-dasharray="15 18 9 23" stroke-dashoffset="6" opacity="0.60" transform="translate(-0.7,0.9)"/><use href="#u31" stroke="#040505" stroke-width="5.0"/><use href="#u31" stroke="#6f7573" stroke-width="1.7" opacity="0.8" transform="translate(0.6,-1.3)"/><use href="#u31" stroke="#e6e9e7" stroke-width="1.3" stroke-dasharray="16 9" stroke-dashoffset="25" opacity="0.80"/><use href="#w30" stroke="#040505" stroke-width="6.1"/><use href="#w30" stroke="#6f7573" stroke-width="1.3" opacity="0.8" transform="translate(-0.8,-0.3)"/><use href="#w30" stroke="#9aa09e" stroke-width="1.6" stroke-dasharray="17 13 10 17" stroke-dashoffset="10" opacity="0.54" transform="translate(0.3,-0.4)"/><use href="#w124" stroke="#040505" stroke-width="5.4"/><use href="#w124" stroke="#9aa09e" stroke-width="1.2" opacity="0.8" transform="translate(0.8,0.3)"/><use href="#w124" stroke="#9aa09e" stroke-width="1.8" stroke-dasharray="19 12 12 15" stroke-dashoffset="17" opacity="0.72" transform="translate(1.0,0.8)"/><use href="#w59" stroke="#040505" stroke-width="5.8"/><use href="#w59" stroke="#858b89" stroke-width="1.6" opacity="0.8" transform="translate(-1.3,1.2)"/><use href="#w59" stroke="#eef0ef" stroke-width="1.4" stroke-dasharray="18 16 11 20" stroke-dashoffset="1" opacity="0.83" transform="translate(0.6,-0.3)"/><use href="#w66" stroke="#040505" stroke-width="5.5"/><use href="#w66" stroke="#6f7573" stroke-width="1.2" opacity="0.8" transform="translate(0.5,-1.1)"/><use href="#w66" stroke="#9aa09e" stroke-width="1.5" stroke-dasharray="16 17 10 22" stroke-dashoffset="19" opacity="0.53" transform="translate(0.4,0.0)"/><use href="#u23" stroke="#040505" stroke-width="5.1"/><use href="#u23" stroke="#858b89" stroke-width="1.7" opacity="0.8" transform="translate(-0.4,0.5)"/><use href="#u23" stroke="#c5cac8" stroke-width="1.3" stroke-dasharray="21 9" stroke-dashoffset="4" opacity="0.91"/><use href="#u15" stroke="#040505" stroke-width="4.6"/><use href="#u15" stroke="#6f7573" stroke-width="1.3" opacity="0.8" transform="translate(0.1,-0.5)"/><use href="#u15" stroke="#ffffff" stroke-width="1.7" stroke-dasharray="12 10" stroke-dashoffset="4" opacity="0.93"/><use href="#w40" stroke="#040505" stroke-width="5.2"/><use href="#w40" stroke="#9aa09e" stroke-width="1.5" opacity="0.8" transform="translate(-0.8,0.3)"/><use href="#w40" stroke="#b0b5b3" stroke-width="1.7" stroke-dasharray="18 18 11 24" stroke-dashoffset="11" opacity="0.64" transform="translate(0.5,1.2)"/><use href="#w14" stroke="#040505" stroke-width="5.1"/><use href="#w14" stroke="#9aa09e" stroke-width="1.4" opacity="0.8" transform="translate(-0.1,1.1)"/><use href="#w14" stroke="#9aa09e" stroke-width="1.1" stroke-dasharray="17 16 10 21" stroke-dashoffset="24" opacity="0.83" transform="translate(-0.4,0.1)"/><use href="#w113" stroke="#040505" stroke-width="6.2"/><use href="#w113" stroke="#858b89" stroke-width="1.4" opacity="0.8" transform="translate(-0.4,-0.1)"/><use href="#w113" stroke="#c5cac8" stroke-width="1.3" stroke-dasharray="11 12 7 15" stroke-dashoffset="24" opacity="0.60" transform="translate(0.6,0.3)"/><use href="#u17" stroke="#040505" stroke-width="4.9"/><use href="#u17" stroke="#9aa09e" stroke-width="1.6" opacity="0.8" transform="translate(-0.4,-1.0)"/><use href="#u17" stroke="#ffffff" stroke-width="1.4" stroke-dasharray="13 16" stroke-dashoffset="10" opacity="0.77"/><use href="#u20" stroke="#040505" stroke-width="5.8"/><use href="#u20" stroke="#9aa09e" stroke-width="1.2" opacity="0.8" transform="translate(0.8,0.2)"/><use href="#u20" stroke="#ffffff" stroke-width="1.6" stroke-dasharray="21 13" stroke-dashoffset="0" opacity="0.81"/><use href="#w71" stroke="#040505" stroke-width="5.3"/><use href="#w71" stroke="#5d6361" stroke-width="1.2" opacity="0.8" transform="translate(0.4,1.2)"/><use href="#w71" stroke="#dfe2e0" stroke-width="1.7" stroke-dasharray="17 14 10 18" stroke-dashoffset="23" opacity="0.56" transform="translate(0.5,1.2)"/><use href="#w91" stroke="#040505" stroke-width="5.9"/><use href="#w91" stroke="#5d6361" stroke-width="1.4" opacity="0.8" transform="translate(-0.1,-1.0)"/><use href="#w91" stroke="#dfe2e0" stroke-width="1.2" stroke-dasharray="17 20 10 26" stroke-dashoffset="3" opacity="0.72" transform="translate(0.4,0.1)"/><use href="#w74" stroke="#040505" stroke-width="5.8"/><use href="#w74" stroke="#6f7573" stroke-width="1.8" opacity="0.8" transform="translate(0.7,0.8)"/><use href="#w74" stroke="#858b89" stroke-width="1.3" stroke-dasharray="13 11 8 14" stroke-dashoffset="9" opacity="0.62" transform="translate(-1.0,-1.0)"/><use href="#w11" stroke="#040505" stroke-width="5.7"/><use href="#w11" stroke="#5d6361" stroke-width="1.4" opacity="0.8" transform="translate(0.9,-0.2)"/><use href="#w11" stroke="#9aa09e" stroke-width="1.3" stroke-dasharray="12 10 7 13" stroke-dashoffset="13" opacity="0.53" transform="translate(0.8,-0.8)"/><use href="#w16" stroke="#040505" stroke-width="5.8"/><use href="#w16" stroke="#6f7573" stroke-width="1.5" opacity="0.8" transform="translate(0.8,-0.9)"/><use href="#w16" stroke="#858b89" stroke-width="1.5" stroke-dasharray="19 13 11 17" stroke-dashoffset="11" opacity="0.74" transform="translate(0.8,0.0)"/><use href="#w104" stroke="#040505" stroke-width="5.0"/><use href="#w104" stroke="#5d6361" stroke-width="1.6" opacity="0.8" transform="translate(-1.2,-0.6)"/><use href="#w104" stroke="#858b89" stroke-width="1.2" stroke-dasharray="21 11 13 14" stroke-dashoffset="5" opacity="0.70" transform="translate(-0.9,0.3)"/><use href="#u22" stroke="#040505" stroke-width="5.1"/><use href="#u22" stroke="#6f7573" stroke-width="1.4" opacity="0.8" transform="translate(-0.3,0.3)"/><use href="#u22" stroke="#c5cac8" stroke-width="1.7" stroke-dasharray="22 16" stroke-dashoffset="21" opacity="0.84"/><use href="#u21" stroke="#040505" stroke-width="5.6"/><use href="#u21" stroke="#9aa09e" stroke-width="1.4" opacity="0.8" transform="translate(0.2,-0.9)"/><use href="#u21" stroke="#c5cac8" stroke-width="1.3" stroke-dasharray="13 10" stroke-dashoffset="5" opacity="0.90"/><use href="#w7" stroke="#040505" stroke-width="5.9"/><use href="#w7" stroke="#858b89" stroke-width="1.5" opacity="0.8" transform="translate(-1.3,-0.5)"/><use href="#w7" stroke="#858b89" stroke-width="1.3" stroke-dasharray="22 13 13 17" stroke-dashoffset="5" opacity="0.80" transform="translate(1.2,1.0)"/><use href="#w107" stroke="#040505" stroke-width="5.1"/><use href="#w107" stroke="#9aa09e" stroke-width="1.2" opacity="0.8" transform="translate(-1.0,-1.0)"/><use href="#w107" stroke="#858b89" stroke-width="1.5" stroke-dasharray="21 17 13 23" stroke-dashoffset="22" opacity="0.80" transform="translate(0.2,-0.6)"/><use href="#w123" stroke="#040505" stroke-width="5.9"/><use href="#w123" stroke="#9aa09e" stroke-width="1.8" opacity="0.8" transform="translate(0.1,1.1)"/><use href="#w123" stroke="#dfe2e0" stroke-width="1.5" stroke-dasharray="18 18 11 23" stroke-dashoffset="6" opacity="0.78" transform="translate(-0.2,1.0)"/><use href="#w45" stroke="#040505" stroke-width="5.5"/><use href="#w45" stroke="#5d6361" stroke-width="1.7" opacity="0.8" transform="translate(-0.2,-0.9)"/><use href="#w45" stroke="#eef0ef" stroke-width="1.8" stroke-dasharray="12 14 7 18" stroke-dashoffset="1" opacity="0.74" transform="translate(0.2,0.4)"/><use href="#w97" stroke="#040505" stroke-width="5.7"/><use href="#w97" stroke="#5d6361" stroke-width="1.3" opacity="0.8" transform="translate(-0.7,0.1)"/><use href="#w97" stroke="#858b89" stroke-width="1.4" stroke-dasharray="19 18 11 24" stroke-dashoffset="7" opacity="0.94" transform="translate(0.6,1.0)"/><use href="#w77" stroke="#040505" stroke-width="5.8"/><use href="#w77" stroke="#5d6361" stroke-width="1.5" opacity="0.8" transform="translate(-0.2,-1.0)"/><use href="#w77" stroke="#9aa09e" stroke-width="1.5" stroke-dasharray="20 16 12 21" stroke-dashoffset="8" opacity="0.63" transform="translate(1.0,-0.2)"/><use href="#u26" stroke="#040505" stroke-width="5.4"/><use href="#u26" stroke="#9aa09e" stroke-width="1.5" opacity="0.8" transform="translate(-0.2,-0.5)"/><use href="#u26" stroke="#ffffff" stroke-width="1.7" stroke-dasharray="17 13" stroke-dashoffset="3" opacity="0.84"/><use href="#w119" stroke="#040505" stroke-width="5.5"/><use href="#w119" stroke="#6f7573" stroke-width="1.4" opacity="0.8" transform="translate(-1.1,1.0)"/><use href="#w119" stroke="#c5cac8" stroke-width="1.4" stroke-dasharray="11 19 7 25" stroke-dashoffset="14" opacity="0.74" transform="translate(0.8,-0.8)"/><use href="#u24" stroke="#040505" stroke-width="5.1"/><use href="#u24" stroke="#9aa09e" stroke-width="1.5" opacity="0.8" transform="translate(-0.3,0.3)"/><use href="#u24" stroke="#e6e9e7" stroke-width="2.0" stroke-dasharray="16 12" stroke-dashoffset="9" opacity="0.84"/><use href="#w92" stroke="#040505" stroke-width="6.4"/><use href="#w92" stroke="#6f7573" stroke-width="1.6" opacity="0.8" transform="translate(-0.3,0.4)"/><use href="#w92" stroke="#858b89" stroke-width="1.7" stroke-dasharray="23 10 14 12" stroke-dashoffset="15" opacity="0.77" transform="translate(-1.0,-1.0)"/><use href="#w122" stroke="#040505" stroke-width="5.1"/><use href="#w122" stroke="#5d6361" stroke-width="1.2" opacity="0.8" transform="translate(0.4,0.4)"/><use href="#w122" stroke="#dfe2e0" stroke-width="1.3" stroke-dasharray="22 19 13 24" stroke-dashoffset="4" opacity="0.86" transform="translate(-0.3,-0.4)"/><use href="#w2" stroke="#040505" stroke-width="5.4"/><use href="#w2" stroke="#9aa09e" stroke-width="1.3" opacity="0.8" transform="translate(-0.4,1.1)"/><use href="#w2" stroke="#858b89" stroke-width="1.3" stroke-dasharray="23 19 14 24" stroke-dashoffset="16" opacity="0.87" transform="translate(-0.5,0.7)"/><use href="#w36" stroke="#040505" stroke-width="5.9"/><use href="#w36" stroke="#858b89" stroke-width="1.6" opacity="0.8" transform="translate(1.1,-0.8)"/><use href="#w36" stroke="#c5cac8" stroke-width="1.4" stroke-dasharray="21 19 13 24" stroke-dashoffset="18" opacity="0.53" transform="translate(0.2,0.3)"/><use href="#w67" stroke="#040505" stroke-width="5.7"/><use href="#w67" stroke="#5d6361" stroke-width="1.5" opacity="0.8" transform="translate(-0.9,0.8)"/><use href="#w67" stroke="#b0b5b3" stroke-width="1.4" stroke-dasharray="21 20 13 26" stroke-dashoffset="5" opacity="0.68" transform="translate(-0.8,-0.6)"/><use href="#w34" stroke="#040505" stroke-width="5.3"/><use href="#w34" stroke="#9aa09e" stroke-width="1.3" opacity="0.8" transform="translate(-1.0,-0.9)"/><use href="#w34" stroke="#9aa09e" stroke-width="1.5" stroke-dasharray="24 11 14 14" stroke-dashoffset="9" opacity="0.88" transform="translate(-0.8,1.0)"/><use href="#w17" stroke="#040505" stroke-width="5.1"/><use href="#w17" stroke="#9aa09e" stroke-width="1.5" opacity="0.8" transform="translate(0.3,-0.1)"/><use href="#w17" stroke="#9aa09e" stroke-width="1.8" stroke-dasharray="17 16 10 21" stroke-dashoffset="22" opacity="0.66" transform="translate(0.8,-0.7)"/><use href="#u3" stroke="#040505" stroke-width="5.0"/><use href="#u3" stroke="#6f7573" stroke-width="1.3" opacity="0.8" transform="translate(1.0,-0.3)"/><use href="#u3" stroke="#c5cac8" stroke-width="1.6" stroke-dasharray="14 16" stroke-dashoffset="2" opacity="0.86"/><use href="#w47" stroke="#040505" stroke-width="5.7"/><use href="#w47" stroke="#6f7573" stroke-width="1.6" opacity="0.8" transform="translate(0.9,0.8)"/><use href="#w47" stroke="#eef0ef" stroke-width="1.7" stroke-dasharray="13 11 8 14" stroke-dashoffset="6" opacity="0.52" transform="translate(-0.7,1.2)"/><use href="#w89" stroke="#040505" stroke-width="5.4"/><use href="#w89" stroke="#858b89" stroke-width="1.3" opacity="0.8" transform="translate(1.1,-0.8)"/><use href="#w89" stroke="#c5cac8" stroke-width="1.6" stroke-dasharray="18 15 11 20" stroke-dashoffset="12" opacity="0.52" transform="translate(0.7,0.2)"/><use href="#w61" stroke="#040505" stroke-width="5.3"/><use href="#w61" stroke="#5d6361" stroke-width="1.8" opacity="0.8" transform="translate(0.7,-1.1)"/><use href="#w61" stroke="#dfe2e0" stroke-width="1.6" stroke-dasharray="17 13 10 18" stroke-dashoffset="11" opacity="0.74" transform="translate(-1.1,-1.2)"/><use href="#w37" stroke="#040505" stroke-width="5.4"/><use href="#w37" stroke="#858b89" stroke-width="1.6" opacity="0.8" transform="translate(-1.0,0.8)"/><use href="#w37" stroke="#9aa09e" stroke-width="1.5" stroke-dasharray="15 16 9 20" stroke-dashoffset="24" opacity="0.73" transform="translate(-0.4,-0.1)"/><use href="#w49" stroke="#040505" stroke-width="6.0"/><use href="#w49" stroke="#6f7573" stroke-width="1.8" opacity="0.8" transform="translate(0.7,0.6)"/><use href="#w49" stroke="#eef0ef" stroke-width="1.4" stroke-dasharray="19 10 11 13" stroke-dashoffset="13" opacity="0.75" transform="translate(-0.3,-0.1)"/><use href="#w82" stroke="#040505" stroke-width="6.1"/><use href="#w82" stroke="#5d6361" stroke-width="1.3" opacity="0.8" transform="translate(-0.7,0.6)"/><use href="#w82" stroke="#dfe2e0" stroke-width="1.7" stroke-dasharray="24 13 14 17" stroke-dashoffset="7" opacity="0.75" transform="translate(0.1,-0.6)"/><use href="#w76" stroke="#040505" stroke-width="5.7"/><use href="#w76" stroke="#6f7573" stroke-width="1.6" opacity="0.8" transform="translate(-0.8,-0.7)"/><use href="#w76" stroke="#858b89" stroke-width="1.1" stroke-dasharray="19 11 11 15" stroke-dashoffset="3" opacity="0.77" transform="translate(-1.1,0.1)"/><use href="#w5" stroke="#040505" stroke-width="5.4"/><use href="#w5" stroke="#9aa09e" stroke-width="1.7" opacity="0.8" transform="translate(-0.3,0.6)"/><use href="#w5" stroke="#dfe2e0" stroke-width="1.3" stroke-dasharray="13 14 8 18" stroke-dashoffset="13" opacity="0.91" transform="translate(0.3,0.9)"/><use href="#w64" stroke="#040505" stroke-width="5.0"/><use href="#w64" stroke="#9aa09e" stroke-width="1.3" opacity="0.8" transform="translate(0.3,-0.1)"/><use href="#w64" stroke="#eef0ef" stroke-width="1.2" stroke-dasharray="11 13 7 17" stroke-dashoffset="21" opacity="0.85" transform="translate(-1.2,0.4)"/><use href="#w118" stroke="#040505" stroke-width="5.0"/><use href="#w118" stroke="#5d6361" stroke-width="1.3" opacity="0.8" transform="translate(-0.1,-0.7)"/><use href="#w118" stroke="#b0b5b3" stroke-width="1.6" stroke-dasharray="15 10 9 14" stroke-dashoffset="6" opacity="0.95" transform="translate(-0.3,-0.3)"/><use href="#w115" stroke="#040505" stroke-width="5.2"/><use href="#w115" stroke="#858b89" stroke-width="1.5" opacity="0.8" transform="translate(0.6,0.2)"/><use href="#w115" stroke="#c5cac8" stroke-width="1.3" stroke-dasharray="15 18 9 23" stroke-dashoffset="5" opacity="0.77" transform="translate(0.3,0.8)"/><use href="#u4" stroke="#040505" stroke-width="5.8"/><use href="#u4" stroke="#9aa09e" stroke-width="1.2" opacity="0.8" transform="translate(0.4,0.7)"/><use href="#u4" stroke="#ffffff" stroke-width="1.2" stroke-dasharray="22 11" stroke-dashoffset="20" opacity="0.99"/><use href="#u33" stroke="#040505" stroke-width="5.7"/><use href="#u33" stroke="#9aa09e" stroke-width="1.7" opacity="0.8" transform="translate(-0.3,0.7)"/><use href="#u33" stroke="#c5cac8" stroke-width="1.9" stroke-dasharray="17 9" stroke-dashoffset="6" opacity="0.90"/><use href="#w120" stroke="#040505" stroke-width="5.1"/><use href="#w120" stroke="#6f7573" stroke-width="1.6" opacity="0.8" transform="translate(-0.1,-1.1)"/><use href="#w120" stroke="#b0b5b3" stroke-width="1.2" stroke-dasharray="17 14 10 18" stroke-dashoffset="15" opacity="0.66" transform="translate(-1.1,1.0)"/><use href="#w110" stroke="#040505" stroke-width="6.2"/><use href="#w110" stroke="#5d6361" stroke-width="1.3" opacity="0.8" transform="translate(0.0,0.5)"/><use href="#w110" stroke="#eef0ef" stroke-width="1.6" stroke-dasharray="15 18 9 24" stroke-dashoffset="9" opacity="0.64" transform="translate(0.6,1.1)"/><use href="#w25" stroke="#040505" stroke-width="5.6"/><use href="#w25" stroke="#5d6361" stroke-width="1.3" opacity="0.8" transform="translate(-0.3,0.2)"/><use href="#w25" stroke="#b0b5b3" stroke-width="1.3" stroke-dasharray="12 11 7 14" stroke-dashoffset="0" opacity="0.89" transform="translate(-0.9,0.4)"/><use href="#w33" stroke="#040505" stroke-width="5.7"/><use href="#w33" stroke="#5d6361" stroke-width="1.4" opacity="0.8" transform="translate(0.9,-1.0)"/><use href="#w33" stroke="#dfe2e0" stroke-width="1.5" stroke-dasharray="21 19 12 25" stroke-dashoffset="24" opacity="0.78" transform="translate(-0.2,1.2)"/><use href="#w19" stroke="#040505" stroke-width="5.0"/><use href="#w19" stroke="#6f7573" stroke-width="1.7" opacity="0.8" transform="translate(0.5,-0.2)"/><use href="#w19" stroke="#dfe2e0" stroke-width="1.0" stroke-dasharray="19 10 11 13" stroke-dashoffset="12" opacity="0.69" transform="translate(0.2,-0.9)"/><use href="#w62" stroke="#040505" stroke-width="5.7"/><use href="#w62" stroke="#5d6361" stroke-width="1.7" opacity="0.8" transform="translate(-0.9,-0.2)"/><use href="#w62" stroke="#b0b5b3" stroke-width="1.0" stroke-dasharray="21 13 13 17" stroke-dashoffset="10" opacity="0.71" transform="translate(-1.0,1.0)"/><use href="#w99" stroke="#040505" stroke-width="6.2"/><use href="#w99" stroke="#9aa09e" stroke-width="1.3" opacity="0.8" transform="translate(0.1,0.8)"/><use href="#w99" stroke="#eef0ef" stroke-width="1.7" stroke-dasharray="16 19 10 25" stroke-dashoffset="6" opacity="0.51" transform="translate(0.5,-0.5)"/><use href="#w70" stroke="#040505" stroke-width="5.1"/><use href="#w70" stroke="#858b89" stroke-width="1.7" opacity="0.8" transform="translate(0.5,-1.3)"/><use href="#w70" stroke="#b0b5b3" stroke-width="1.6" stroke-dasharray="17 11 10 14" stroke-dashoffset="15" opacity="0.67" transform="translate(0.3,-1.0)"/><use href="#w81" stroke="#040505" stroke-width="5.5"/><use href="#w81" stroke="#858b89" stroke-width="1.6" opacity="0.8" transform="translate(-0.5,-1.0)"/><use href="#w81" stroke="#eef0ef" stroke-width="1.4" stroke-dasharray="13 18 8 23" stroke-dashoffset="14" opacity="0.77" transform="translate(-1.1,1.0)"/><use href="#u0" stroke="#040505" stroke-width="5.0"/><use href="#u0" stroke="#858b89" stroke-width="1.3" opacity="0.8" transform="translate(-0.5,1.0)"/><use href="#u0" stroke="#ffffff" stroke-width="1.6" stroke-dasharray="21 14" stroke-dashoffset="9" opacity="0.70"/><use href="#w29" stroke="#040505" stroke-width="6.3"/><use href="#w29" stroke="#9aa09e" stroke-width="1.8" opacity="0.8" transform="translate(1.0,0.4)"/><use href="#w29" stroke="#858b89" stroke-width="1.3" stroke-dasharray="22 18 13 24" stroke-dashoffset="15" opacity="0.65" transform="translate(0.8,0.1)"/><use href="#w15" stroke="#040505" stroke-width="5.9"/><use href="#w15" stroke="#858b89" stroke-width="1.3" opacity="0.8" transform="translate(-0.3,-0.0)"/><use href="#w15" stroke="#858b89" stroke-width="1.0" stroke-dasharray="18 14 11 19" stroke-dashoffset="4" opacity="0.79" transform="translate(-0.5,0.4)"/><use href="#w83" stroke="#040505" stroke-width="5.5"/><use href="#w83" stroke="#9aa09e" stroke-width="1.4" opacity="0.8" transform="translate(0.2,0.4)"/><use href="#w83" stroke="#b0b5b3" stroke-width="1.4" stroke-dasharray="19 9 12 12" stroke-dashoffset="20" opacity="0.67" transform="translate(0.6,0.9)"/><use href="#w65" stroke="#040505" stroke-width="5.3"/><use href="#w65" stroke="#9aa09e" stroke-width="1.3" opacity="0.8" transform="translate(-0.4,1.0)"/><use href="#w65" stroke="#c5cac8" stroke-width="1.4" stroke-dasharray="18 11 11 14" stroke-dashoffset="17" opacity="0.85" transform="translate(-0.3,-0.7)"/><use href="#u16" stroke="#040505" stroke-width="5.1"/><use href="#u16" stroke="#6f7573" stroke-width="1.6" opacity="0.8" transform="translate(-0.9,1.0)"/><use href="#u16" stroke="#ffffff" stroke-width="1.2" stroke-dasharray="20 13" stroke-dashoffset="22" opacity="0.90"/><use href="#w68" stroke="#040505" stroke-width="5.6"/><use href="#w68" stroke="#858b89" stroke-width="1.3" opacity="0.8" transform="translate(-0.1,1.2)"/><use href="#w68" stroke="#b0b5b3" stroke-width="1.3" stroke-dasharray="23 13 14 16" stroke-dashoffset="11" opacity="0.69" transform="translate(-0.0,0.6)"/><use href="#u10" stroke="#040505" stroke-width="5.0"/><use href="#u10" stroke="#858b89" stroke-width="1.2" opacity="0.8" transform="translate(-0.5,-1.1)"/><use href="#u10" stroke="#c5cac8" stroke-width="1.5" stroke-dasharray="12 13" stroke-dashoffset="16" opacity="0.94"/><use href="#w6" stroke="#040505" stroke-width="5.8"/><use href="#w6" stroke="#858b89" stroke-width="1.3" opacity="0.8" transform="translate(0.6,-0.6)"/><use href="#w6" stroke="#9aa09e" stroke-width="1.6" stroke-dasharray="14 11 8 14" stroke-dashoffset="11" opacity="0.74" transform="translate(-0.6,-0.6)"/><use href="#w3" stroke="#040505" stroke-width="5.4"/><use href="#w3" stroke="#9aa09e" stroke-width="1.4" opacity="0.8" transform="translate(0.6,-0.3)"/><use href="#w3" stroke="#dfe2e0" stroke-width="1.6" stroke-dasharray="12 19 7 25" stroke-dashoffset="7" opacity="0.92" transform="translate(-1.1,-0.5)"/><use href="#w98" stroke="#040505" stroke-width="5.3"/><use href="#w98" stroke="#858b89" stroke-width="1.5" opacity="0.8" transform="translate(-1.0,0.3)"/><use href="#w98" stroke="#c5cac8" stroke-width="1.3" stroke-dasharray="23 12 14 15" stroke-dashoffset="18" opacity="0.83" transform="translate(-0.3,-0.7)"/><use href="#w24" stroke="#040505" stroke-width="5.2"/><use href="#w24" stroke="#6f7573" stroke-width="1.8" opacity="0.8" transform="translate(1.1,0.0)"/><use href="#w24" stroke="#b0b5b3" stroke-width="1.7" stroke-dasharray="23 20 14 26" stroke-dashoffset="20" opacity="0.59" transform="translate(0.7,-0.5)"/><use href="#w58" stroke="#040505" stroke-width="6.1"/><use href="#w58" stroke="#5d6361" stroke-width="1.5" opacity="0.8" transform="translate(0.9,-0.3)"/><use href="#w58" stroke="#9aa09e" stroke-width="1.8" stroke-dasharray="16 10 10 14" stroke-dashoffset="13" opacity="0.63" transform="translate(-1.1,-0.6)"/><use href="#w4" stroke="#040505" stroke-width="6.3"/><use href="#w4" stroke="#858b89" stroke-width="1.7" opacity="0.8" transform="translate(1.1,0.3)"/><use href="#w4" stroke="#c5cac8" stroke-width="1.0" stroke-dasharray="23 15 14 20" stroke-dashoffset="19" opacity="0.94" transform="translate(0.1,0.5)"/><use href="#w39" stroke="#040505" stroke-width="6.0"/><use href="#w39" stroke="#5d6361" stroke-width="1.7" opacity="0.8" transform="translate(0.8,1.0)"/><use href="#w39" stroke="#dfe2e0" stroke-width="1.3" stroke-dasharray="13 20 8 26" stroke-dashoffset="15" opacity="0.65" transform="translate(-0.9,-1.2)"/><use href="#w75" stroke="#040505" stroke-width="5.2"/><use href="#w75" stroke="#5d6361" stroke-width="1.6" opacity="0.8" transform="translate(-0.8,1.3)"/><use href="#w75" stroke="#b0b5b3" stroke-width="1.4" stroke-dasharray="23 12 14 15" stroke-dashoffset="25" opacity="0.73" transform="translate(0.5,-0.9)"/><use href="#w121" stroke="#040505" stroke-width="5.1"/><use href="#w121" stroke="#858b89" stroke-width="1.3" opacity="0.8" transform="translate(0.7,-0.8)"/><use href="#w121" stroke="#eef0ef" stroke-width="1.7" stroke-dasharray="20 14 12 18" stroke-dashoffset="15" opacity="0.73" transform="translate(-0.3,0.4)"/><use href="#w1" stroke="#040505" stroke-width="6.3"/><use href="#w1" stroke="#858b89" stroke-width="1.5" opacity="0.8" transform="translate(-1.2,0.6)"/><use href="#w1" stroke="#858b89" stroke-width="1.6" stroke-dasharray="23 13 14 17" stroke-dashoffset="4" opacity="0.55" transform="translate(-0.1,-1.0)"/><use href="#u25" stroke="#040505" stroke-width="5.3"/><use href="#u25" stroke="#858b89" stroke-width="1.4" opacity="0.8" transform="translate(-0.6,1.0)"/><use href="#u25" stroke="#ffffff" stroke-width="1.7" stroke-dasharray="16 12" stroke-dashoffset="24" opacity="0.83"/><use href="#u13" stroke="#040505" stroke-width="5.2"/><use href="#u13" stroke="#858b89" stroke-width="1.5" opacity="0.8" transform="translate(1.1,0.5)"/><use href="#u13" stroke="#e6e9e7" stroke-width="1.8" stroke-dasharray="13 15" stroke-dashoffset="1" opacity="0.70"/><use href="#u18" stroke="#040505" stroke-width="5.2"/><use href="#u18" stroke="#858b89" stroke-width="1.3" opacity="0.8" transform="translate(0.2,0.0)"/><use href="#u18" stroke="#c5cac8" stroke-width="1.8" stroke-dasharray="21 12" stroke-dashoffset="2" opacity="0.84"/><use href="#u2" stroke="#040505" stroke-width="5.2"/><use href="#u2" stroke="#9aa09e" stroke-width="1.4" opacity="0.8" transform="translate(-0.5,0.3)"/><use href="#u2" stroke="#c5cac8" stroke-width="1.6" stroke-dasharray="18 11" stroke-dashoffset="7" opacity="0.89"/><use href="#w8" stroke="#040505" stroke-width="5.3"/><use href="#w8" stroke="#858b89" stroke-width="1.4" opacity="0.8" transform="translate(0.1,1.1)"/><use href="#w8" stroke="#c5cac8" stroke-width="1.5" stroke-dasharray="15 18 9 23" stroke-dashoffset="1" opacity="0.52" transform="translate(0.4,0.8)"/><use href="#w109" stroke="#040505" stroke-width="5.8"/><use href="#w109" stroke="#858b89" stroke-width="1.6" opacity="0.8" transform="translate(-1.3,-0.1)"/><use href="#w109" stroke="#b0b5b3" stroke-width="1.2" stroke-dasharray="24 16 14 21" stroke-dashoffset="19" opacity="0.61" transform="translate(1.0,-1.0)"/><use href="#w72" stroke="#040505" stroke-width="6.0"/><use href="#w72" stroke="#9aa09e" stroke-width="1.7" opacity="0.8" transform="translate(-0.2,0.8)"/><use href="#w72" stroke="#c5cac8" stroke-width="1.1" stroke-dasharray="12 10 7 13" stroke-dashoffset="6" opacity="0.72" transform="translate(-0.3,0.7)"/><use href="#u14" stroke="#040505" stroke-width="5.1"/><use href="#u14" stroke="#858b89" stroke-width="1.6" opacity="0.8" transform="translate(-1.0,-0.4)"/><use href="#u14" stroke="#e6e9e7" stroke-width="1.4" stroke-dasharray="19 8" stroke-dashoffset="7" opacity="0.71"/><use href="#w93" stroke="#040505" stroke-width="6.2"/><use href="#w93" stroke="#5d6361" stroke-width="1.6" opacity="0.8" transform="translate(-1.0,-1.1)"/><use href="#w93" stroke="#b0b5b3" stroke-width="1.5" stroke-dasharray="12 19 7 24" stroke-dashoffset="11" opacity="0.72" transform="translate(-0.9,-0.6)"/><use href="#u7" stroke="#040505" stroke-width="5.5"/><use href="#u7" stroke="#9aa09e" stroke-width="1.3" opacity="0.8" transform="translate(0.4,-0.7)"/><use href="#u7" stroke="#c5cac8" stroke-width="1.7" stroke-dasharray="24 13" stroke-dashoffset="10" opacity="0.96"/><use href="#w32" stroke="#040505" stroke-width="6.1"/><use href="#w32" stroke="#858b89" stroke-width="1.7" opacity="0.8" transform="translate(0.3,0.4)"/><use href="#w32" stroke="#dfe2e0" stroke-width="1.6" stroke-dasharray="12 14 7 18" stroke-dashoffset="8" opacity="0.86" transform="translate(-0.3,0.9)"/><use href="#w103" stroke="#040505" stroke-width="6.0"/><use href="#w103" stroke="#858b89" stroke-width="1.2" opacity="0.8" transform="translate(-0.7,0.8)"/><use href="#w103" stroke="#9aa09e" stroke-width="1.1" stroke-dasharray="23 11 14 14" stroke-dashoffset="4" opacity="0.90" transform="translate(1.2,-0.5)"/><use href="#w111" stroke="#040505" stroke-width="5.2"/><use href="#w111" stroke="#5d6361" stroke-width="1.5" opacity="0.8" transform="translate(-0.3,-0.0)"/><use href="#w111" stroke="#9aa09e" stroke-width="1.8" stroke-dasharray="20 16 12 21" stroke-dashoffset="19" opacity="0.52" transform="translate(-0.1,0.6)"/><use href="#w52" stroke="#040505" stroke-width="5.5"/><use href="#w52" stroke="#858b89" stroke-width="1.7" opacity="0.8" transform="translate(1.1,1.1)"/><use href="#w52" stroke="#b0b5b3" stroke-width="1.2" stroke-dasharray="11 19 7 24" stroke-dashoffset="19" opacity="0.81" transform="translate(0.3,-0.0)"/><use href="#w101" stroke="#040505" stroke-width="5.7"/><use href="#w101" stroke="#5d6361" stroke-width="1.5" opacity="0.8" transform="translate(0.0,1.3)"/><use href="#w101" stroke="#b0b5b3" stroke-width="1.7" stroke-dasharray="16 19 9 25" stroke-dashoffset="11" opacity="0.73" transform="translate(0.4,-0.5)"/><use href="#w51" stroke="#040505" stroke-width="5.9"/><use href="#w51" stroke="#9aa09e" stroke-width="1.6" opacity="0.8" transform="translate(0.9,0.5)"/><use href="#w51" stroke="#dfe2e0" stroke-width="1.8" stroke-dasharray="20 20 12 25" stroke-dashoffset="12" opacity="0.93" transform="translate(0.0,-0.6)"/><use href="#u1" stroke="#040505" stroke-width="5.8"/><use href="#u1" stroke="#6f7573" stroke-width="1.7" opacity="0.8" transform="translate(0.6,0.7)"/><use href="#u1" stroke="#c5cac8" stroke-width="1.2" stroke-dasharray="22 15" stroke-dashoffset="4" opacity="0.97"/><use href="#w13" stroke="#040505" stroke-width="5.2"/><use href="#w13" stroke="#5d6361" stroke-width="1.5" opacity="0.8" transform="translate(0.2,-0.5)"/><use href="#w13" stroke="#9aa09e" stroke-width="1.6" stroke-dasharray="11 15 7 19" stroke-dashoffset="18" opacity="0.91" transform="translate(0.2,-0.6)"/><use href="#w18" stroke="#040505" stroke-width="5.3"/><use href="#w18" stroke="#9aa09e" stroke-width="1.5" opacity="0.8" transform="translate(0.8,0.1)"/><use href="#w18" stroke="#b0b5b3" stroke-width="1.6" stroke-dasharray="16 12 10 16" stroke-dashoffset="9" opacity="0.80" transform="translate(0.7,0.2)"/><use href="#w10" stroke="#040505" stroke-width="5.9"/><use href="#w10" stroke="#6f7573" stroke-width="1.7" opacity="0.8" transform="translate(0.6,0.2)"/><use href="#w10" stroke="#eef0ef" stroke-width="1.2" stroke-dasharray="21 14 13 18" stroke-dashoffset="7" opacity="0.76" transform="translate(0.1,-0.6)"/><use href="#u8" stroke="#040505" stroke-width="5.0"/><use href="#u8" stroke="#6f7573" stroke-width="1.7" opacity="0.8" transform="translate(0.4,-1.2)"/><use href="#u8" stroke="#e6e9e7" stroke-width="1.3" stroke-dasharray="13 10" stroke-dashoffset="11" opacity="0.83"/><use href="#u6" stroke="#040505" stroke-width="4.7"/><use href="#u6" stroke="#6f7573" stroke-width="1.3" opacity="0.8" transform="translate(-0.6,-0.6)"/><use href="#u6" stroke="#e6e9e7" stroke-width="2.0" stroke-dasharray="23 10" stroke-dashoffset="17" opacity="0.82"/><use href="#u28" stroke="#040505" stroke-width="5.2"/><use href="#u28" stroke="#6f7573" stroke-width="1.3" opacity="0.8" transform="translate(0.7,0.3)"/><use href="#u28" stroke="#ffffff" stroke-width="1.7" stroke-dasharray="15 14" stroke-dashoffset="0" opacity="0.72"/><use href="#u12" stroke="#040505" stroke-width="5.7"/><use href="#u12" stroke="#6f7573" stroke-width="1.6" opacity="0.8" transform="translate(0.8,-0.2)"/><use href="#u12" stroke="#c5cac8" stroke-width="1.3" stroke-dasharray="13 11" stroke-dashoffset="11" opacity="0.81"/><use href="#w28" stroke="#040505" stroke-width="6.3"/><use href="#w28" stroke="#6f7573" stroke-width="1.2" opacity="0.8" transform="translate(-0.0,1.2)"/><use href="#w28" stroke="#c5cac8" stroke-width="1.0" stroke-dasharray="12 14 7 19" stroke-dashoffset="19" opacity="0.85" transform="translate(-0.9,0.2)"/><use href="#w88" stroke="#040505" stroke-width="6.4"/><use href="#w88" stroke="#6f7573" stroke-width="1.8" opacity="0.8" transform="translate(1.3,-0.6)"/><use href="#w88" stroke="#9aa09e" stroke-width="1.3" stroke-dasharray="20 14 12 18" stroke-dashoffset="14" opacity="0.65" transform="translate(-1.0,-0.7)"/><use href="#w86" stroke="#040505" stroke-width="6.2"/><use href="#w86" stroke="#6f7573" stroke-width="1.5" opacity="0.8" transform="translate(-0.6,0.9)"/><use href="#w86" stroke="#dfe2e0" stroke-width="1.5" stroke-dasharray="19 20 11 26" stroke-dashoffset="20" opacity="0.66" transform="translate(-0.7,0.4)"/><use href="#u27" stroke="#040505" stroke-width="5.4"/><use href="#u27" stroke="#9aa09e" stroke-width="1.3" opacity="0.8" transform="translate(-0.6,0.8)"/><use href="#u27" stroke="#c5cac8" stroke-width="1.9" stroke-dasharray="14 10" stroke-dashoffset="10" opacity="0.84"/><use href="#w54" stroke="#040505" stroke-width="5.8"/><use href="#w54" stroke="#858b89" stroke-width="1.6" opacity="0.8" transform="translate(1.1,-1.2)"/><use href="#w54" stroke="#c5cac8" stroke-width="1.6" stroke-dasharray="24 12 14 16" stroke-dashoffset="1" opacity="0.64" transform="translate(-0.4,0.7)"/><use href="#w117" stroke="#040505" stroke-width="5.0"/><use href="#w117" stroke="#6f7573" stroke-width="1.6" opacity="0.8" transform="translate(-0.4,0.6)"/><use href="#w117" stroke="#c5cac8" stroke-width="1.4" stroke-dasharray="18 14 11 19" stroke-dashoffset="13" opacity="0.71" transform="translate(0.7,0.8)"/><use href="#w116" stroke="#040505" stroke-width="5.7"/><use href="#w116" stroke="#9aa09e" stroke-width="1.2" opacity="0.8" transform="translate(0.3,-0.3)"/><use href="#w116" stroke="#c5cac8" stroke-width="1.2" stroke-dasharray="17 10 10 13" stroke-dashoffset="21" opacity="0.85" transform="translate(-0.3,0.7)"/><use href="#w56" stroke="#040505" stroke-width="5.1"/><use href="#w56" stroke="#9aa09e" stroke-width="1.3" opacity="0.8" transform="translate(1.1,0.5)"/><use href="#w56" stroke="#9aa09e" stroke-width="1.6" stroke-dasharray="24 16 14 21" stroke-dashoffset="23" opacity="0.94" transform="translate(-0.5,-1.2)"/><use href="#w85" stroke="#040505" stroke-width="5.7"/><use href="#w85" stroke="#6f7573" stroke-width="1.2" opacity="0.8" transform="translate(-0.7,-0.9)"/><use href="#w85" stroke="#eef0ef" stroke-width="1.3" stroke-dasharray="23 9 14 12" stroke-dashoffset="21" opacity="0.93" transform="translate(0.2,-1.1)"/><use href="#w106" stroke="#040505" stroke-width="6.1"/><use href="#w106" stroke="#5d6361" stroke-width="1.4" opacity="0.8" transform="translate(1.2,-0.4)"/><use href="#w106" stroke="#dfe2e0" stroke-width="1.7" stroke-dasharray="22 13 13 17" stroke-dashoffset="6" opacity="0.59" transform="translate(1.0,0.3)"/><use href="#w31" stroke="#040505" stroke-width="5.9"/><use href="#w31" stroke="#9aa09e" stroke-width="1.2" opacity="0.8" transform="translate(-0.6,-0.6)"/><use href="#w31" stroke="#dfe2e0" stroke-width="1.6" stroke-dasharray="12 11 7 14" stroke-dashoffset="9" opacity="0.58" transform="translate(0.5,1.0)"/><use href="#w50" stroke="#040505" stroke-width="5.5"/><use href="#w50" stroke="#5d6361" stroke-width="1.4" opacity="0.8" transform="translate(0.3,0.9)"/><use href="#w50" stroke="#9aa09e" stroke-width="1.1" stroke-dasharray="21 19 13 24" stroke-dashoffset="1" opacity="0.81" transform="translate(-0.7,-0.7)"/><use href="#u19" stroke="#040505" stroke-width="5.8"/><use href="#u19" stroke="#6f7573" stroke-width="1.7" opacity="0.8" transform="translate(-1.0,-0.4)"/><use href="#u19" stroke="#e6e9e7" stroke-width="1.6" stroke-dasharray="16 12" stroke-dashoffset="12" opacity="0.90"/><use href="#w9" stroke="#040505" stroke-width="5.3"/><use href="#w9" stroke="#6f7573" stroke-width="1.8" opacity="0.8" transform="translate(-1.2,1.2)"/><use href="#w9" stroke="#858b89" stroke-width="1.6" stroke-dasharray="14 15 8 19" stroke-dashoffset="8" opacity="0.68" transform="translate(0.6,-0.5)"/><use href="#w102" stroke="#040505" stroke-width="5.8"/><use href="#w102" stroke="#6f7573" stroke-width="1.3" opacity="0.8" transform="translate(-1.2,1.0)"/><use href="#w102" stroke="#c5cac8" stroke-width="1.6" stroke-dasharray="14 17 9 23" stroke-dashoffset="12" opacity="0.55" transform="translate(0.7,-1.2)"/><use href="#w84" stroke="#040505" stroke-width="5.9"/><use href="#w84" stroke="#9aa09e" stroke-width="1.8" opacity="0.8" transform="translate(-1.2,0.2)"/><use href="#w84" stroke="#c5cac8" stroke-width="1.7" stroke-dasharray="16 10 10 13" stroke-dashoffset="1" opacity="0.81" transform="translate(0.3,0.8)"/>
</g>
<g transform="translate(655.9,559.0) rotate(130)"><rect x="-60.4" y="-5.5" width="60.4" height="11.1" rx="2.5" fill="#050606"/><rect x="-57.4" y="-4.2" width="37.3" height="1.9" rx="0.9" fill="#f2f4f3" opacity="0.50"/><rect x="-37.4" y="-0.6" width="18.1" height="2.4" rx="1" fill="#7d8381" opacity="0.38"/><rect x="-54.3" y="3.2" width="30.2" height="1" rx="0.5" fill="#9aa09e" opacity="0.30"/></g><g transform="translate(663.1,571.1) rotate(129)"><rect x="-49.8" y="-5.2" width="49.8" height="10.4" rx="2.5" fill="#050606"/><rect x="-46.8" y="-3.9" width="19.9" height="1.9" rx="0.9" fill="#f2f4f3" opacity="0.78"/><rect x="-30.9" y="-0.6" width="14.9" height="2.4" rx="1" fill="#7d8381" opacity="0.58"/><rect x="-44.8" y="2.9" width="24.9" height="1" rx="0.5" fill="#9aa09e" opacity="0.47"/></g><g transform="translate(649.4,558.4) rotate(131)"><rect x="-46.4" y="-5.2" width="46.4" height="10.4" rx="2.5" fill="#050606"/><rect x="-43.4" y="-3.9" width="28.9" height="1.9" rx="0.9" fill="#f2f4f3" opacity="0.77"/><rect x="-28.8" y="-0.6" width="13.9" height="2.4" rx="1" fill="#7d8381" opacity="0.57"/><rect x="-41.8" y="2.9" width="23.2" height="1" rx="0.5" fill="#9aa09e" opacity="0.46"/></g><g transform="translate(599.2,514.4) rotate(130)"><rect x="-57.2" y="-5.3" width="57.2" height="10.6" rx="2.5" fill="#050606"/><rect x="-54.2" y="-4.0" width="41.4" height="1.9" rx="0.9" fill="#f2f4f3" opacity="0.47"/><rect x="-35.5" y="-0.6" width="17.2" height="2.4" rx="1" fill="#7d8381" opacity="0.35"/><rect x="-51.5" y="3.0" width="28.6" height="1" rx="0.5" fill="#9aa09e" opacity="0.28"/></g><g transform="translate(559.2,467.3) rotate(126)"><rect x="-44.1" y="-5.5" width="44.1" height="10.9" rx="2.5" fill="#050606"/><rect x="-41.1" y="-4.2" width="24.0" height="1.9" rx="0.9" fill="#f2f4f3" opacity="0.57"/><rect x="-27.4" y="-0.6" width="13.2" height="2.4" rx="1" fill="#7d8381" opacity="0.43"/><rect x="-39.7" y="3.2" width="22.1" height="1" rx="0.5" fill="#9aa09e" opacity="0.34"/></g><g transform="translate(585.2,500.6) rotate(125)"><rect x="-53.3" y="-5.1" width="53.3" height="10.3" rx="2.5" fill="#050606"/><rect x="-50.3" y="-3.8" width="26.6" height="1.9" rx="0.9" fill="#f2f4f3" opacity="0.64"/><rect x="-33.0" y="-0.6" width="16.0" height="2.4" rx="1" fill="#7d8381" opacity="0.48"/><rect x="-47.9" y="2.8" width="26.6" height="1" rx="0.5" fill="#9aa09e" opacity="0.38"/></g><g transform="translate(630.8,557.5) rotate(118)"><rect x="-55.9" y="-5.3" width="55.9" height="10.6" rx="2.5" fill="#050606"/><rect x="-52.9" y="-4.0" width="35.0" height="1.9" rx="0.9" fill="#f2f4f3" opacity="0.71"/><rect x="-34.7" y="-0.6" width="16.8" height="2.4" rx="1" fill="#7d8381" opacity="0.53"/><rect x="-50.3" y="3.0" width="28.0" height="1" rx="0.5" fill="#9aa09e" opacity="0.43"/></g><g transform="translate(661.8,596.3) rotate(118)"><rect x="-57.0" y="-5.3" width="57.0" height="10.6" rx="2.5" fill="#050606"/><rect x="-54.0" y="-4.0" width="34.1" height="1.9" rx="0.9" fill="#f2f4f3" opacity="0.91"/><rect x="-35.3" y="-0.6" width="17.1" height="2.4" rx="1" fill="#7d8381" opacity="0.68"/><rect x="-51.3" y="3.0" width="28.5" height="1" rx="0.5" fill="#9aa09e" opacity="0.55"/></g><g transform="translate(668.2,605.6) rotate(122)"><rect x="-58.3" y="-5.3" width="58.3" height="10.6" rx="2.5" fill="#050606"/><rect x="-55.3" y="-4.0" width="26.2" height="1.9" rx="0.9" fill="#f2f4f3" opacity="0.91"/><rect x="-36.1" y="-0.6" width="17.5" height="2.4" rx="1" fill="#7d8381" opacity="0.68"/><rect x="-52.5" y="3.0" width="29.1" height="1" rx="0.5" fill="#9aa09e" opacity="0.54"/></g><g transform="translate(612.2,542.6) rotate(120)"><rect x="-54.9" y="-5.0" width="54.9" height="10.0" rx="2.5" fill="#050606"/><rect x="-51.9" y="-3.7" width="24.5" height="1.9" rx="0.9" fill="#f2f4f3" opacity="0.62"/><rect x="-34.0" y="-0.6" width="16.5" height="2.4" rx="1" fill="#7d8381" opacity="0.46"/><rect x="-49.4" y="2.7" width="27.4" height="1" rx="0.5" fill="#9aa09e" opacity="0.37"/></g><g transform="translate(656.9,596.4) rotate(115)"><rect x="-43.1" y="-4.9" width="43.1" height="9.7" rx="2.5" fill="#050606"/><rect x="-40.1" y="-3.6" width="17.8" height="1.9" rx="0.9" fill="#f2f4f3" opacity="0.75"/><rect x="-26.7" y="-0.6" width="12.9" height="2.4" rx="1" fill="#7d8381" opacity="0.56"/><rect x="-38.8" y="2.6" width="21.6" height="1" rx="0.5" fill="#9aa09e" opacity="0.45"/></g><g transform="translate(554.6,476.0) rotate(136)"><rect x="-54.4" y="-5.2" width="54.4" height="10.4" rx="2.5" fill="#050606"/><rect x="-51.4" y="-3.9" width="27.2" height="1.9" rx="0.9" fill="#f2f4f3" opacity="0.57"/><rect x="-33.7" y="-0.6" width="16.3" height="2.4" rx="1" fill="#7d8381" opacity="0.43"/><rect x="-48.9" y="2.9" width="27.2" height="1" rx="0.5" fill="#9aa09e" opacity="0.34"/></g><g transform="translate(592.2,526.4) rotate(132)"><rect x="-55.8" y="-5.1" width="55.8" height="10.2" rx="2.5" fill="#050606"/><rect x="-52.8" y="-3.8" width="27.1" height="1.9" rx="0.9" fill="#f2f4f3" opacity="0.86"/><rect x="-34.6" y="-0.6" width="16.7" height="2.4" rx="1" fill="#7d8381" opacity="0.65"/><rect x="-50.2" y="2.8" width="27.9" height="1" rx="0.5" fill="#9aa09e" opacity="0.52"/></g><g transform="translate(587.5,521.2) rotate(125)"><rect x="-50.0" y="-5.2" width="50.0" height="10.3" rx="2.5" fill="#050606"/><rect x="-47.0" y="-3.9" width="36.5" height="1.9" rx="0.9" fill="#f2f4f3" opacity="0.84"/><rect x="-31.0" y="-0.6" width="15.0" height="2.4" rx="1" fill="#7d8381" opacity="0.63"/><rect x="-45.0" y="2.9" width="25.0" height="1" rx="0.5" fill="#9aa09e" opacity="0.51"/></g><g transform="translate(552.5,481.5) rotate(123)"><rect x="-47.7" y="-5.5" width="47.7" height="10.9" rx="2.5" fill="#050606"/><rect x="-44.7" y="-4.2" width="22.1" height="1.9" rx="0.9" fill="#f2f4f3" opacity="0.73"/><rect x="-29.6" y="-0.6" width="14.3" height="2.4" rx="1" fill="#7d8381" opacity="0.55"/><rect x="-42.9" y="3.2" width="23.8" height="1" rx="0.5" fill="#9aa09e" opacity="0.44"/></g><g transform="translate(559.2,489.6) rotate(134)"><rect x="-44.4" y="-5.0" width="44.4" height="9.9" rx="2.5" fill="#050606"/><rect x="-41.4" y="-3.7" width="23.9" height="1.9" rx="0.9" fill="#f2f4f3" opacity="0.82"/><rect x="-27.5" y="-0.6" width="13.3" height="2.4" rx="1" fill="#7d8381" opacity="0.62"/><rect x="-39.9" y="2.7" width="22.2" height="1" rx="0.5" fill="#9aa09e" opacity="0.49"/></g><g transform="translate(543.7,471.3) rotate(137)"><rect x="-45.5" y="-4.9" width="45.5" height="9.7" rx="2.5" fill="#050606"/><rect x="-42.5" y="-3.6" width="19.2" height="1.9" rx="0.9" fill="#f2f4f3" opacity="0.53"/><rect x="-28.2" y="-0.6" width="13.7" height="2.4" rx="1" fill="#7d8381" opacity="0.40"/><rect x="-41.0" y="2.6" width="22.8" height="1" rx="0.5" fill="#9aa09e" opacity="0.32"/></g><g transform="translate(557.2,492.4) rotate(122)"><rect x="-57.8" y="-5.4" width="57.8" height="10.8" rx="2.5" fill="#050606"/><rect x="-54.8" y="-4.1" width="39.7" height="1.9" rx="0.9" fill="#f2f4f3" opacity="0.56"/><rect x="-35.8" y="-0.6" width="17.3" height="2.4" rx="1" fill="#7d8381" opacity="0.42"/><rect x="-52.0" y="3.1" width="28.9" height="1" rx="0.5" fill="#9aa09e" opacity="0.34"/></g><g transform="translate(536.0,467.4) rotate(137)"><rect x="-55.4" y="-5.3" width="55.4" height="10.6" rx="2.5" fill="#050606"/><rect x="-52.4" y="-4.0" width="28.6" height="1.9" rx="0.9" fill="#f2f4f3" opacity="0.73"/><rect x="-34.4" y="-0.6" width="16.6" height="2.4" rx="1" fill="#7d8381" opacity="0.54"/><rect x="-49.9" y="3.0" width="27.7" height="1" rx="0.5" fill="#9aa09e" opacity="0.44"/></g><g transform="translate(610.8,557.3) rotate(124)"><rect x="-56.2" y="-5.3" width="56.2" height="10.7" rx="2.5" fill="#050606"/><rect x="-53.2" y="-4.0" width="29.1" height="1.9" rx="0.9" fill="#f2f4f3" opacity="0.59"/><rect x="-34.8" y="-0.6" width="16.9" height="2.4" rx="1" fill="#7d8381" opacity="0.44"/><rect x="-50.6" y="3.0" width="28.1" height="1" rx="0.5" fill="#9aa09e" opacity="0.36"/></g><g transform="translate(600.4,546.6) rotate(124)"><rect x="-47.0" y="-5.2" width="47.0" height="10.4" rx="2.5" fill="#050606"/><rect x="-44.0" y="-3.9" width="19.0" height="1.9" rx="0.9" fill="#f2f4f3" opacity="0.79"/><rect x="-29.1" y="-0.6" width="14.1" height="2.4" rx="1" fill="#7d8381" opacity="0.59"/><rect x="-42.3" y="2.9" width="23.5" height="1" rx="0.5" fill="#9aa09e" opacity="0.47"/></g><g transform="translate(618.9,568.7) rotate(120)"><rect x="-42.8" y="-5.0" width="42.8" height="10.0" rx="2.5" fill="#050606"/><rect x="-39.8" y="-3.7" width="17.9" height="1.9" rx="0.9" fill="#f2f4f3" opacity="0.46"/><rect x="-26.5" y="-0.6" width="12.8" height="2.4" rx="1" fill="#7d8381" opacity="0.35"/><rect x="-38.5" y="2.7" width="21.4" height="1" rx="0.5" fill="#9aa09e" opacity="0.28"/></g><g transform="translate(657.3,616.2) rotate(114)"><rect x="-51.3" y="-4.9" width="51.3" height="9.8" rx="2.5" fill="#050606"/><rect x="-48.3" y="-3.6" width="24.4" height="1.9" rx="0.9" fill="#f2f4f3" opacity="0.48"/><rect x="-31.8" y="-0.6" width="15.4" height="2.4" rx="1" fill="#7d8381" opacity="0.36"/><rect x="-46.2" y="2.6" width="25.7" height="1" rx="0.5" fill="#9aa09e" opacity="0.29"/></g><g transform="translate(647.4,607.6) rotate(127)"><rect x="-49.5" y="-5.1" width="49.5" height="10.1" rx="2.5" fill="#050606"/><rect x="-46.5" y="-3.8" width="35.7" height="1.9" rx="0.9" fill="#f2f4f3" opacity="0.86"/><rect x="-30.7" y="-0.6" width="14.9" height="2.4" rx="1" fill="#7d8381" opacity="0.64"/><rect x="-44.6" y="2.8" width="24.8" height="1" rx="0.5" fill="#9aa09e" opacity="0.51"/></g><g transform="translate(545.5,489.1) rotate(132)"><rect x="-59.0" y="-5.3" width="59.0" height="10.7" rx="2.5" fill="#050606"/><rect x="-56.0" y="-4.0" width="32.1" height="1.9" rx="0.9" fill="#f2f4f3" opacity="0.86"/><rect x="-36.6" y="-0.6" width="17.7" height="2.4" rx="1" fill="#7d8381" opacity="0.65"/><rect x="-53.1" y="3.0" width="29.5" height="1" rx="0.5" fill="#9aa09e" opacity="0.52"/></g><g transform="translate(530.8,472.3) rotate(132)"><rect x="-53.1" y="-5.3" width="53.1" height="10.6" rx="2.5" fill="#050606"/><rect x="-50.1" y="-4.0" width="31.3" height="1.9" rx="0.9" fill="#f2f4f3" opacity="0.63"/><rect x="-32.9" y="-0.6" width="15.9" height="2.4" rx="1" fill="#7d8381" opacity="0.47"/><rect x="-47.8" y="3.0" width="26.5" height="1" rx="0.5" fill="#9aa09e" opacity="0.38"/></g><g transform="translate(646.6,613.1) rotate(125)"><rect x="-52.6" y="-5.1" width="52.6" height="10.1" rx="2.5" fill="#050606"/><rect x="-49.6" y="-3.8" width="38.5" height="1.9" rx="0.9" fill="#f2f4f3" opacity="0.94"/><rect x="-32.6" y="-0.6" width="15.8" height="2.4" rx="1" fill="#7d8381" opacity="0.71"/><rect x="-47.3" y="2.8" width="26.3" height="1" rx="0.5" fill="#9aa09e" opacity="0.56"/></g><g transform="translate(534.1,479.6) rotate(132)"><rect x="-54.9" y="-5.4" width="54.9" height="10.9" rx="2.5" fill="#050606"/><rect x="-51.9" y="-4.1" width="24.2" height="1.9" rx="0.9" fill="#f2f4f3" opacity="0.59"/><rect x="-34.0" y="-0.6" width="16.5" height="2.4" rx="1" fill="#7d8381" opacity="0.44"/><rect x="-49.4" y="3.1" width="27.4" height="1" rx="0.5" fill="#9aa09e" opacity="0.35"/></g><g transform="translate(640.7,606.8) rotate(121)"><rect x="-48.1" y="-5.6" width="48.1" height="11.1" rx="2.5" fill="#050606"/><rect x="-45.1" y="-4.3" width="28.9" height="1.9" rx="0.9" fill="#f2f4f3" opacity="0.65"/><rect x="-29.8" y="-0.6" width="14.4" height="2.4" rx="1" fill="#7d8381" opacity="0.49"/><rect x="-43.3" y="3.3" width="24.1" height="1" rx="0.5" fill="#9aa09e" opacity="0.39"/></g><g transform="translate(525.9,470.0) rotate(136)"><rect x="-55.5" y="-5.5" width="55.5" height="11.1" rx="2.5" fill="#050606"/><rect x="-52.5" y="-4.2" width="33.2" height="1.9" rx="0.9" fill="#f2f4f3" opacity="0.80"/><rect x="-34.4" y="-0.6" width="16.6" height="2.4" rx="1" fill="#7d8381" opacity="0.60"/><rect x="-49.9" y="3.2" width="27.7" height="1" rx="0.5" fill="#9aa09e" opacity="0.48"/></g><g transform="translate(663.7,635.1) rotate(117)"><rect x="-61.3" y="-5.0" width="61.3" height="9.9" rx="2.5" fill="#050606"/><rect x="-58.3" y="-3.7" width="42.1" height="1.9" rx="0.9" fill="#f2f4f3" opacity="0.82"/><rect x="-38.0" y="-0.6" width="18.4" height="2.4" rx="1" fill="#7d8381" opacity="0.62"/><rect x="-55.1" y="2.7" width="30.6" height="1" rx="0.5" fill="#9aa09e" opacity="0.49"/></g><g transform="translate(542.7,491.4) rotate(128)"><rect x="-54.5" y="-5.6" width="54.5" height="11.2" rx="2.5" fill="#050606"/><rect x="-51.5" y="-4.3" width="27.4" height="1.9" rx="0.9" fill="#f2f4f3" opacity="0.55"/><rect x="-33.8" y="-0.6" width="16.4" height="2.4" rx="1" fill="#7d8381" opacity="0.41"/><rect x="-49.1" y="3.3" width="27.3" height="1" rx="0.5" fill="#9aa09e" opacity="0.33"/></g><g transform="translate(642.7,611.9) rotate(127)"><rect x="-47.5" y="-5.5" width="47.5" height="10.9" rx="2.5" fill="#050606"/><rect x="-44.5" y="-4.2" width="25.2" height="1.9" rx="0.9" fill="#f2f4f3" opacity="0.84"/><rect x="-29.4" y="-0.6" width="14.2" height="2.4" rx="1" fill="#7d8381" opacity="0.63"/><rect x="-42.7" y="3.2" width="23.7" height="1" rx="0.5" fill="#9aa09e" opacity="0.51"/></g><g transform="translate(587.3,546.4) rotate(122)"><rect x="-57.9" y="-5.4" width="57.9" height="10.7" rx="2.5" fill="#050606"/><rect x="-54.9" y="-4.1" width="26.7" height="1.9" rx="0.9" fill="#f2f4f3" opacity="0.61"/><rect x="-35.9" y="-0.6" width="17.4" height="2.4" rx="1" fill="#7d8381" opacity="0.46"/><rect x="-52.1" y="3.1" width="28.9" height="1" rx="0.5" fill="#9aa09e" opacity="0.37"/></g><g transform="translate(585.6,545.1) rotate(128)"><rect x="-43.8" y="-5.0" width="43.8" height="10.0" rx="2.5" fill="#050606"/><rect x="-40.8" y="-3.7" width="25.0" height="1.9" rx="0.9" fill="#f2f4f3" opacity="0.60"/><rect x="-27.1" y="-0.6" width="13.1" height="2.4" rx="1" fill="#7d8381" opacity="0.45"/><rect x="-39.4" y="2.7" width="21.9" height="1" rx="0.5" fill="#9aa09e" opacity="0.36"/></g><g transform="translate(615.2,581.1) rotate(124)"><rect x="-46.1" y="-5.5" width="46.1" height="10.9" rx="2.5" fill="#050606"/><rect x="-43.1" y="-4.2" width="32.5" height="1.9" rx="0.9" fill="#f2f4f3" opacity="0.94"/><rect x="-28.6" y="-0.6" width="13.8" height="2.4" rx="1" fill="#7d8381" opacity="0.70"/><rect x="-41.5" y="3.2" width="23.0" height="1" rx="0.5" fill="#9aa09e" opacity="0.56"/></g><g transform="translate(525.5,474.4) rotate(137)"><rect x="-58.7" y="-5.4" width="58.7" height="10.8" rx="2.5" fill="#050606"/><rect x="-55.7" y="-4.1" width="36.7" height="1.9" rx="0.9" fill="#f2f4f3" opacity="0.88"/><rect x="-36.4" y="-0.6" width="17.6" height="2.4" rx="1" fill="#7d8381" opacity="0.66"/><rect x="-52.9" y="3.1" width="29.4" height="1" rx="0.5" fill="#9aa09e" opacity="0.53"/></g><g transform="translate(578.0,538.5) rotate(128)"><rect x="-57.1" y="-5.6" width="57.1" height="11.1" rx="2.5" fill="#050606"/><rect x="-54.1" y="-4.3" width="25.5" height="1.9" rx="0.9" fill="#f2f4f3" opacity="0.89"/><rect x="-35.4" y="-0.6" width="17.1" height="2.4" rx="1" fill="#7d8381" opacity="0.67"/><rect x="-51.4" y="3.3" width="28.6" height="1" rx="0.5" fill="#9aa09e" opacity="0.53"/></g><g transform="translate(615.3,583.6) rotate(119)"><rect x="-54.8" y="-5.5" width="54.8" height="10.9" rx="2.5" fill="#050606"/><rect x="-51.8" y="-4.2" width="39.0" height="1.9" rx="0.9" fill="#f2f4f3" opacity="0.60"/><rect x="-34.0" y="-0.6" width="16.5" height="2.4" rx="1" fill="#7d8381" opacity="0.45"/><rect x="-49.4" y="3.2" width="27.4" height="1" rx="0.5" fill="#9aa09e" opacity="0.36"/></g><g transform="translate(629.6,600.7) rotate(123)"><rect x="-59.4" y="-5.0" width="59.4" height="10.0" rx="2.5" fill="#050606"/><rect x="-56.4" y="-3.7" width="32.4" height="1.9" rx="0.9" fill="#f2f4f3" opacity="0.68"/><rect x="-36.9" y="-0.6" width="17.8" height="2.4" rx="1" fill="#7d8381" opacity="0.51"/><rect x="-53.5" y="2.7" width="29.7" height="1" rx="0.5" fill="#9aa09e" opacity="0.41"/></g><g transform="translate(540.7,494.8) rotate(134)"><rect x="-53.7" y="-5.0" width="53.7" height="10.1" rx="2.5" fill="#050606"/><rect x="-50.7" y="-3.7" width="33.4" height="1.9" rx="0.9" fill="#f2f4f3" opacity="0.82"/><rect x="-33.3" y="-0.6" width="16.1" height="2.4" rx="1" fill="#7d8381" opacity="0.61"/><rect x="-48.4" y="2.7" width="26.9" height="1" rx="0.5" fill="#9aa09e" opacity="0.49"/></g><g transform="translate(614.3,584.5) rotate(121)"><rect x="-49.9" y="-5.0" width="49.9" height="9.9" rx="2.5" fill="#050606"/><rect x="-46.9" y="-3.7" width="21.0" height="1.9" rx="0.9" fill="#f2f4f3" opacity="0.70"/><rect x="-30.9" y="-0.6" width="15.0" height="2.4" rx="1" fill="#7d8381" opacity="0.52"/><rect x="-44.9" y="2.7" width="25.0" height="1" rx="0.5" fill="#9aa09e" opacity="0.42"/></g><g transform="translate(616.0,588.3) rotate(130)"><rect x="-54.9" y="-4.9" width="54.9" height="9.8" rx="2.5" fill="#050606"/><rect x="-51.9" y="-3.6" width="22.4" height="1.9" rx="0.9" fill="#f2f4f3" opacity="0.66"/><rect x="-34.1" y="-0.6" width="16.5" height="2.4" rx="1" fill="#7d8381" opacity="0.49"/><rect x="-49.4" y="2.6" width="27.5" height="1" rx="0.5" fill="#9aa09e" opacity="0.39"/></g><g transform="translate(533.2,490.1) rotate(124)"><rect x="-52.0" y="-5.1" width="52.0" height="10.1" rx="2.5" fill="#050606"/><rect x="-49.0" y="-3.8" width="26.4" height="1.9" rx="0.9" fill="#f2f4f3" opacity="0.93"/><rect x="-32.2" y="-0.6" width="15.6" height="2.4" rx="1" fill="#7d8381" opacity="0.70"/><rect x="-46.8" y="2.8" width="26.0" height="1" rx="0.5" fill="#9aa09e" opacity="0.56"/></g><g transform="translate(525.4,482.9) rotate(126)"><rect x="-51.2" y="-5.6" width="51.2" height="11.1" rx="2.5" fill="#050606"/><rect x="-48.2" y="-4.3" width="25.6" height="1.9" rx="0.9" fill="#f2f4f3" opacity="0.47"/><rect x="-31.8" y="-0.6" width="15.4" height="2.4" rx="1" fill="#7d8381" opacity="0.35"/><rect x="-46.1" y="3.3" width="25.6" height="1" rx="0.5" fill="#9aa09e" opacity="0.28"/></g><g transform="translate(646.8,627.9) rotate(116)"><rect x="-58.3" y="-5.5" width="58.3" height="11.1" rx="2.5" fill="#050606"/><rect x="-55.3" y="-4.2" width="40.8" height="1.9" rx="0.9" fill="#f2f4f3" opacity="0.59"/><rect x="-36.1" y="-0.6" width="17.5" height="2.4" rx="1" fill="#7d8381" opacity="0.44"/><rect x="-52.4" y="3.2" width="29.1" height="1" rx="0.5" fill="#9aa09e" opacity="0.35"/></g><g transform="translate(654.2,637.0) rotate(120)"><rect x="-54.6" y="-5.3" width="54.6" height="10.6" rx="2.5" fill="#050606"/><rect x="-51.6" y="-4.0" width="37.9" height="1.9" rx="0.9" fill="#f2f4f3" opacity="0.65"/><rect x="-33.8" y="-0.6" width="16.4" height="2.4" rx="1" fill="#7d8381" opacity="0.49"/><rect x="-49.1" y="3.0" width="27.3" height="1" rx="0.5" fill="#9aa09e" opacity="0.39"/></g><g transform="translate(524.4,484.0) rotate(131)"><rect x="-53.6" y="-5.0" width="53.6" height="10.1" rx="2.5" fill="#050606"/><rect x="-50.6" y="-3.7" width="29.0" height="1.9" rx="0.9" fill="#f2f4f3" opacity="0.91"/><rect x="-33.2" y="-0.6" width="16.1" height="2.4" rx="1" fill="#7d8381" opacity="0.68"/><rect x="-48.2" y="2.7" width="26.8" height="1" rx="0.5" fill="#9aa09e" opacity="0.55"/></g><g transform="translate(620.1,599.8) rotate(124)"><rect x="-49.4" y="-5.0" width="49.4" height="10.1" rx="2.5" fill="#050606"/><rect x="-46.4" y="-3.7" width="20.1" height="1.9" rx="0.9" fill="#f2f4f3" opacity="0.61"/><rect x="-30.6" y="-0.6" width="14.8" height="2.4" rx="1" fill="#7d8381" opacity="0.46"/><rect x="-44.5" y="2.7" width="24.7" height="1" rx="0.5" fill="#9aa09e" opacity="0.37"/></g><g transform="translate(594.1,569.1) rotate(127)"><rect x="-59.0" y="-4.9" width="59.0" height="9.8" rx="2.5" fill="#050606"/><rect x="-56.0" y="-3.6" width="36.4" height="1.9" rx="0.9" fill="#f2f4f3" opacity="0.84"/><rect x="-36.6" y="-0.6" width="17.7" height="2.4" rx="1" fill="#7d8381" opacity="0.63"/><rect x="-53.1" y="2.6" width="29.5" height="1" rx="0.5" fill="#9aa09e" opacity="0.51"/></g><g transform="translate(628.8,612.5) rotate(121)"><rect x="-52.6" y="-5.7" width="52.6" height="11.4" rx="2.5" fill="#050606"/><rect x="-49.6" y="-4.4" width="24.5" height="1.9" rx="0.9" fill="#f2f4f3" opacity="0.78"/><rect x="-32.6" y="-0.6" width="15.8" height="2.4" rx="1" fill="#7d8381" opacity="0.58"/><rect x="-47.3" y="3.4" width="26.3" height="1" rx="0.5" fill="#9aa09e" opacity="0.47"/></g><g transform="translate(553.9,523.4) rotate(125)"><rect x="-53.3" y="-5.4" width="53.3" height="10.8" rx="2.5" fill="#050606"/><rect x="-50.3" y="-4.1" width="26.7" height="1.9" rx="0.9" fill="#f2f4f3" opacity="0.87"/><rect x="-33.1" y="-0.6" width="16.0" height="2.4" rx="1" fill="#7d8381" opacity="0.66"/><rect x="-48.0" y="3.1" width="26.7" height="1" rx="0.5" fill="#9aa09e" opacity="0.52"/></g><g transform="translate(626.8,611.8) rotate(123)"><rect x="-49.0" y="-5.4" width="49.0" height="10.9" rx="2.5" fill="#050606"/><rect x="-46.0" y="-4.1" width="29.9" height="1.9" rx="0.9" fill="#f2f4f3" opacity="0.91"/><rect x="-30.4" y="-0.6" width="14.7" height="2.4" rx="1" fill="#7d8381" opacity="0.68"/><rect x="-44.1" y="3.1" width="24.5" height="1" rx="0.5" fill="#9aa09e" opacity="0.54"/></g><g transform="translate(581.3,563.5) rotate(129)"><rect x="-56.2" y="-5.4" width="56.2" height="10.7" rx="2.5" fill="#050606"/><rect x="-53.2" y="-4.1" width="29.5" height="1.9" rx="0.9" fill="#f2f4f3" opacity="0.59"/><rect x="-34.8" y="-0.6" width="16.8" height="2.4" rx="1" fill="#7d8381" opacity="0.44"/><rect x="-50.5" y="3.1" width="28.1" height="1" rx="0.5" fill="#9aa09e" opacity="0.35"/></g><g transform="translate(602.2,591.6) rotate(121)"><rect x="-57.1" y="-5.3" width="57.1" height="10.6" rx="2.5" fill="#050606"/><rect x="-54.1" y="-4.0" width="32.6" height="1.9" rx="0.9" fill="#f2f4f3" opacity="0.91"/><rect x="-35.4" y="-0.6" width="17.1" height="2.4" rx="1" fill="#7d8381" opacity="0.68"/><rect x="-51.4" y="3.0" width="28.6" height="1" rx="0.5" fill="#9aa09e" opacity="0.54"/></g><g transform="translate(585.8,572.9) rotate(129)"><rect x="-50.1" y="-5.3" width="50.1" height="10.6" rx="2.5" fill="#050606"/><rect x="-47.1" y="-4.0" width="35.1" height="1.9" rx="0.9" fill="#f2f4f3" opacity="0.83"/><rect x="-31.1" y="-0.6" width="15.0" height="2.4" rx="1" fill="#7d8381" opacity="0.62"/><rect x="-45.1" y="3.0" width="25.1" height="1" rx="0.5" fill="#9aa09e" opacity="0.50"/></g><g transform="translate(623.9,619.3) rotate(123)"><rect x="-47.9" y="-5.2" width="47.9" height="10.4" rx="2.5" fill="#050606"/><rect x="-44.9" y="-3.9" width="24.9" height="1.9" rx="0.9" fill="#f2f4f3" opacity="0.45"/><rect x="-29.7" y="-0.6" width="14.4" height="2.4" rx="1" fill="#7d8381" opacity="0.34"/><rect x="-43.1" y="2.9" width="24.0" height="1" rx="0.5" fill="#9aa09e" opacity="0.27"/></g><g transform="translate(598.5,590.1) rotate(132)"><rect x="-58.3" y="-5.4" width="58.3" height="10.9" rx="2.5" fill="#050606"/><rect x="-55.3" y="-4.1" width="36.7" height="1.9" rx="0.9" fill="#f2f4f3" opacity="0.46"/><rect x="-36.1" y="-0.6" width="17.5" height="2.4" rx="1" fill="#7d8381" opacity="0.35"/><rect x="-52.4" y="3.1" width="29.1" height="1" rx="0.5" fill="#9aa09e" opacity="0.28"/></g><g transform="translate(505.1,478.7) rotate(130)"><rect x="-46.4" y="-5.6" width="46.4" height="11.3" rx="2.5" fill="#050606"/><rect x="-43.4" y="-4.3" width="18.6" height="1.9" rx="0.9" fill="#f2f4f3" opacity="0.91"/><rect x="-28.8" y="-0.6" width="13.9" height="2.4" rx="1" fill="#7d8381" opacity="0.68"/><rect x="-41.7" y="3.3" width="23.2" height="1" rx="0.5" fill="#9aa09e" opacity="0.55"/></g><g transform="translate(613.3,608.6) rotate(119)"><rect x="-43.6" y="-5.1" width="43.6" height="10.2" rx="2.5" fill="#050606"/><rect x="-40.6" y="-3.8" width="25.7" height="1.9" rx="0.9" fill="#f2f4f3" opacity="0.89"/><rect x="-27.0" y="-0.6" width="13.1" height="2.4" rx="1" fill="#7d8381" opacity="0.67"/><rect x="-39.3" y="2.8" width="21.8" height="1" rx="0.5" fill="#9aa09e" opacity="0.54"/></g><g transform="translate(636.7,637.7) rotate(115)"><rect x="-55.7" y="-5.2" width="55.7" height="10.4" rx="2.5" fill="#050606"/><rect x="-52.7" y="-3.9" width="38.8" height="1.9" rx="0.9" fill="#f2f4f3" opacity="0.69"/><rect x="-34.6" y="-0.6" width="16.7" height="2.4" rx="1" fill="#7d8381" opacity="0.52"/><rect x="-50.2" y="2.9" width="27.9" height="1" rx="0.5" fill="#9aa09e" opacity="0.42"/></g><g transform="translate(556.0,542.5) rotate(127)"><rect x="-43.7" y="-5.6" width="43.7" height="11.2" rx="2.5" fill="#050606"/><rect x="-40.7" y="-4.3" width="22.3" height="1.9" rx="0.9" fill="#f2f4f3" opacity="0.63"/><rect x="-27.1" y="-0.6" width="13.1" height="2.4" rx="1" fill="#7d8381" opacity="0.47"/><rect x="-39.4" y="3.3" width="21.9" height="1" rx="0.5" fill="#9aa09e" opacity="0.38"/></g><g transform="translate(539.8,523.9) rotate(129)"><rect x="-49.0" y="-5.6" width="49.0" height="11.2" rx="2.5" fill="#050606"/><rect x="-46.0" y="-4.3" width="21.0" height="1.9" rx="0.9" fill="#f2f4f3" opacity="0.71"/><rect x="-30.4" y="-0.6" width="14.7" height="2.4" rx="1" fill="#7d8381" opacity="0.54"/><rect x="-44.1" y="3.3" width="24.5" height="1" rx="0.5" fill="#9aa09e" opacity="0.43"/></g><g transform="translate(503.2,481.8) rotate(140)"><rect x="-61.4" y="-5.1" width="61.4" height="10.2" rx="2.5" fill="#050606"/><rect x="-58.4" y="-3.8" width="37.4" height="1.9" rx="0.9" fill="#f2f4f3" opacity="0.93"/><rect x="-38.1" y="-0.6" width="18.4" height="2.4" rx="1" fill="#7d8381" opacity="0.70"/><rect x="-55.3" y="2.8" width="30.7" height="1" rx="0.5" fill="#9aa09e" opacity="0.56"/></g><g transform="translate(508.6,488.4) rotate(127)"><rect x="-48.8" y="-4.8" width="48.8" height="9.6" rx="2.5" fill="#050606"/><rect x="-45.8" y="-3.5" width="33.4" height="1.9" rx="0.9" fill="#f2f4f3" opacity="0.61"/><rect x="-30.3" y="-0.6" width="14.7" height="2.4" rx="1" fill="#7d8381" opacity="0.46"/><rect x="-44.0" y="2.5" width="24.4" height="1" rx="0.5" fill="#9aa09e" opacity="0.37"/></g><g transform="translate(514.7,496.4) rotate(137)"><rect x="-58.1" y="-4.9" width="58.1" height="9.8" rx="2.5" fill="#050606"/><rect x="-55.1" y="-3.6" width="34.5" height="1.9" rx="0.9" fill="#f2f4f3" opacity="0.89"/><rect x="-36.0" y="-0.6" width="17.4" height="2.4" rx="1" fill="#7d8381" opacity="0.67"/><rect x="-52.2" y="2.6" width="29.0" height="1" rx="0.5" fill="#9aa09e" opacity="0.54"/></g><g transform="translate(548.3,537.0) rotate(131)"><rect x="-59.9" y="-5.4" width="59.9" height="10.8" rx="2.5" fill="#050606"/><rect x="-56.9" y="-4.1" width="37.8" height="1.9" rx="0.9" fill="#f2f4f3" opacity="0.82"/><rect x="-37.2" y="-0.6" width="18.0" height="2.4" rx="1" fill="#7d8381" opacity="0.61"/><rect x="-53.9" y="3.1" width="30.0" height="1" rx="0.5" fill="#9aa09e" opacity="0.49"/></g><g transform="translate(521.9,506.2) rotate(133)"><rect x="-50.2" y="-5.4" width="50.2" height="10.7" rx="2.5" fill="#050606"/><rect x="-47.2" y="-4.1" width="33.9" height="1.9" rx="0.9" fill="#f2f4f3" opacity="0.62"/><rect x="-31.2" y="-0.6" width="15.1" height="2.4" rx="1" fill="#7d8381" opacity="0.47"/><rect x="-45.2" y="3.1" width="25.1" height="1" rx="0.5" fill="#9aa09e" opacity="0.37"/></g><g transform="translate(580.7,577.7) rotate(126)"><rect x="-47.0" y="-5.1" width="47.0" height="10.3" rx="2.5" fill="#050606"/><rect x="-44.0" y="-3.8" width="33.0" height="1.9" rx="0.9" fill="#f2f4f3" opacity="0.45"/><rect x="-29.1" y="-0.6" width="14.1" height="2.4" rx="1" fill="#7d8381" opacity="0.34"/><rect x="-42.3" y="2.8" width="23.5" height="1" rx="0.5" fill="#9aa09e" opacity="0.27"/></g><g transform="translate(600.3,601.6) rotate(125)"><rect x="-58.8" y="-5.3" width="58.8" height="10.6" rx="2.5" fill="#050606"/><rect x="-55.8" y="-4.0" width="38.5" height="1.9" rx="0.9" fill="#f2f4f3" opacity="0.49"/><rect x="-36.5" y="-0.6" width="17.6" height="2.4" rx="1" fill="#7d8381" opacity="0.37"/><rect x="-52.9" y="3.0" width="29.4" height="1" rx="0.5" fill="#9aa09e" opacity="0.29"/></g><g transform="translate(635.7,645.4) rotate(128)"><rect x="-61.2" y="-5.4" width="61.2" height="10.8" rx="2.5" fill="#050606"/><rect x="-58.2" y="-4.1" width="39.6" height="1.9" rx="0.9" fill="#f2f4f3" opacity="0.89"/><rect x="-38.0" y="-0.6" width="18.4" height="2.4" rx="1" fill="#7d8381" opacity="0.67"/><rect x="-55.1" y="3.1" width="30.6" height="1" rx="0.5" fill="#9aa09e" opacity="0.53"/></g><g transform="translate(624.5,635.7) rotate(124)"><rect x="-47.8" y="-5.3" width="47.8" height="10.7" rx="2.5" fill="#050606"/><rect x="-44.8" y="-4.0" width="23.1" height="1.9" rx="0.9" fill="#f2f4f3" opacity="0.49"/><rect x="-29.6" y="-0.6" width="14.3" height="2.4" rx="1" fill="#7d8381" opacity="0.37"/><rect x="-43.0" y="3.0" width="23.9" height="1" rx="0.5" fill="#9aa09e" opacity="0.29"/></g><g transform="translate(551.3,549.2) rotate(132)"><rect x="-44.1" y="-5.0" width="44.1" height="10.1" rx="2.5" fill="#050606"/><rect x="-41.1" y="-3.7" width="30.6" height="1.9" rx="0.9" fill="#f2f4f3" opacity="0.63"/><rect x="-27.3" y="-0.6" width="13.2" height="2.4" rx="1" fill="#7d8381" opacity="0.47"/><rect x="-39.7" y="2.7" width="22.0" height="1" rx="0.5" fill="#9aa09e" opacity="0.38"/></g><g transform="translate(610.3,620.3) rotate(124)"><rect x="-56.4" y="-5.4" width="56.4" height="10.9" rx="2.5" fill="#050606"/><rect x="-53.4" y="-4.1" width="31.5" height="1.9" rx="0.9" fill="#f2f4f3" opacity="0.88"/><rect x="-35.0" y="-0.6" width="16.9" height="2.4" rx="1" fill="#7d8381" opacity="0.66"/><rect x="-50.8" y="3.1" width="28.2" height="1" rx="0.5" fill="#9aa09e" opacity="0.53"/></g><g transform="translate(627.2,641.2) rotate(125)"><rect x="-46.0" y="-4.8" width="46.0" height="9.7" rx="2.5" fill="#050606"/><rect x="-43.0" y="-3.5" width="18.6" height="1.9" rx="0.9" fill="#f2f4f3" opacity="0.82"/><rect x="-28.5" y="-0.6" width="13.8" height="2.4" rx="1" fill="#7d8381" opacity="0.61"/><rect x="-41.4" y="2.5" width="23.0" height="1" rx="0.5" fill="#9aa09e" opacity="0.49"/></g><g transform="translate(515.8,512.9) rotate(126)"><rect x="-54.7" y="-5.2" width="54.7" height="10.4" rx="2.5" fill="#050606"/><rect x="-51.7" y="-3.9" width="38.0" height="1.9" rx="0.9" fill="#f2f4f3" opacity="0.46"/><rect x="-33.9" y="-0.6" width="16.4" height="2.4" rx="1" fill="#7d8381" opacity="0.35"/><rect x="-49.2" y="2.9" width="27.4" height="1" rx="0.5" fill="#9aa09e" opacity="0.28"/></g><g transform="translate(527.4,527.4) rotate(122)"><rect x="-50.7" y="-5.5" width="50.7" height="11.1" rx="2.5" fill="#050606"/><rect x="-47.7" y="-4.2" width="21.4" height="1.9" rx="0.9" fill="#f2f4f3" opacity="0.54"/><rect x="-31.5" y="-0.6" width="15.2" height="2.4" rx="1" fill="#7d8381" opacity="0.41"/><rect x="-45.7" y="3.2" width="25.4" height="1" rx="0.5" fill="#9aa09e" opacity="0.33"/></g><g transform="translate(597.6,611.4) rotate(127)"><rect x="-48.7" y="-5.6" width="48.7" height="11.2" rx="2.5" fill="#050606"/><rect x="-45.7" y="-4.3" width="19.9" height="1.9" rx="0.9" fill="#f2f4f3" opacity="0.61"/><rect x="-30.2" y="-0.6" width="14.6" height="2.4" rx="1" fill="#7d8381" opacity="0.46"/><rect x="-43.9" y="3.3" width="24.4" height="1" rx="0.5" fill="#9aa09e" opacity="0.37"/></g><g transform="translate(631.4,653.9) rotate(130)"><rect x="-42.5" y="-5.4" width="42.5" height="10.8" rx="2.5" fill="#050606"/><rect x="-39.5" y="-4.1" width="30.5" height="1.9" rx="0.9" fill="#f2f4f3" opacity="0.84"/><rect x="-26.3" y="-0.6" width="12.7" height="2.4" rx="1" fill="#7d8381" opacity="0.63"/><rect x="-38.2" y="3.1" width="21.2" height="1" rx="0.5" fill="#9aa09e" opacity="0.50"/></g><g transform="translate(624.0,646.1) rotate(118)"><rect x="-42.3" y="-5.7" width="42.3" height="11.4" rx="2.5" fill="#050606"/><rect x="-39.3" y="-4.4" width="31.2" height="1.9" rx="0.9" fill="#f2f4f3" opacity="0.91"/><rect x="-26.2" y="-0.6" width="12.7" height="2.4" rx="1" fill="#7d8381" opacity="0.68"/><rect x="-38.1" y="3.4" width="21.1" height="1" rx="0.5" fill="#9aa09e" opacity="0.54"/></g><g transform="translate(510.6,513.3) rotate(126)"><rect x="-46.7" y="-5.6" width="46.7" height="11.3" rx="2.5" fill="#050606"/><rect x="-43.7" y="-4.3" width="33.5" height="1.9" rx="0.9" fill="#f2f4f3" opacity="0.63"/><rect x="-29.0" y="-0.6" width="14.0" height="2.4" rx="1" fill="#7d8381" opacity="0.47"/><rect x="-42.0" y="3.3" width="23.4" height="1" rx="0.5" fill="#9aa09e" opacity="0.38"/></g><g transform="translate(611.4,634.3) rotate(125)"><rect x="-43.8" y="-5.2" width="43.8" height="10.3" rx="2.5" fill="#050606"/><rect x="-40.8" y="-3.9" width="24.8" height="1.9" rx="0.9" fill="#f2f4f3" opacity="0.68"/><rect x="-27.2" y="-0.6" width="13.1" height="2.4" rx="1" fill="#7d8381" opacity="0.51"/><rect x="-39.4" y="2.9" width="21.9" height="1" rx="0.5" fill="#9aa09e" opacity="0.41"/></g><g transform="translate(542.7,554.9) rotate(127)"><rect x="-60.5" y="-5.5" width="60.5" height="11.1" rx="2.5" fill="#050606"/><rect x="-57.5" y="-4.2" width="28.3" height="1.9" rx="0.9" fill="#f2f4f3" opacity="0.57"/><rect x="-37.5" y="-0.6" width="18.2" height="2.4" rx="1" fill="#7d8381" opacity="0.43"/><rect x="-54.5" y="3.2" width="30.3" height="1" rx="0.5" fill="#9aa09e" opacity="0.34"/></g><g transform="translate(545.1,562.5) rotate(126)"><rect x="-59.0" y="-5.3" width="59.0" height="10.6" rx="2.5" fill="#050606"/><rect x="-56.0" y="-4.0" width="41.3" height="1.9" rx="0.9" fill="#f2f4f3" opacity="0.76"/><rect x="-36.6" y="-0.6" width="17.7" height="2.4" rx="1" fill="#7d8381" opacity="0.57"/><rect x="-53.1" y="3.0" width="29.5" height="1" rx="0.5" fill="#9aa09e" opacity="0.46"/></g><g transform="translate(524.7,540.2) rotate(128)"><rect x="-60.3" y="-5.6" width="60.3" height="11.2" rx="2.5" fill="#050606"/><rect x="-57.3" y="-4.3" width="25.2" height="1.9" rx="0.9" fill="#f2f4f3" opacity="0.76"/><rect x="-37.4" y="-0.6" width="18.1" height="2.4" rx="1" fill="#7d8381" opacity="0.57"/><rect x="-54.3" y="3.3" width="30.2" height="1" rx="0.5" fill="#9aa09e" opacity="0.46"/></g><g transform="translate(574.7,602.0) rotate(120)"><rect x="-57.0" y="-5.7" width="57.0" height="11.4" rx="2.5" fill="#050606"/><rect x="-54.0" y="-4.4" width="37.5" height="1.9" rx="0.9" fill="#f2f4f3" opacity="0.92"/><rect x="-35.4" y="-0.6" width="17.1" height="2.4" rx="1" fill="#7d8381" opacity="0.69"/><rect x="-51.3" y="3.4" width="28.5" height="1" rx="0.5" fill="#9aa09e" opacity="0.55"/></g><g transform="translate(558.7,590.5) rotate(122)"><rect x="-51.6" y="-5.0" width="51.6" height="10.0" rx="2.5" fill="#050606"/><rect x="-48.6" y="-3.7" width="22.2" height="1.9" rx="0.9" fill="#f2f4f3" opacity="0.81"/><rect x="-32.0" y="-0.6" width="15.5" height="2.4" rx="1" fill="#7d8381" opacity="0.61"/><rect x="-46.4" y="2.7" width="25.8" height="1" rx="0.5" fill="#9aa09e" opacity="0.48"/></g><g transform="translate(589.4,629.1) rotate(126)"><rect x="-59.0" y="-5.1" width="59.0" height="10.1" rx="2.5" fill="#050606"/><rect x="-56.0" y="-3.8" width="42.0" height="1.9" rx="0.9" fill="#f2f4f3" opacity="0.88"/><rect x="-36.6" y="-0.6" width="17.7" height="2.4" rx="1" fill="#7d8381" opacity="0.66"/><rect x="-53.1" y="2.8" width="29.5" height="1" rx="0.5" fill="#9aa09e" opacity="0.53"/></g><g transform="translate(538.9,569.0) rotate(134)"><rect x="-44.5" y="-5.7" width="44.5" height="11.4" rx="2.5" fill="#050606"/><rect x="-41.5" y="-4.4" width="29.4" height="1.9" rx="0.9" fill="#f2f4f3" opacity="0.66"/><rect x="-27.6" y="-0.6" width="13.4" height="2.4" rx="1" fill="#7d8381" opacity="0.50"/><rect x="-40.1" y="3.4" width="22.3" height="1" rx="0.5" fill="#9aa09e" opacity="0.40"/></g><g transform="translate(507.3,533.1) rotate(125)"><rect x="-52.2" y="-5.0" width="52.2" height="10.1" rx="2.5" fill="#050606"/><rect x="-49.2" y="-3.7" width="35.4" height="1.9" rx="0.9" fill="#f2f4f3" opacity="0.88"/><rect x="-32.4" y="-0.6" width="15.7" height="2.4" rx="1" fill="#7d8381" opacity="0.66"/><rect x="-47.0" y="2.7" width="26.1" height="1" rx="0.5" fill="#9aa09e" opacity="0.53"/></g><g transform="translate(567.7,606.1) rotate(122)"><rect x="-48.1" y="-5.4" width="48.1" height="10.9" rx="2.5" fill="#050606"/><rect x="-45.1" y="-4.1" width="19.3" height="1.9" rx="0.9" fill="#f2f4f3" opacity="0.62"/><rect x="-29.8" y="-0.6" width="14.4" height="2.4" rx="1" fill="#7d8381" opacity="0.46"/><rect x="-43.3" y="3.1" width="24.1" height="1" rx="0.5" fill="#9aa09e" opacity="0.37"/></g><g transform="translate(576.1,618.2) rotate(129)"><rect x="-46.3" y="-4.8" width="46.3" height="9.6" rx="2.5" fill="#050606"/><rect x="-43.3" y="-3.5" width="22.3" height="1.9" rx="0.9" fill="#f2f4f3" opacity="0.65"/><rect x="-28.7" y="-0.6" width="13.9" height="2.4" rx="1" fill="#7d8381" opacity="0.49"/><rect x="-41.7" y="2.5" width="23.2" height="1" rx="0.5" fill="#9aa09e" opacity="0.39"/></g><g transform="translate(561.9,601.8) rotate(119)"><rect x="-44.8" y="-5.7" width="44.8" height="11.3" rx="2.5" fill="#050606"/><rect x="-41.8" y="-4.4" width="22.5" height="1.9" rx="0.9" fill="#f2f4f3" opacity="0.94"/><rect x="-27.8" y="-0.6" width="13.4" height="2.4" rx="1" fill="#7d8381" opacity="0.71"/><rect x="-40.3" y="3.4" width="22.4" height="1" rx="0.5" fill="#9aa09e" opacity="0.56"/></g><g transform="translate(568.7,612.2) rotate(130)"><rect x="-58.0" y="-4.9" width="58.0" height="9.7" rx="2.5" fill="#050606"/><rect x="-55.0" y="-3.6" width="40.9" height="1.9" rx="0.9" fill="#f2f4f3" opacity="0.59"/><rect x="-35.9" y="-0.6" width="17.4" height="2.4" rx="1" fill="#7d8381" opacity="0.44"/><rect x="-52.2" y="2.6" width="29.0" height="1" rx="0.5" fill="#9aa09e" opacity="0.35"/></g><g transform="translate(499.7,530.0) rotate(138)"><rect x="-46.1" y="-5.1" width="46.1" height="10.2" rx="2.5" fill="#050606"/><rect x="-43.1" y="-3.8" width="27.7" height="1.9" rx="0.9" fill="#f2f4f3" opacity="0.66"/><rect x="-28.6" y="-0.6" width="13.8" height="2.4" rx="1" fill="#7d8381" opacity="0.50"/><rect x="-41.5" y="2.8" width="23.0" height="1" rx="0.5" fill="#9aa09e" opacity="0.40"/></g><g transform="translate(515.2,549.6) rotate(125)"><rect x="-45.6" y="-5.1" width="45.6" height="10.3" rx="2.5" fill="#050606"/><rect x="-42.6" y="-3.8" width="32.0" height="1.9" rx="0.9" fill="#f2f4f3" opacity="0.58"/><rect x="-28.3" y="-0.6" width="13.7" height="2.4" rx="1" fill="#7d8381" opacity="0.44"/><rect x="-41.0" y="2.8" width="22.8" height="1" rx="0.5" fill="#9aa09e" opacity="0.35"/></g><g transform="translate(494.9,525.6) rotate(131)"><rect x="-54.8" y="-5.0" width="54.8" height="10.1" rx="2.5" fill="#050606"/><rect x="-51.8" y="-3.7" width="35.4" height="1.9" rx="0.9" fill="#f2f4f3" opacity="0.61"/><rect x="-34.0" y="-0.6" width="16.4" height="2.4" rx="1" fill="#7d8381" opacity="0.46"/><rect x="-49.3" y="2.7" width="27.4" height="1" rx="0.5" fill="#9aa09e" opacity="0.37"/></g><g transform="translate(555.4,598.3) rotate(122)"><rect x="-47.2" y="-4.8" width="47.2" height="9.6" rx="2.5" fill="#050606"/><rect x="-44.2" y="-3.5" width="34.4" height="1.9" rx="0.9" fill="#f2f4f3" opacity="0.56"/><rect x="-29.2" y="-0.6" width="14.2" height="2.4" rx="1" fill="#7d8381" opacity="0.42"/><rect x="-42.5" y="2.5" width="23.6" height="1" rx="0.5" fill="#9aa09e" opacity="0.34"/></g><g transform="translate(521.7,558.2) rotate(131)"><rect x="-44.0" y="-5.5" width="44.0" height="11.0" rx="2.5" fill="#050606"/><rect x="-41.0" y="-4.2" width="28.2" height="1.9" rx="0.9" fill="#f2f4f3" opacity="0.52"/><rect x="-27.3" y="-0.6" width="13.2" height="2.4" rx="1" fill="#7d8381" opacity="0.39"/><rect x="-39.6" y="3.2" width="22.0" height="1" rx="0.5" fill="#9aa09e" opacity="0.31"/></g><g transform="translate(573.8,621.6) rotate(126)"><rect x="-54.9" y="-5.1" width="54.9" height="10.2" rx="2.5" fill="#050606"/><rect x="-51.9" y="-3.8" width="32.4" height="1.9" rx="0.9" fill="#f2f4f3" opacity="0.77"/><rect x="-34.1" y="-0.6" width="16.5" height="2.4" rx="1" fill="#7d8381" opacity="0.58"/><rect x="-49.4" y="2.8" width="27.5" height="1" rx="0.5" fill="#9aa09e" opacity="0.46"/></g><g transform="translate(557.9,603.1) rotate(134)"><rect x="-45.2" y="-5.4" width="45.2" height="10.7" rx="2.5" fill="#050606"/><rect x="-42.2" y="-4.1" width="29.2" height="1.9" rx="0.9" fill="#f2f4f3" opacity="0.73"/><rect x="-28.0" y="-0.6" width="13.6" height="2.4" rx="1" fill="#7d8381" opacity="0.55"/><rect x="-40.7" y="3.1" width="22.6" height="1" rx="0.5" fill="#9aa09e" opacity="0.44"/></g><g transform="translate(538.4,582.3) rotate(132)"><rect x="-60.6" y="-5.2" width="60.6" height="10.3" rx="2.5" fill="#050606"/><rect x="-57.6" y="-3.9" width="37.3" height="1.9" rx="0.9" fill="#f2f4f3" opacity="0.48"/><rect x="-37.6" y="-0.6" width="18.2" height="2.4" rx="1" fill="#7d8381" opacity="0.36"/><rect x="-54.5" y="2.9" width="30.3" height="1" rx="0.5" fill="#9aa09e" opacity="0.29"/></g><g transform="translate(526.1,570.0) rotate(122)"><rect x="-61.9" y="-4.9" width="61.9" height="9.8" rx="2.5" fill="#050606"/><rect x="-58.9" y="-3.6" width="44.0" height="1.9" rx="0.9" fill="#f2f4f3" opacity="0.45"/><rect x="-38.4" y="-0.6" width="18.6" height="2.4" rx="1" fill="#7d8381" opacity="0.34"/><rect x="-55.7" y="2.6" width="31.0" height="1" rx="0.5" fill="#9aa09e" opacity="0.27"/></g><g transform="translate(478.0,515.7) rotate(135)"><rect x="-51.8" y="-5.6" width="51.8" height="11.2" rx="2.5" fill="#050606"/><rect x="-48.8" y="-4.3" width="25.1" height="1.9" rx="0.9" fill="#f2f4f3" opacity="0.81"/><rect x="-32.1" y="-0.6" width="15.6" height="2.4" rx="1" fill="#7d8381" opacity="0.61"/><rect x="-46.7" y="3.3" width="25.9" height="1" rx="0.5" fill="#9aa09e" opacity="0.49"/></g><g transform="translate(511.5,558.6) rotate(126)"><rect x="-42.4" y="-5.6" width="42.4" height="11.1" rx="2.5" fill="#050606"/><rect x="-39.4" y="-4.3" width="18.4" height="1.9" rx="0.9" fill="#f2f4f3" opacity="0.52"/><rect x="-26.3" y="-0.6" width="12.7" height="2.4" rx="1" fill="#7d8381" opacity="0.39"/><rect x="-38.2" y="3.3" width="21.2" height="1" rx="0.5" fill="#9aa09e" opacity="0.31"/></g><g transform="translate(520.4,572.6) rotate(126)"><rect x="-46.1" y="-5.5" width="46.1" height="11.1" rx="2.5" fill="#050606"/><rect x="-43.1" y="-4.2" width="28.9" height="1.9" rx="0.9" fill="#f2f4f3" opacity="0.67"/><rect x="-28.6" y="-0.6" width="13.8" height="2.4" rx="1" fill="#7d8381" opacity="0.50"/><rect x="-41.5" y="3.2" width="23.1" height="1" rx="0.5" fill="#9aa09e" opacity="0.40"/></g><g transform="translate(483.5,529.5) rotate(132)"><rect x="-61.8" y="-5.1" width="61.8" height="10.3" rx="2.5" fill="#050606"/><rect x="-58.8" y="-3.8" width="34.6" height="1.9" rx="0.9" fill="#f2f4f3" opacity="0.58"/><rect x="-38.3" y="-0.6" width="18.5" height="2.4" rx="1" fill="#7d8381" opacity="0.44"/><rect x="-55.6" y="2.8" width="30.9" height="1" rx="0.5" fill="#9aa09e" opacity="0.35"/></g><g transform="translate(521.6,576.2) rotate(130)"><rect x="-55.4" y="-5.3" width="55.4" height="10.7" rx="2.5" fill="#050606"/><rect x="-52.4" y="-4.0" width="30.7" height="1.9" rx="0.9" fill="#f2f4f3" opacity="0.85"/><rect x="-34.4" y="-0.6" width="16.6" height="2.4" rx="1" fill="#7d8381" opacity="0.64"/><rect x="-49.9" y="3.0" width="27.7" height="1" rx="0.5" fill="#9aa09e" opacity="0.51"/></g><g transform="translate(458.4,507.2) rotate(140)"><rect x="-49.2" y="-5.5" width="49.2" height="11.1" rx="2.5" fill="#050606"/><rect x="-46.2" y="-4.2" width="22.6" height="1.9" rx="0.9" fill="#f2f4f3" opacity="0.70"/><rect x="-30.5" y="-0.6" width="14.8" height="2.4" rx="1" fill="#7d8381" opacity="0.52"/><rect x="-44.3" y="3.2" width="24.6" height="1" rx="0.5" fill="#9aa09e" opacity="0.42"/></g><g transform="translate(501.6,559.4) rotate(129)"><rect x="-45.3" y="-5.5" width="45.3" height="11.1" rx="2.5" fill="#050606"/><rect x="-42.3" y="-4.2" width="28.9" height="1.9" rx="0.9" fill="#f2f4f3" opacity="0.72"/><rect x="-28.1" y="-0.6" width="13.6" height="2.4" rx="1" fill="#7d8381" opacity="0.54"/><rect x="-40.7" y="3.2" width="22.6" height="1" rx="0.5" fill="#9aa09e" opacity="0.43"/></g><g transform="translate(452.4,503.8) rotate(127)"><rect x="-44.1" y="-5.6" width="44.1" height="11.1" rx="2.5" fill="#050606"/><rect x="-41.1" y="-4.3" width="21.2" height="1.9" rx="0.9" fill="#f2f4f3" opacity="0.66"/><rect x="-27.4" y="-0.6" width="13.2" height="2.4" rx="1" fill="#7d8381" opacity="0.49"/><rect x="-39.7" y="3.3" width="22.1" height="1" rx="0.5" fill="#9aa09e" opacity="0.40"/></g><g transform="translate(517.8,582.4) rotate(132)"><rect x="-44.1" y="-5.1" width="44.1" height="10.2" rx="2.5" fill="#050606"/><rect x="-41.1" y="-3.8" width="25.3" height="1.9" rx="0.9" fill="#f2f4f3" opacity="0.59"/><rect x="-27.3" y="-0.6" width="13.2" height="2.4" rx="1" fill="#7d8381" opacity="0.44"/><rect x="-39.7" y="2.8" width="22.1" height="1" rx="0.5" fill="#9aa09e" opacity="0.35"/></g><g transform="translate(550.5,623.6) rotate(121)"><rect x="-49.6" y="-5.1" width="49.6" height="10.2" rx="2.5" fill="#050606"/><rect x="-46.6" y="-3.8" width="21.2" height="1.9" rx="0.9" fill="#f2f4f3" opacity="0.82"/><rect x="-30.8" y="-0.6" width="14.9" height="2.4" rx="1" fill="#7d8381" opacity="0.62"/><rect x="-44.6" y="2.8" width="24.8" height="1" rx="0.5" fill="#9aa09e" opacity="0.49"/></g><g transform="translate(527.7,597.6) rotate(129)"><rect x="-52.1" y="-4.8" width="52.1" height="9.6" rx="2.5" fill="#050606"/><rect x="-49.1" y="-3.5" width="35.8" height="1.9" rx="0.9" fill="#f2f4f3" opacity="0.93"/><rect x="-32.3" y="-0.6" width="15.6" height="2.4" rx="1" fill="#7d8381" opacity="0.70"/><rect x="-46.8" y="2.5" width="26.0" height="1" rx="0.5" fill="#9aa09e" opacity="0.56"/></g><g transform="translate(505.0,571.9) rotate(135)"><rect x="-47.4" y="-5.3" width="47.4" height="10.5" rx="2.5" fill="#050606"/><rect x="-44.4" y="-4.0" width="35.2" height="1.9" rx="0.9" fill="#f2f4f3" opacity="0.60"/><rect x="-29.4" y="-0.6" width="14.2" height="2.4" rx="1" fill="#7d8381" opacity="0.45"/><rect x="-42.7" y="3.0" width="23.7" height="1" rx="0.5" fill="#9aa09e" opacity="0.36"/></g><g transform="translate(511.5,580.7) rotate(123)"><rect x="-52.0" y="-5.2" width="52.0" height="10.4" rx="2.5" fill="#050606"/><rect x="-49.0" y="-3.9" width="28.0" height="1.9" rx="0.9" fill="#f2f4f3" opacity="0.93"/><rect x="-32.2" y="-0.6" width="15.6" height="2.4" rx="1" fill="#7d8381" opacity="0.70"/><rect x="-46.8" y="2.9" width="26.0" height="1" rx="0.5" fill="#9aa09e" opacity="0.56"/></g><g transform="translate(456.1,515.1) rotate(140)"><rect x="-45.9" y="-5.4" width="45.9" height="10.7" rx="2.5" fill="#050606"/><rect x="-42.9" y="-4.1" width="30.5" height="1.9" rx="0.9" fill="#f2f4f3" opacity="0.91"/><rect x="-28.5" y="-0.6" width="13.8" height="2.4" rx="1" fill="#7d8381" opacity="0.68"/><rect x="-41.3" y="3.1" width="22.9" height="1" rx="0.5" fill="#9aa09e" opacity="0.54"/></g><g transform="translate(452.7,522.2) rotate(138)"><rect x="-50.0" y="-5.3" width="50.0" height="10.6" rx="2.5" fill="#050606"/><rect x="-47.0" y="-4.0" width="37.5" height="1.9" rx="0.9" fill="#f2f4f3" opacity="0.50"/><rect x="-31.0" y="-0.6" width="15.0" height="2.4" rx="1" fill="#7d8381" opacity="0.38"/><rect x="-45.0" y="3.0" width="25.0" height="1" rx="0.5" fill="#9aa09e" opacity="0.30"/></g><g transform="translate(512.0,595.3) rotate(129)"><rect x="-52.7" y="-5.0" width="52.7" height="10.0" rx="2.5" fill="#050606"/><rect x="-49.7" y="-3.7" width="38.0" height="1.9" rx="0.9" fill="#f2f4f3" opacity="0.74"/><rect x="-32.7" y="-0.6" width="15.8" height="2.4" rx="1" fill="#7d8381" opacity="0.55"/><rect x="-47.4" y="2.7" width="26.4" height="1" rx="0.5" fill="#9aa09e" opacity="0.44"/></g><g transform="translate(449.7,526.3) rotate(130)"><rect x="-49.2" y="-5.2" width="49.2" height="10.5" rx="2.5" fill="#050606"/><rect x="-46.2" y="-3.9" width="23.2" height="1.9" rx="0.9" fill="#f2f4f3" opacity="0.46"/><rect x="-30.5" y="-0.6" width="14.7" height="2.4" rx="1" fill="#7d8381" opacity="0.35"/><rect x="-44.2" y="2.9" width="24.6" height="1" rx="0.5" fill="#9aa09e" opacity="0.28"/></g><g transform="translate(486.4,572.7) rotate(127)"><rect x="-45.8" y="-5.5" width="45.8" height="11.0" rx="2.5" fill="#050606"/><rect x="-42.8" y="-4.2" width="32.3" height="1.9" rx="0.9" fill="#f2f4f3" opacity="0.52"/><rect x="-28.4" y="-0.6" width="13.7" height="2.4" rx="1" fill="#7d8381" opacity="0.39"/><rect x="-41.2" y="3.2" width="22.9" height="1" rx="0.5" fill="#9aa09e" opacity="0.31"/></g><g transform="translate(493.5,584.4) rotate(129)"><rect x="-56.0" y="-5.4" width="56.0" height="10.9" rx="2.5" fill="#050606"/><rect x="-53.0" y="-4.1" width="26.6" height="1.9" rx="0.9" fill="#f2f4f3" opacity="0.91"/><rect x="-34.7" y="-0.6" width="16.8" height="2.4" rx="1" fill="#7d8381" opacity="0.68"/><rect x="-50.4" y="3.1" width="28.0" height="1" rx="0.5" fill="#9aa09e" opacity="0.55"/></g><g transform="translate(498.7,594.7) rotate(126)"><rect x="-48.9" y="-5.4" width="48.9" height="10.7" rx="2.5" fill="#050606"/><rect x="-45.9" y="-4.1" width="25.6" height="1.9" rx="0.9" fill="#f2f4f3" opacity="0.87"/><rect x="-30.3" y="-0.6" width="14.7" height="2.4" rx="1" fill="#7d8381" opacity="0.65"/><rect x="-44.0" y="3.1" width="24.4" height="1" rx="0.5" fill="#9aa09e" opacity="0.52"/></g><g transform="translate(448.6,549.9) rotate(135)"><rect x="-51.6" y="-5.1" width="51.6" height="10.2" rx="2.5" fill="#050606"/><rect x="-48.6" y="-3.8" width="29.0" height="1.9" rx="0.9" fill="#f2f4f3" opacity="0.50"/><rect x="-32.0" y="-0.6" width="15.5" height="2.4" rx="1" fill="#7d8381" opacity="0.38"/><rect x="-46.5" y="2.8" width="25.8" height="1" rx="0.5" fill="#9aa09e" opacity="0.30"/></g><g transform="translate(448.0,550.7) rotate(139)"><rect x="-58.5" y="-4.8" width="58.5" height="9.7" rx="2.5" fill="#050606"/><rect x="-55.5" y="-3.5" width="40.8" height="1.9" rx="0.9" fill="#f2f4f3" opacity="0.54"/><rect x="-36.3" y="-0.6" width="17.5" height="2.4" rx="1" fill="#7d8381" opacity="0.41"/><rect x="-52.6" y="2.5" width="29.2" height="1" rx="0.5" fill="#9aa09e" opacity="0.33"/></g>
<g transform="translate(655.9,559.0) rotate(130)"><rect x="-11" y="-5.5" width="9" height="11.1" fill="#050606"/><rect x="-9" y="-6.1" width="2" height="12.3" fill="#aab0ae" opacity="0.8"/><ellipse cx="-1" cy="0" rx="4.8" ry="5.5" fill="#d0d4d2"/><ellipse cx="-0.2" cy="0.3" rx="3.4" ry="3.9" fill="#1c1f1e"/><circle cx="0.8" cy="-1.4" r="1.1" fill="#f4f6f5" opacity="0.9"/></g><g transform="translate(663.1,571.1) rotate(129)"><rect x="-11" y="-5.2" width="9" height="10.4" fill="#050606"/><rect x="-9" y="-5.8" width="2" height="11.6" fill="#aab0ae" opacity="0.8"/><ellipse cx="-1" cy="0" rx="4.8" ry="5.2" fill="#8e9492"/><ellipse cx="-0.2" cy="0.3" rx="3.4" ry="3.6" fill="#1c1f1e"/><circle cx="0.8" cy="-1.4" r="1.1" fill="#f4f6f5" opacity="0.9"/></g><g transform="translate(649.4,558.4) rotate(131)"><rect x="-11" y="-5.2" width="9" height="10.4" fill="#050606"/><rect x="-9" y="-5.8" width="2" height="11.6" fill="#aab0ae" opacity="0.8"/><ellipse cx="-1" cy="0" rx="4.8" ry="5.2" fill="#a9aeac"/><ellipse cx="-0.2" cy="0.3" rx="3.4" ry="3.6" fill="#1c1f1e"/><circle cx="0.8" cy="-1.4" r="1.1" fill="#f4f6f5" opacity="0.9"/></g><g transform="translate(599.2,514.4) rotate(130)"><rect x="-11" y="-5.3" width="9" height="10.6" fill="#050606"/><rect x="-9" y="-5.9" width="2" height="11.8" fill="#aab0ae" opacity="0.8"/><ellipse cx="-1" cy="0" rx="4.8" ry="5.3" fill="#8e9492"/><ellipse cx="-0.2" cy="0.3" rx="3.4" ry="3.7" fill="#1c1f1e"/><circle cx="0.8" cy="-1.4" r="1.1" fill="#f4f6f5" opacity="0.9"/></g><g transform="translate(559.2,467.3) rotate(126)"><rect x="-11" y="-5.5" width="9" height="10.9" fill="#050606"/><rect x="-9" y="-6.1" width="2" height="12.1" fill="#aab0ae" opacity="0.8"/><ellipse cx="-1" cy="0" rx="4.8" ry="5.5" fill="#d0d4d2"/><ellipse cx="-0.2" cy="0.3" rx="3.4" ry="3.9" fill="#1c1f1e"/><circle cx="0.8" cy="-1.4" r="1.1" fill="#f4f6f5" opacity="0.9"/></g><g transform="translate(585.2,500.6) rotate(125)"><rect x="-11" y="-5.1" width="9" height="10.3" fill="#050606"/><rect x="-9" y="-5.7" width="2" height="11.5" fill="#aab0ae" opacity="0.8"/><ellipse cx="-1" cy="0" rx="4.8" ry="5.1" fill="#bcc1bf"/><ellipse cx="-0.2" cy="0.3" rx="3.4" ry="3.5" fill="#1c1f1e"/><circle cx="0.8" cy="-1.4" r="1.1" fill="#f4f6f5" opacity="0.9"/></g><g transform="translate(630.8,557.5) rotate(118)"><rect x="-11" y="-5.3" width="9" height="10.6" fill="#050606"/><rect x="-9" y="-5.9" width="2" height="11.8" fill="#aab0ae" opacity="0.8"/><ellipse cx="-1" cy="0" rx="4.8" ry="5.3" fill="#bcc1bf"/><ellipse cx="-0.2" cy="0.3" rx="3.4" ry="3.7" fill="#1c1f1e"/><circle cx="0.8" cy="-1.4" r="1.1" fill="#f4f6f5" opacity="0.9"/></g><g transform="translate(661.8,596.3) rotate(118)"><rect x="-11" y="-5.3" width="9" height="10.6" fill="#050606"/><rect x="-9" y="-5.9" width="2" height="11.8" fill="#aab0ae" opacity="0.8"/><ellipse cx="-1" cy="0" rx="4.8" ry="5.3" fill="#bcc1bf"/><ellipse cx="-0.2" cy="0.3" rx="3.4" ry="3.7" fill="#1c1f1e"/><circle cx="0.8" cy="-1.4" r="1.1" fill="#f4f6f5" opacity="0.9"/></g><g transform="translate(668.2,605.6) rotate(122)"><rect x="-11" y="-5.3" width="9" height="10.6" fill="#050606"/><rect x="-9" y="-5.9" width="2" height="11.8" fill="#aab0ae" opacity="0.8"/><ellipse cx="-1" cy="0" rx="4.8" ry="5.3" fill="#a9aeac"/><ellipse cx="-0.2" cy="0.3" rx="3.4" ry="3.7" fill="#1c1f1e"/><circle cx="0.8" cy="-1.4" r="1.1" fill="#f4f6f5" opacity="0.9"/></g><g transform="translate(612.2,542.6) rotate(120)"><rect x="-11" y="-5.0" width="9" height="10.0" fill="#050606"/><rect x="-9" y="-5.6" width="2" height="11.2" fill="#aab0ae" opacity="0.8"/><ellipse cx="-1" cy="0" rx="4.8" ry="5.0" fill="#7b8280"/><ellipse cx="-0.2" cy="0.3" rx="3.4" ry="3.4" fill="#1c1f1e"/><circle cx="0.8" cy="-1.4" r="1.1" fill="#f4f6f5" opacity="0.9"/></g><g transform="translate(656.9,596.4) rotate(115)"><rect x="-11" y="-4.9" width="9" height="9.7" fill="#050606"/><rect x="-9" y="-5.5" width="2" height="10.9" fill="#aab0ae" opacity="0.8"/><ellipse cx="-1" cy="0" rx="4.8" ry="4.9" fill="#7b8280"/><ellipse cx="-0.2" cy="0.3" rx="3.4" ry="3.3" fill="#1c1f1e"/><circle cx="0.8" cy="-1.4" r="1.1" fill="#f4f6f5" opacity="0.9"/></g><g transform="translate(554.6,476.0) rotate(136)"><rect x="-11" y="-5.2" width="9" height="10.4" fill="#050606"/><rect x="-9" y="-5.8" width="2" height="11.6" fill="#aab0ae" opacity="0.8"/><ellipse cx="-1" cy="0" rx="4.8" ry="5.2" fill="#a9aeac"/><ellipse cx="-0.2" cy="0.3" rx="3.4" ry="3.6" fill="#1c1f1e"/><circle cx="0.8" cy="-1.4" r="1.1" fill="#f4f6f5" opacity="0.9"/></g><g transform="translate(592.2,526.4) rotate(132)"><rect x="-11" y="-5.1" width="9" height="10.2" fill="#050606"/><rect x="-9" y="-5.7" width="2" height="11.4" fill="#aab0ae" opacity="0.8"/><ellipse cx="-1" cy="0" rx="4.8" ry="5.1" fill="#bcc1bf"/><ellipse cx="-0.2" cy="0.3" rx="3.4" ry="3.5" fill="#1c1f1e"/><circle cx="0.8" cy="-1.4" r="1.1" fill="#f4f6f5" opacity="0.9"/></g><g transform="translate(587.5,521.2) rotate(125)"><rect x="-11" y="-5.2" width="9" height="10.3" fill="#050606"/><rect x="-9" y="-5.8" width="2" height="11.5" fill="#aab0ae" opacity="0.8"/><ellipse cx="-1" cy="0" rx="4.8" ry="5.2" fill="#bcc1bf"/><ellipse cx="-0.2" cy="0.3" rx="3.4" ry="3.6" fill="#1c1f1e"/><circle cx="0.8" cy="-1.4" r="1.1" fill="#f4f6f5" opacity="0.9"/></g><g transform="translate(552.5,481.5) rotate(123)"><rect x="-11" y="-5.5" width="9" height="10.9" fill="#050606"/><rect x="-9" y="-6.1" width="2" height="12.1" fill="#aab0ae" opacity="0.8"/><ellipse cx="-1" cy="0" rx="4.8" ry="5.5" fill="#d0d4d2"/><ellipse cx="-0.2" cy="0.3" rx="3.4" ry="3.9" fill="#1c1f1e"/><circle cx="0.8" cy="-1.4" r="1.1" fill="#f4f6f5" opacity="0.9"/></g><g transform="translate(559.2,489.6) rotate(134)"><rect x="-11" y="-5.0" width="9" height="9.9" fill="#050606"/><rect x="-9" y="-5.6" width="2" height="11.1" fill="#aab0ae" opacity="0.8"/><ellipse cx="-1" cy="0" rx="4.8" ry="5.0" fill="#8e9492"/><ellipse cx="-0.2" cy="0.3" rx="3.4" ry="3.4" fill="#1c1f1e"/><circle cx="0.8" cy="-1.4" r="1.1" fill="#f4f6f5" opacity="0.9"/></g><g transform="translate(543.7,471.3) rotate(137)"><rect x="-11" y="-4.9" width="9" height="9.7" fill="#050606"/><rect x="-9" y="-5.5" width="2" height="10.9" fill="#aab0ae" opacity="0.8"/><ellipse cx="-1" cy="0" rx="4.8" ry="4.9" fill="#d0d4d2"/><ellipse cx="-0.2" cy="0.3" rx="3.4" ry="3.3" fill="#1c1f1e"/><circle cx="0.8" cy="-1.4" r="1.1" fill="#f4f6f5" opacity="0.9"/></g><g transform="translate(557.2,492.4) rotate(122)"><rect x="-11" y="-5.4" width="9" height="10.8" fill="#050606"/><rect x="-9" y="-6.0" width="2" height="12.0" fill="#aab0ae" opacity="0.8"/><ellipse cx="-1" cy="0" rx="4.8" ry="5.4" fill="#a9aeac"/><ellipse cx="-0.2" cy="0.3" rx="3.4" ry="3.8" fill="#1c1f1e"/><circle cx="0.8" cy="-1.4" r="1.1" fill="#f4f6f5" opacity="0.9"/></g><g transform="translate(536.0,467.4) rotate(137)"><rect x="-11" y="-5.3" width="9" height="10.6" fill="#050606"/><rect x="-9" y="-5.9" width="2" height="11.8" fill="#aab0ae" opacity="0.8"/><ellipse cx="-1" cy="0" rx="4.8" ry="5.3" fill="#d0d4d2"/><ellipse cx="-0.2" cy="0.3" rx="3.4" ry="3.7" fill="#1c1f1e"/><circle cx="0.8" cy="-1.4" r="1.1" fill="#f4f6f5" opacity="0.9"/></g><g transform="translate(610.8,557.3) rotate(124)"><rect x="-11" y="-5.3" width="9" height="10.7" fill="#050606"/><rect x="-9" y="-5.9" width="2" height="11.9" fill="#aab0ae" opacity="0.8"/><ellipse cx="-1" cy="0" rx="4.8" ry="5.3" fill="#7b8280"/><ellipse cx="-0.2" cy="0.3" rx="3.4" ry="3.7" fill="#1c1f1e"/><circle cx="0.8" cy="-1.4" r="1.1" fill="#f4f6f5" opacity="0.9"/></g><g transform="translate(600.4,546.6) rotate(124)"><rect x="-11" y="-5.2" width="9" height="10.4" fill="#050606"/><rect x="-9" y="-5.8" width="2" height="11.6" fill="#aab0ae" opacity="0.8"/><ellipse cx="-1" cy="0" rx="4.8" ry="5.2" fill="#8e9492"/><ellipse cx="-0.2" cy="0.3" rx="3.4" ry="3.6" fill="#1c1f1e"/><circle cx="0.8" cy="-1.4" r="1.1" fill="#f4f6f5" opacity="0.9"/></g><g transform="translate(618.9,568.7) rotate(120)"><rect x="-11" y="-5.0" width="9" height="10.0" fill="#050606"/><rect x="-9" y="-5.6" width="2" height="11.2" fill="#aab0ae" opacity="0.8"/><ellipse cx="-1" cy="0" rx="4.8" ry="5.0" fill="#8e9492"/><ellipse cx="-0.2" cy="0.3" rx="3.4" ry="3.4" fill="#1c1f1e"/><circle cx="0.8" cy="-1.4" r="1.1" fill="#f4f6f5" opacity="0.9"/></g><g transform="translate(657.3,616.2) rotate(114)"><rect x="-11" y="-4.9" width="9" height="9.8" fill="#050606"/><rect x="-9" y="-5.5" width="2" height="11.0" fill="#aab0ae" opacity="0.8"/><ellipse cx="-1" cy="0" rx="4.8" ry="4.9" fill="#bcc1bf"/><ellipse cx="-0.2" cy="0.3" rx="3.4" ry="3.3" fill="#1c1f1e"/><circle cx="0.8" cy="-1.4" r="1.1" fill="#f4f6f5" opacity="0.9"/></g><g transform="translate(647.4,607.6) rotate(127)"><rect x="-11" y="-5.1" width="9" height="10.1" fill="#050606"/><rect x="-9" y="-5.7" width="2" height="11.3" fill="#aab0ae" opacity="0.8"/><ellipse cx="-1" cy="0" rx="4.8" ry="5.1" fill="#8e9492"/><ellipse cx="-0.2" cy="0.3" rx="3.4" ry="3.5" fill="#1c1f1e"/><circle cx="0.8" cy="-1.4" r="1.1" fill="#f4f6f5" opacity="0.9"/></g><g transform="translate(545.5,489.1) rotate(132)"><rect x="-11" y="-5.3" width="9" height="10.7" fill="#050606"/><rect x="-9" y="-5.9" width="2" height="11.9" fill="#aab0ae" opacity="0.8"/><ellipse cx="-1" cy="0" rx="4.8" ry="5.3" fill="#8e9492"/><ellipse cx="-0.2" cy="0.3" rx="3.4" ry="3.7" fill="#1c1f1e"/><circle cx="0.8" cy="-1.4" r="1.1" fill="#f4f6f5" opacity="0.9"/></g><g transform="translate(530.8,472.3) rotate(132)"><rect x="-11" y="-5.3" width="9" height="10.6" fill="#050606"/><rect x="-9" y="-5.9" width="2" height="11.8" fill="#aab0ae" opacity="0.8"/><ellipse cx="-1" cy="0" rx="4.8" ry="5.3" fill="#7b8280"/><ellipse cx="-0.2" cy="0.3" rx="3.4" ry="3.7" fill="#1c1f1e"/><circle cx="0.8" cy="-1.4" r="1.1" fill="#f4f6f5" opacity="0.9"/></g><g transform="translate(646.6,613.1) rotate(125)"><rect x="-11" y="-5.1" width="9" height="10.1" fill="#050606"/><rect x="-9" y="-5.7" width="2" height="11.3" fill="#aab0ae" opacity="0.8"/><ellipse cx="-1" cy="0" rx="4.8" ry="5.1" fill="#d0d4d2"/><ellipse cx="-0.2" cy="0.3" rx="3.4" ry="3.5" fill="#1c1f1e"/><circle cx="0.8" cy="-1.4" r="1.1" fill="#f4f6f5" opacity="0.9"/></g><g transform="translate(534.1,479.6) rotate(132)"><rect x="-11" y="-5.4" width="9" height="10.9" fill="#050606"/><rect x="-9" y="-6.0" width="2" height="12.1" fill="#aab0ae" opacity="0.8"/><ellipse cx="-1" cy="0" rx="4.8" ry="5.4" fill="#8e9492"/><ellipse cx="-0.2" cy="0.3" rx="3.4" ry="3.8" fill="#1c1f1e"/><circle cx="0.8" cy="-1.4" r="1.1" fill="#f4f6f5" opacity="0.9"/></g><g transform="translate(640.7,606.8) rotate(121)"><rect x="-11" y="-5.6" width="9" height="11.1" fill="#050606"/><rect x="-9" y="-6.2" width="2" height="12.3" fill="#aab0ae" opacity="0.8"/><ellipse cx="-1" cy="0" rx="4.8" ry="5.6" fill="#7b8280"/><ellipse cx="-0.2" cy="0.3" rx="3.4" ry="4.0" fill="#1c1f1e"/><circle cx="0.8" cy="-1.4" r="1.1" fill="#f4f6f5" opacity="0.9"/></g><g transform="translate(525.9,470.0) rotate(136)"><rect x="-11" y="-5.5" width="9" height="11.1" fill="#050606"/><rect x="-9" y="-6.1" width="2" height="12.3" fill="#aab0ae" opacity="0.8"/><ellipse cx="-1" cy="0" rx="4.8" ry="5.5" fill="#a9aeac"/><ellipse cx="-0.2" cy="0.3" rx="3.4" ry="3.9" fill="#1c1f1e"/><circle cx="0.8" cy="-1.4" r="1.1" fill="#f4f6f5" opacity="0.9"/></g><g transform="translate(663.7,635.1) rotate(117)"><rect x="-11" y="-5.0" width="9" height="9.9" fill="#050606"/><rect x="-9" y="-5.6" width="2" height="11.1" fill="#aab0ae" opacity="0.8"/><ellipse cx="-1" cy="0" rx="4.8" ry="5.0" fill="#8e9492"/><ellipse cx="-0.2" cy="0.3" rx="3.4" ry="3.4" fill="#1c1f1e"/><circle cx="0.8" cy="-1.4" r="1.1" fill="#f4f6f5" opacity="0.9"/></g><g transform="translate(542.7,491.4) rotate(128)"><rect x="-11" y="-5.6" width="9" height="11.2" fill="#050606"/><rect x="-9" y="-6.2" width="2" height="12.4" fill="#aab0ae" opacity="0.8"/><ellipse cx="-1" cy="0" rx="4.8" ry="5.6" fill="#a9aeac"/><ellipse cx="-0.2" cy="0.3" rx="3.4" ry="4.0" fill="#1c1f1e"/><circle cx="0.8" cy="-1.4" r="1.1" fill="#f4f6f5" opacity="0.9"/></g><g transform="translate(642.7,611.9) rotate(127)"><rect x="-11" y="-5.5" width="9" height="10.9" fill="#050606"/><rect x="-9" y="-6.1" width="2" height="12.1" fill="#aab0ae" opacity="0.8"/><ellipse cx="-1" cy="0" rx="4.8" ry="5.5" fill="#7b8280"/><ellipse cx="-0.2" cy="0.3" rx="3.4" ry="3.9" fill="#1c1f1e"/><circle cx="0.8" cy="-1.4" r="1.1" fill="#f4f6f5" opacity="0.9"/></g><g transform="translate(587.3,546.4) rotate(122)"><rect x="-11" y="-5.4" width="9" height="10.7" fill="#050606"/><rect x="-9" y="-6.0" width="2" height="11.9" fill="#aab0ae" opacity="0.8"/><ellipse cx="-1" cy="0" rx="4.8" ry="5.4" fill="#7b8280"/><ellipse cx="-0.2" cy="0.3" rx="3.4" ry="3.8" fill="#1c1f1e"/><circle cx="0.8" cy="-1.4" r="1.1" fill="#f4f6f5" opacity="0.9"/></g><g transform="translate(585.6,545.1) rotate(128)"><rect x="-11" y="-5.0" width="9" height="10.0" fill="#050606"/><rect x="-9" y="-5.6" width="2" height="11.2" fill="#aab0ae" opacity="0.8"/><ellipse cx="-1" cy="0" rx="4.8" ry="5.0" fill="#a9aeac"/><ellipse cx="-0.2" cy="0.3" rx="3.4" ry="3.4" fill="#1c1f1e"/><circle cx="0.8" cy="-1.4" r="1.1" fill="#f4f6f5" opacity="0.9"/></g><g transform="translate(615.2,581.1) rotate(124)"><rect x="-11" y="-5.5" width="9" height="10.9" fill="#050606"/><rect x="-9" y="-6.1" width="2" height="12.1" fill="#aab0ae" opacity="0.8"/><ellipse cx="-1" cy="0" rx="4.8" ry="5.5" fill="#8e9492"/><ellipse cx="-0.2" cy="0.3" rx="3.4" ry="3.9" fill="#1c1f1e"/><circle cx="0.8" cy="-1.4" r="1.1" fill="#f4f6f5" opacity="0.9"/></g><g transform="translate(525.5,474.4) rotate(137)"><rect x="-11" y="-5.4" width="9" height="10.8" fill="#050606"/><rect x="-9" y="-6.0" width="2" height="12.0" fill="#aab0ae" opacity="0.8"/><ellipse cx="-1" cy="0" rx="4.8" ry="5.4" fill="#8e9492"/><ellipse cx="-0.2" cy="0.3" rx="3.4" ry="3.8" fill="#1c1f1e"/><circle cx="0.8" cy="-1.4" r="1.1" fill="#f4f6f5" opacity="0.9"/></g><g transform="translate(578.0,538.5) rotate(128)"><rect x="-11" y="-5.6" width="9" height="11.1" fill="#050606"/><rect x="-9" y="-6.2" width="2" height="12.3" fill="#aab0ae" opacity="0.8"/><ellipse cx="-1" cy="0" rx="4.8" ry="5.6" fill="#a9aeac"/><ellipse cx="-0.2" cy="0.3" rx="3.4" ry="4.0" fill="#1c1f1e"/><circle cx="0.8" cy="-1.4" r="1.1" fill="#f4f6f5" opacity="0.9"/></g><g transform="translate(615.3,583.6) rotate(119)"><rect x="-11" y="-5.5" width="9" height="10.9" fill="#050606"/><rect x="-9" y="-6.1" width="2" height="12.1" fill="#aab0ae" opacity="0.8"/><ellipse cx="-1" cy="0" rx="4.8" ry="5.5" fill="#d0d4d2"/><ellipse cx="-0.2" cy="0.3" rx="3.4" ry="3.9" fill="#1c1f1e"/><circle cx="0.8" cy="-1.4" r="1.1" fill="#f4f6f5" opacity="0.9"/></g><g transform="translate(629.6,600.7) rotate(123)"><rect x="-11" y="-5.0" width="9" height="10.0" fill="#050606"/><rect x="-9" y="-5.6" width="2" height="11.2" fill="#aab0ae" opacity="0.8"/><ellipse cx="-1" cy="0" rx="4.8" ry="5.0" fill="#a9aeac"/><ellipse cx="-0.2" cy="0.3" rx="3.4" ry="3.4" fill="#1c1f1e"/><circle cx="0.8" cy="-1.4" r="1.1" fill="#f4f6f5" opacity="0.9"/></g><g transform="translate(540.7,494.8) rotate(134)"><rect x="-11" y="-5.0" width="9" height="10.1" fill="#050606"/><rect x="-9" y="-5.6" width="2" height="11.3" fill="#aab0ae" opacity="0.8"/><ellipse cx="-1" cy="0" rx="4.8" ry="5.0" fill="#d0d4d2"/><ellipse cx="-0.2" cy="0.3" rx="3.4" ry="3.4" fill="#1c1f1e"/><circle cx="0.8" cy="-1.4" r="1.1" fill="#f4f6f5" opacity="0.9"/></g><g transform="translate(614.3,584.5) rotate(121)"><rect x="-11" y="-5.0" width="9" height="9.9" fill="#050606"/><rect x="-9" y="-5.6" width="2" height="11.1" fill="#aab0ae" opacity="0.8"/><ellipse cx="-1" cy="0" rx="4.8" ry="5.0" fill="#a9aeac"/><ellipse cx="-0.2" cy="0.3" rx="3.4" ry="3.4" fill="#1c1f1e"/><circle cx="0.8" cy="-1.4" r="1.1" fill="#f4f6f5" opacity="0.9"/></g><g transform="translate(616.0,588.3) rotate(130)"><rect x="-11" y="-4.9" width="9" height="9.8" fill="#050606"/><rect x="-9" y="-5.5" width="2" height="11.0" fill="#aab0ae" opacity="0.8"/><ellipse cx="-1" cy="0" rx="4.8" ry="4.9" fill="#7b8280"/><ellipse cx="-0.2" cy="0.3" rx="3.4" ry="3.3" fill="#1c1f1e"/><circle cx="0.8" cy="-1.4" r="1.1" fill="#f4f6f5" opacity="0.9"/></g><g transform="translate(533.2,490.1) rotate(124)"><rect x="-11" y="-5.1" width="9" height="10.1" fill="#050606"/><rect x="-9" y="-5.7" width="2" height="11.3" fill="#aab0ae" opacity="0.8"/><ellipse cx="-1" cy="0" rx="4.8" ry="5.1" fill="#d0d4d2"/><ellipse cx="-0.2" cy="0.3" rx="3.4" ry="3.5" fill="#1c1f1e"/><circle cx="0.8" cy="-1.4" r="1.1" fill="#f4f6f5" opacity="0.9"/></g><g transform="translate(525.4,482.9) rotate(126)"><rect x="-11" y="-5.6" width="9" height="11.1" fill="#050606"/><rect x="-9" y="-6.2" width="2" height="12.3" fill="#aab0ae" opacity="0.8"/><ellipse cx="-1" cy="0" rx="4.8" ry="5.6" fill="#d0d4d2"/><ellipse cx="-0.2" cy="0.3" rx="3.4" ry="4.0" fill="#1c1f1e"/><circle cx="0.8" cy="-1.4" r="1.1" fill="#f4f6f5" opacity="0.9"/></g><g transform="translate(646.8,627.9) rotate(116)"><rect x="-11" y="-5.5" width="9" height="11.1" fill="#050606"/><rect x="-9" y="-6.1" width="2" height="12.3" fill="#aab0ae" opacity="0.8"/><ellipse cx="-1" cy="0" rx="4.8" ry="5.5" fill="#8e9492"/><ellipse cx="-0.2" cy="0.3" rx="3.4" ry="3.9" fill="#1c1f1e"/><circle cx="0.8" cy="-1.4" r="1.1" fill="#f4f6f5" opacity="0.9"/></g><g transform="translate(654.2,637.0) rotate(120)"><rect x="-11" y="-5.3" width="9" height="10.6" fill="#050606"/><rect x="-9" y="-5.9" width="2" height="11.8" fill="#aab0ae" opacity="0.8"/><ellipse cx="-1" cy="0" rx="4.8" ry="5.3" fill="#7b8280"/><ellipse cx="-0.2" cy="0.3" rx="3.4" ry="3.7" fill="#1c1f1e"/><circle cx="0.8" cy="-1.4" r="1.1" fill="#f4f6f5" opacity="0.9"/></g><g transform="translate(524.4,484.0) rotate(131)"><rect x="-11" y="-5.0" width="9" height="10.1" fill="#050606"/><rect x="-9" y="-5.6" width="2" height="11.3" fill="#aab0ae" opacity="0.8"/><ellipse cx="-1" cy="0" rx="4.8" ry="5.0" fill="#8e9492"/><ellipse cx="-0.2" cy="0.3" rx="3.4" ry="3.4" fill="#1c1f1e"/><circle cx="0.8" cy="-1.4" r="1.1" fill="#f4f6f5" opacity="0.9"/></g><g transform="translate(620.1,599.8) rotate(124)"><rect x="-11" y="-5.0" width="9" height="10.1" fill="#050606"/><rect x="-9" y="-5.6" width="2" height="11.3" fill="#aab0ae" opacity="0.8"/><ellipse cx="-1" cy="0" rx="4.8" ry="5.0" fill="#a9aeac"/><ellipse cx="-0.2" cy="0.3" rx="3.4" ry="3.4" fill="#1c1f1e"/><circle cx="0.8" cy="-1.4" r="1.1" fill="#f4f6f5" opacity="0.9"/></g><g transform="translate(594.1,569.1) rotate(127)"><rect x="-11" y="-4.9" width="9" height="9.8" fill="#050606"/><rect x="-9" y="-5.5" width="2" height="11.0" fill="#aab0ae" opacity="0.8"/><ellipse cx="-1" cy="0" rx="4.8" ry="4.9" fill="#7b8280"/><ellipse cx="-0.2" cy="0.3" rx="3.4" ry="3.3" fill="#1c1f1e"/><circle cx="0.8" cy="-1.4" r="1.1" fill="#f4f6f5" opacity="0.9"/></g><g transform="translate(628.8,612.5) rotate(121)"><rect x="-11" y="-5.7" width="9" height="11.4" fill="#050606"/><rect x="-9" y="-6.3" width="2" height="12.6" fill="#aab0ae" opacity="0.8"/><ellipse cx="-1" cy="0" rx="4.8" ry="5.7" fill="#7b8280"/><ellipse cx="-0.2" cy="0.3" rx="3.4" ry="4.1" fill="#1c1f1e"/><circle cx="0.8" cy="-1.4" r="1.1" fill="#f4f6f5" opacity="0.9"/></g><g transform="translate(553.9,523.4) rotate(125)"><rect x="-11" y="-5.4" width="9" height="10.8" fill="#050606"/><rect x="-9" y="-6.0" width="2" height="12.0" fill="#aab0ae" opacity="0.8"/><ellipse cx="-1" cy="0" rx="4.8" ry="5.4" fill="#7b8280"/><ellipse cx="-0.2" cy="0.3" rx="3.4" ry="3.8" fill="#1c1f1e"/><circle cx="0.8" cy="-1.4" r="1.1" fill="#f4f6f5" opacity="0.9"/></g><g transform="translate(626.8,611.8) rotate(123)"><rect x="-11" y="-5.4" width="9" height="10.9" fill="#050606"/><rect x="-9" y="-6.0" width="2" height="12.1" fill="#aab0ae" opacity="0.8"/><ellipse cx="-1" cy="0" rx="4.8" ry="5.4" fill="#d0d4d2"/><ellipse cx="-0.2" cy="0.3" rx="3.4" ry="3.8" fill="#1c1f1e"/><circle cx="0.8" cy="-1.4" r="1.1" fill="#f4f6f5" opacity="0.9"/></g><g transform="translate(581.3,563.5) rotate(129)"><rect x="-11" y="-5.4" width="9" height="10.7" fill="#050606"/><rect x="-9" y="-6.0" width="2" height="11.9" fill="#aab0ae" opacity="0.8"/><ellipse cx="-1" cy="0" rx="4.8" ry="5.4" fill="#bcc1bf"/><ellipse cx="-0.2" cy="0.3" rx="3.4" ry="3.8" fill="#1c1f1e"/><circle cx="0.8" cy="-1.4" r="1.1" fill="#f4f6f5" opacity="0.9"/></g><g transform="translate(602.2,591.6) rotate(121)"><rect x="-11" y="-5.3" width="9" height="10.6" fill="#050606"/><rect x="-9" y="-5.9" width="2" height="11.8" fill="#aab0ae" opacity="0.8"/><ellipse cx="-1" cy="0" rx="4.8" ry="5.3" fill="#7b8280"/><ellipse cx="-0.2" cy="0.3" rx="3.4" ry="3.7" fill="#1c1f1e"/><circle cx="0.8" cy="-1.4" r="1.1" fill="#f4f6f5" opacity="0.9"/></g><g transform="translate(585.8,572.9) rotate(129)"><rect x="-11" y="-5.3" width="9" height="10.6" fill="#050606"/><rect x="-9" y="-5.9" width="2" height="11.8" fill="#aab0ae" opacity="0.8"/><ellipse cx="-1" cy="0" rx="4.8" ry="5.3" fill="#d0d4d2"/><ellipse cx="-0.2" cy="0.3" rx="3.4" ry="3.7" fill="#1c1f1e"/><circle cx="0.8" cy="-1.4" r="1.1" fill="#f4f6f5" opacity="0.9"/></g><g transform="translate(623.9,619.3) rotate(123)"><rect x="-11" y="-5.2" width="9" height="10.4" fill="#050606"/><rect x="-9" y="-5.8" width="2" height="11.6" fill="#aab0ae" opacity="0.8"/><ellipse cx="-1" cy="0" rx="4.8" ry="5.2" fill="#a9aeac"/><ellipse cx="-0.2" cy="0.3" rx="3.4" ry="3.6" fill="#1c1f1e"/><circle cx="0.8" cy="-1.4" r="1.1" fill="#f4f6f5" opacity="0.9"/></g><g transform="translate(598.5,590.1) rotate(132)"><rect x="-11" y="-5.4" width="9" height="10.9" fill="#050606"/><rect x="-9" y="-6.0" width="2" height="12.1" fill="#aab0ae" opacity="0.8"/><ellipse cx="-1" cy="0" rx="4.8" ry="5.4" fill="#8e9492"/><ellipse cx="-0.2" cy="0.3" rx="3.4" ry="3.8" fill="#1c1f1e"/><circle cx="0.8" cy="-1.4" r="1.1" fill="#f4f6f5" opacity="0.9"/></g><g transform="translate(505.1,478.7) rotate(130)"><rect x="-11" y="-5.6" width="9" height="11.3" fill="#050606"/><rect x="-9" y="-6.2" width="2" height="12.5" fill="#aab0ae" opacity="0.8"/><ellipse cx="-1" cy="0" rx="4.8" ry="5.6" fill="#7b8280"/><ellipse cx="-0.2" cy="0.3" rx="3.4" ry="4.0" fill="#1c1f1e"/><circle cx="0.8" cy="-1.4" r="1.1" fill="#f4f6f5" opacity="0.9"/></g><g transform="translate(613.3,608.6) rotate(119)"><rect x="-11" y="-5.1" width="9" height="10.2" fill="#050606"/><rect x="-9" y="-5.7" width="2" height="11.4" fill="#aab0ae" opacity="0.8"/><ellipse cx="-1" cy="0" rx="4.8" ry="5.1" fill="#7b8280"/><ellipse cx="-0.2" cy="0.3" rx="3.4" ry="3.5" fill="#1c1f1e"/><circle cx="0.8" cy="-1.4" r="1.1" fill="#f4f6f5" opacity="0.9"/></g><g transform="translate(636.7,637.7) rotate(115)"><rect x="-11" y="-5.2" width="9" height="10.4" fill="#050606"/><rect x="-9" y="-5.8" width="2" height="11.6" fill="#aab0ae" opacity="0.8"/><ellipse cx="-1" cy="0" rx="4.8" ry="5.2" fill="#7b8280"/><ellipse cx="-0.2" cy="0.3" rx="3.4" ry="3.6" fill="#1c1f1e"/><circle cx="0.8" cy="-1.4" r="1.1" fill="#f4f6f5" opacity="0.9"/></g><g transform="translate(556.0,542.5) rotate(127)"><rect x="-11" y="-5.6" width="9" height="11.2" fill="#050606"/><rect x="-9" y="-6.2" width="2" height="12.4" fill="#aab0ae" opacity="0.8"/><ellipse cx="-1" cy="0" rx="4.8" ry="5.6" fill="#a9aeac"/><ellipse cx="-0.2" cy="0.3" rx="3.4" ry="4.0" fill="#1c1f1e"/><circle cx="0.8" cy="-1.4" r="1.1" fill="#f4f6f5" opacity="0.9"/></g><g transform="translate(539.8,523.9) rotate(129)"><rect x="-11" y="-5.6" width="9" height="11.2" fill="#050606"/><rect x="-9" y="-6.2" width="2" height="12.4" fill="#aab0ae" opacity="0.8"/><ellipse cx="-1" cy="0" rx="4.8" ry="5.6" fill="#d0d4d2"/><ellipse cx="-0.2" cy="0.3" rx="3.4" ry="4.0" fill="#1c1f1e"/><circle cx="0.8" cy="-1.4" r="1.1" fill="#f4f6f5" opacity="0.9"/></g><g transform="translate(503.2,481.8) rotate(140)"><rect x="-11" y="-5.1" width="9" height="10.2" fill="#050606"/><rect x="-9" y="-5.7" width="2" height="11.4" fill="#aab0ae" opacity="0.8"/><ellipse cx="-1" cy="0" rx="4.8" ry="5.1" fill="#a9aeac"/><ellipse cx="-0.2" cy="0.3" rx="3.4" ry="3.5" fill="#1c1f1e"/><circle cx="0.8" cy="-1.4" r="1.1" fill="#f4f6f5" opacity="0.9"/></g><g transform="translate(508.6,488.4) rotate(127)"><rect x="-11" y="-4.8" width="9" height="9.6" fill="#050606"/><rect x="-9" y="-5.4" width="2" height="10.8" fill="#aab0ae" opacity="0.8"/><ellipse cx="-1" cy="0" rx="4.8" ry="4.8" fill="#a9aeac"/><ellipse cx="-0.2" cy="0.3" rx="3.4" ry="3.2" fill="#1c1f1e"/><circle cx="0.8" cy="-1.4" r="1.1" fill="#f4f6f5" opacity="0.9"/></g><g transform="translate(514.7,496.4) rotate(137)"><rect x="-11" y="-4.9" width="9" height="9.8" fill="#050606"/><rect x="-9" y="-5.5" width="2" height="11.0" fill="#aab0ae" opacity="0.8"/><ellipse cx="-1" cy="0" rx="4.8" ry="4.9" fill="#7b8280"/><ellipse cx="-0.2" cy="0.3" rx="3.4" ry="3.3" fill="#1c1f1e"/><circle cx="0.8" cy="-1.4" r="1.1" fill="#f4f6f5" opacity="0.9"/></g><g transform="translate(548.3,537.0) rotate(131)"><rect x="-11" y="-5.4" width="9" height="10.8" fill="#050606"/><rect x="-9" y="-6.0" width="2" height="12.0" fill="#aab0ae" opacity="0.8"/><ellipse cx="-1" cy="0" rx="4.8" ry="5.4" fill="#d0d4d2"/><ellipse cx="-0.2" cy="0.3" rx="3.4" ry="3.8" fill="#1c1f1e"/><circle cx="0.8" cy="-1.4" r="1.1" fill="#f4f6f5" opacity="0.9"/></g><g transform="translate(521.9,506.2) rotate(133)"><rect x="-11" y="-5.4" width="9" height="10.7" fill="#050606"/><rect x="-9" y="-6.0" width="2" height="11.9" fill="#aab0ae" opacity="0.8"/><ellipse cx="-1" cy="0" rx="4.8" ry="5.4" fill="#bcc1bf"/><ellipse cx="-0.2" cy="0.3" rx="3.4" ry="3.8" fill="#1c1f1e"/><circle cx="0.8" cy="-1.4" r="1.1" fill="#f4f6f5" opacity="0.9"/></g><g transform="translate(580.7,577.7) rotate(126)"><rect x="-11" y="-5.1" width="9" height="10.3" fill="#050606"/><rect x="-9" y="-5.7" width="2" height="11.5" fill="#aab0ae" opacity="0.8"/><ellipse cx="-1" cy="0" rx="4.8" ry="5.1" fill="#7b8280"/><ellipse cx="-0.2" cy="0.3" rx="3.4" ry="3.5" fill="#1c1f1e"/><circle cx="0.8" cy="-1.4" r="1.1" fill="#f4f6f5" opacity="0.9"/></g><g transform="translate(600.3,601.6) rotate(125)"><rect x="-11" y="-5.3" width="9" height="10.6" fill="#050606"/><rect x="-9" y="-5.9" width="2" height="11.8" fill="#aab0ae" opacity="0.8"/><ellipse cx="-1" cy="0" rx="4.8" ry="5.3" fill="#d0d4d2"/><ellipse cx="-0.2" cy="0.3" rx="3.4" ry="3.7" fill="#1c1f1e"/><circle cx="0.8" cy="-1.4" r="1.1" fill="#f4f6f5" opacity="0.9"/></g><g transform="translate(635.7,645.4) rotate(128)"><rect x="-11" y="-5.4" width="9" height="10.8" fill="#050606"/><rect x="-9" y="-6.0" width="2" height="12.0" fill="#aab0ae" opacity="0.8"/><ellipse cx="-1" cy="0" rx="4.8" ry="5.4" fill="#a9aeac"/><ellipse cx="-0.2" cy="0.3" rx="3.4" ry="3.8" fill="#1c1f1e"/><circle cx="0.8" cy="-1.4" r="1.1" fill="#f4f6f5" opacity="0.9"/></g><g transform="translate(624.5,635.7) rotate(124)"><rect x="-11" y="-5.3" width="9" height="10.7" fill="#050606"/><rect x="-9" y="-5.9" width="2" height="11.9" fill="#aab0ae" opacity="0.8"/><ellipse cx="-1" cy="0" rx="4.8" ry="5.3" fill="#8e9492"/><ellipse cx="-0.2" cy="0.3" rx="3.4" ry="3.7" fill="#1c1f1e"/><circle cx="0.8" cy="-1.4" r="1.1" fill="#f4f6f5" opacity="0.9"/></g><g transform="translate(551.3,549.2) rotate(132)"><rect x="-11" y="-5.0" width="9" height="10.1" fill="#050606"/><rect x="-9" y="-5.6" width="2" height="11.3" fill="#aab0ae" opacity="0.8"/><ellipse cx="-1" cy="0" rx="4.8" ry="5.0" fill="#a9aeac"/><ellipse cx="-0.2" cy="0.3" rx="3.4" ry="3.4" fill="#1c1f1e"/><circle cx="0.8" cy="-1.4" r="1.1" fill="#f4f6f5" opacity="0.9"/></g><g transform="translate(610.3,620.3) rotate(124)"><rect x="-11" y="-5.4" width="9" height="10.9" fill="#050606"/><rect x="-9" y="-6.0" width="2" height="12.1" fill="#aab0ae" opacity="0.8"/><ellipse cx="-1" cy="0" rx="4.8" ry="5.4" fill="#8e9492"/><ellipse cx="-0.2" cy="0.3" rx="3.4" ry="3.8" fill="#1c1f1e"/><circle cx="0.8" cy="-1.4" r="1.1" fill="#f4f6f5" opacity="0.9"/></g><g transform="translate(627.2,641.2) rotate(125)"><rect x="-11" y="-4.8" width="9" height="9.7" fill="#050606"/><rect x="-9" y="-5.4" width="2" height="10.9" fill="#aab0ae" opacity="0.8"/><ellipse cx="-1" cy="0" rx="4.8" ry="4.8" fill="#bcc1bf"/><ellipse cx="-0.2" cy="0.3" rx="3.4" ry="3.2" fill="#1c1f1e"/><circle cx="0.8" cy="-1.4" r="1.1" fill="#f4f6f5" opacity="0.9"/></g><g transform="translate(515.8,512.9) rotate(126)"><rect x="-11" y="-5.2" width="9" height="10.4" fill="#050606"/><rect x="-9" y="-5.8" width="2" height="11.6" fill="#aab0ae" opacity="0.8"/><ellipse cx="-1" cy="0" rx="4.8" ry="5.2" fill="#7b8280"/><ellipse cx="-0.2" cy="0.3" rx="3.4" ry="3.6" fill="#1c1f1e"/><circle cx="0.8" cy="-1.4" r="1.1" fill="#f4f6f5" opacity="0.9"/></g><g transform="translate(527.4,527.4) rotate(122)"><rect x="-11" y="-5.5" width="9" height="11.1" fill="#050606"/><rect x="-9" y="-6.1" width="2" height="12.3" fill="#aab0ae" opacity="0.8"/><ellipse cx="-1" cy="0" rx="4.8" ry="5.5" fill="#bcc1bf"/><ellipse cx="-0.2" cy="0.3" rx="3.4" ry="3.9" fill="#1c1f1e"/><circle cx="0.8" cy="-1.4" r="1.1" fill="#f4f6f5" opacity="0.9"/></g><g transform="translate(597.6,611.4) rotate(127)"><rect x="-11" y="-5.6" width="9" height="11.2" fill="#050606"/><rect x="-9" y="-6.2" width="2" height="12.4" fill="#aab0ae" opacity="0.8"/><ellipse cx="-1" cy="0" rx="4.8" ry="5.6" fill="#8e9492"/><ellipse cx="-0.2" cy="0.3" rx="3.4" ry="4.0" fill="#1c1f1e"/><circle cx="0.8" cy="-1.4" r="1.1" fill="#f4f6f5" opacity="0.9"/></g><g transform="translate(631.4,653.9) rotate(130)"><rect x="-11" y="-5.4" width="9" height="10.8" fill="#050606"/><rect x="-9" y="-6.0" width="2" height="12.0" fill="#aab0ae" opacity="0.8"/><ellipse cx="-1" cy="0" rx="4.8" ry="5.4" fill="#8e9492"/><ellipse cx="-0.2" cy="0.3" rx="3.4" ry="3.8" fill="#1c1f1e"/><circle cx="0.8" cy="-1.4" r="1.1" fill="#f4f6f5" opacity="0.9"/></g><g transform="translate(624.0,646.1) rotate(118)"><rect x="-11" y="-5.7" width="9" height="11.4" fill="#050606"/><rect x="-9" y="-6.3" width="2" height="12.6" fill="#aab0ae" opacity="0.8"/><ellipse cx="-1" cy="0" rx="4.8" ry="5.7" fill="#bcc1bf"/><ellipse cx="-0.2" cy="0.3" rx="3.4" ry="4.1" fill="#1c1f1e"/><circle cx="0.8" cy="-1.4" r="1.1" fill="#f4f6f5" opacity="0.9"/></g><g transform="translate(510.6,513.3) rotate(126)"><rect x="-11" y="-5.6" width="9" height="11.3" fill="#050606"/><rect x="-9" y="-6.2" width="2" height="12.5" fill="#aab0ae" opacity="0.8"/><ellipse cx="-1" cy="0" rx="4.8" ry="5.6" fill="#7b8280"/><ellipse cx="-0.2" cy="0.3" rx="3.4" ry="4.0" fill="#1c1f1e"/><circle cx="0.8" cy="-1.4" r="1.1" fill="#f4f6f5" opacity="0.9"/></g><g transform="translate(611.4,634.3) rotate(125)"><rect x="-11" y="-5.2" width="9" height="10.3" fill="#050606"/><rect x="-9" y="-5.8" width="2" height="11.5" fill="#aab0ae" opacity="0.8"/><ellipse cx="-1" cy="0" rx="4.8" ry="5.2" fill="#7b8280"/><ellipse cx="-0.2" cy="0.3" rx="3.4" ry="3.6" fill="#1c1f1e"/><circle cx="0.8" cy="-1.4" r="1.1" fill="#f4f6f5" opacity="0.9"/></g><g transform="translate(542.7,554.9) rotate(127)"><rect x="-11" y="-5.5" width="9" height="11.1" fill="#050606"/><rect x="-9" y="-6.1" width="2" height="12.3" fill="#aab0ae" opacity="0.8"/><ellipse cx="-1" cy="0" rx="4.8" ry="5.5" fill="#bcc1bf"/><ellipse cx="-0.2" cy="0.3" rx="3.4" ry="3.9" fill="#1c1f1e"/><circle cx="0.8" cy="-1.4" r="1.1" fill="#f4f6f5" opacity="0.9"/></g><g transform="translate(545.1,562.5) rotate(126)"><rect x="-11" y="-5.3" width="9" height="10.6" fill="#050606"/><rect x="-9" y="-5.9" width="2" height="11.8" fill="#aab0ae" opacity="0.8"/><ellipse cx="-1" cy="0" rx="4.8" ry="5.3" fill="#d0d4d2"/><ellipse cx="-0.2" cy="0.3" rx="3.4" ry="3.7" fill="#1c1f1e"/><circle cx="0.8" cy="-1.4" r="1.1" fill="#f4f6f5" opacity="0.9"/></g><g transform="translate(524.7,540.2) rotate(128)"><rect x="-11" y="-5.6" width="9" height="11.2" fill="#050606"/><rect x="-9" y="-6.2" width="2" height="12.4" fill="#aab0ae" opacity="0.8"/><ellipse cx="-1" cy="0" rx="4.8" ry="5.6" fill="#bcc1bf"/><ellipse cx="-0.2" cy="0.3" rx="3.4" ry="4.0" fill="#1c1f1e"/><circle cx="0.8" cy="-1.4" r="1.1" fill="#f4f6f5" opacity="0.9"/></g><g transform="translate(574.7,602.0) rotate(120)"><rect x="-11" y="-5.7" width="9" height="11.4" fill="#050606"/><rect x="-9" y="-6.3" width="2" height="12.6" fill="#aab0ae" opacity="0.8"/><ellipse cx="-1" cy="0" rx="4.8" ry="5.7" fill="#d0d4d2"/><ellipse cx="-0.2" cy="0.3" rx="3.4" ry="4.1" fill="#1c1f1e"/><circle cx="0.8" cy="-1.4" r="1.1" fill="#f4f6f5" opacity="0.9"/></g><g transform="translate(558.7,590.5) rotate(122)"><rect x="-11" y="-5.0" width="9" height="10.0" fill="#050606"/><rect x="-9" y="-5.6" width="2" height="11.2" fill="#aab0ae" opacity="0.8"/><ellipse cx="-1" cy="0" rx="4.8" ry="5.0" fill="#a9aeac"/><ellipse cx="-0.2" cy="0.3" rx="3.4" ry="3.4" fill="#1c1f1e"/><circle cx="0.8" cy="-1.4" r="1.1" fill="#f4f6f5" opacity="0.9"/></g><g transform="translate(589.4,629.1) rotate(126)"><rect x="-11" y="-5.1" width="9" height="10.1" fill="#050606"/><rect x="-9" y="-5.7" width="2" height="11.3" fill="#aab0ae" opacity="0.8"/><ellipse cx="-1" cy="0" rx="4.8" ry="5.1" fill="#a9aeac"/><ellipse cx="-0.2" cy="0.3" rx="3.4" ry="3.5" fill="#1c1f1e"/><circle cx="0.8" cy="-1.4" r="1.1" fill="#f4f6f5" opacity="0.9"/></g><g transform="translate(538.9,569.0) rotate(134)"><rect x="-11" y="-5.7" width="9" height="11.4" fill="#050606"/><rect x="-9" y="-6.3" width="2" height="12.6" fill="#aab0ae" opacity="0.8"/><ellipse cx="-1" cy="0" rx="4.8" ry="5.7" fill="#d0d4d2"/><ellipse cx="-0.2" cy="0.3" rx="3.4" ry="4.1" fill="#1c1f1e"/><circle cx="0.8" cy="-1.4" r="1.1" fill="#f4f6f5" opacity="0.9"/></g><g transform="translate(507.3,533.1) rotate(125)"><rect x="-11" y="-5.0" width="9" height="10.1" fill="#050606"/><rect x="-9" y="-5.6" width="2" height="11.3" fill="#aab0ae" opacity="0.8"/><ellipse cx="-1" cy="0" rx="4.8" ry="5.0" fill="#bcc1bf"/><ellipse cx="-0.2" cy="0.3" rx="3.4" ry="3.4" fill="#1c1f1e"/><circle cx="0.8" cy="-1.4" r="1.1" fill="#f4f6f5" opacity="0.9"/></g><g transform="translate(567.7,606.1) rotate(122)"><rect x="-11" y="-5.4" width="9" height="10.9" fill="#050606"/><rect x="-9" y="-6.0" width="2" height="12.1" fill="#aab0ae" opacity="0.8"/><ellipse cx="-1" cy="0" rx="4.8" ry="5.4" fill="#d0d4d2"/><ellipse cx="-0.2" cy="0.3" rx="3.4" ry="3.8" fill="#1c1f1e"/><circle cx="0.8" cy="-1.4" r="1.1" fill="#f4f6f5" opacity="0.9"/></g><g transform="translate(576.1,618.2) rotate(129)"><rect x="-11" y="-4.8" width="9" height="9.6" fill="#050606"/><rect x="-9" y="-5.4" width="2" height="10.8" fill="#aab0ae" opacity="0.8"/><ellipse cx="-1" cy="0" rx="4.8" ry="4.8" fill="#7b8280"/><ellipse cx="-0.2" cy="0.3" rx="3.4" ry="3.2" fill="#1c1f1e"/><circle cx="0.8" cy="-1.4" r="1.1" fill="#f4f6f5" opacity="0.9"/></g><g transform="translate(561.9,601.8) rotate(119)"><rect x="-11" y="-5.7" width="9" height="11.3" fill="#050606"/><rect x="-9" y="-6.3" width="2" height="12.5" fill="#aab0ae" opacity="0.8"/><ellipse cx="-1" cy="0" rx="4.8" ry="5.7" fill="#bcc1bf"/><ellipse cx="-0.2" cy="0.3" rx="3.4" ry="4.1" fill="#1c1f1e"/><circle cx="0.8" cy="-1.4" r="1.1" fill="#f4f6f5" opacity="0.9"/></g><g transform="translate(568.7,612.2) rotate(130)"><rect x="-11" y="-4.9" width="9" height="9.7" fill="#050606"/><rect x="-9" y="-5.5" width="2" height="10.9" fill="#aab0ae" opacity="0.8"/><ellipse cx="-1" cy="0" rx="4.8" ry="4.9" fill="#7b8280"/><ellipse cx="-0.2" cy="0.3" rx="3.4" ry="3.3" fill="#1c1f1e"/><circle cx="0.8" cy="-1.4" r="1.1" fill="#f4f6f5" opacity="0.9"/></g><g transform="translate(499.7,530.0) rotate(138)"><rect x="-11" y="-5.1" width="9" height="10.2" fill="#050606"/><rect x="-9" y="-5.7" width="2" height="11.4" fill="#aab0ae" opacity="0.8"/><ellipse cx="-1" cy="0" rx="4.8" ry="5.1" fill="#d0d4d2"/><ellipse cx="-0.2" cy="0.3" rx="3.4" ry="3.5" fill="#1c1f1e"/><circle cx="0.8" cy="-1.4" r="1.1" fill="#f4f6f5" opacity="0.9"/></g><g transform="translate(515.2,549.6) rotate(125)"><rect x="-11" y="-5.1" width="9" height="10.3" fill="#050606"/><rect x="-9" y="-5.7" width="2" height="11.5" fill="#aab0ae" opacity="0.8"/><ellipse cx="-1" cy="0" rx="4.8" ry="5.1" fill="#8e9492"/><ellipse cx="-0.2" cy="0.3" rx="3.4" ry="3.5" fill="#1c1f1e"/><circle cx="0.8" cy="-1.4" r="1.1" fill="#f4f6f5" opacity="0.9"/></g><g transform="translate(494.9,525.6) rotate(131)"><rect x="-11" y="-5.0" width="9" height="10.1" fill="#050606"/><rect x="-9" y="-5.6" width="2" height="11.3" fill="#aab0ae" opacity="0.8"/><ellipse cx="-1" cy="0" rx="4.8" ry="5.0" fill="#8e9492"/><ellipse cx="-0.2" cy="0.3" rx="3.4" ry="3.4" fill="#1c1f1e"/><circle cx="0.8" cy="-1.4" r="1.1" fill="#f4f6f5" opacity="0.9"/></g><g transform="translate(555.4,598.3) rotate(122)"><rect x="-11" y="-4.8" width="9" height="9.6" fill="#050606"/><rect x="-9" y="-5.4" width="2" height="10.8" fill="#aab0ae" opacity="0.8"/><ellipse cx="-1" cy="0" rx="4.8" ry="4.8" fill="#7b8280"/><ellipse cx="-0.2" cy="0.3" rx="3.4" ry="3.2" fill="#1c1f1e"/><circle cx="0.8" cy="-1.4" r="1.1" fill="#f4f6f5" opacity="0.9"/></g><g transform="translate(521.7,558.2) rotate(131)"><rect x="-11" y="-5.5" width="9" height="11.0" fill="#050606"/><rect x="-9" y="-6.1" width="2" height="12.2" fill="#aab0ae" opacity="0.8"/><ellipse cx="-1" cy="0" rx="4.8" ry="5.5" fill="#bcc1bf"/><ellipse cx="-0.2" cy="0.3" rx="3.4" ry="3.9" fill="#1c1f1e"/><circle cx="0.8" cy="-1.4" r="1.1" fill="#f4f6f5" opacity="0.9"/></g><g transform="translate(573.8,621.6) rotate(126)"><rect x="-11" y="-5.1" width="9" height="10.2" fill="#050606"/><rect x="-9" y="-5.7" width="2" height="11.4" fill="#aab0ae" opacity="0.8"/><ellipse cx="-1" cy="0" rx="4.8" ry="5.1" fill="#d0d4d2"/><ellipse cx="-0.2" cy="0.3" rx="3.4" ry="3.5" fill="#1c1f1e"/><circle cx="0.8" cy="-1.4" r="1.1" fill="#f4f6f5" opacity="0.9"/></g><g transform="translate(557.9,603.1) rotate(134)"><rect x="-11" y="-5.4" width="9" height="10.7" fill="#050606"/><rect x="-9" y="-6.0" width="2" height="11.9" fill="#aab0ae" opacity="0.8"/><ellipse cx="-1" cy="0" rx="4.8" ry="5.4" fill="#8e9492"/><ellipse cx="-0.2" cy="0.3" rx="3.4" ry="3.8" fill="#1c1f1e"/><circle cx="0.8" cy="-1.4" r="1.1" fill="#f4f6f5" opacity="0.9"/></g><g transform="translate(538.4,582.3) rotate(132)"><rect x="-11" y="-5.2" width="9" height="10.3" fill="#050606"/><rect x="-9" y="-5.8" width="2" height="11.5" fill="#aab0ae" opacity="0.8"/><ellipse cx="-1" cy="0" rx="4.8" ry="5.2" fill="#a9aeac"/><ellipse cx="-0.2" cy="0.3" rx="3.4" ry="3.6" fill="#1c1f1e"/><circle cx="0.8" cy="-1.4" r="1.1" fill="#f4f6f5" opacity="0.9"/></g><g transform="translate(526.1,570.0) rotate(122)"><rect x="-11" y="-4.9" width="9" height="9.8" fill="#050606"/><rect x="-9" y="-5.5" width="2" height="11.0" fill="#aab0ae" opacity="0.8"/><ellipse cx="-1" cy="0" rx="4.8" ry="4.9" fill="#d0d4d2"/><ellipse cx="-0.2" cy="0.3" rx="3.4" ry="3.3" fill="#1c1f1e"/><circle cx="0.8" cy="-1.4" r="1.1" fill="#f4f6f5" opacity="0.9"/></g><g transform="translate(478.0,515.7) rotate(135)"><rect x="-11" y="-5.6" width="9" height="11.2" fill="#050606"/><rect x="-9" y="-6.2" width="2" height="12.4" fill="#aab0ae" opacity="0.8"/><ellipse cx="-1" cy="0" rx="4.8" ry="5.6" fill="#8e9492"/><ellipse cx="-0.2" cy="0.3" rx="3.4" ry="4.0" fill="#1c1f1e"/><circle cx="0.8" cy="-1.4" r="1.1" fill="#f4f6f5" opacity="0.9"/></g><g transform="translate(511.5,558.6) rotate(126)"><rect x="-11" y="-5.6" width="9" height="11.1" fill="#050606"/><rect x="-9" y="-6.2" width="2" height="12.3" fill="#aab0ae" opacity="0.8"/><ellipse cx="-1" cy="0" rx="4.8" ry="5.6" fill="#7b8280"/><ellipse cx="-0.2" cy="0.3" rx="3.4" ry="4.0" fill="#1c1f1e"/><circle cx="0.8" cy="-1.4" r="1.1" fill="#f4f6f5" opacity="0.9"/></g><g transform="translate(520.4,572.6) rotate(126)"><rect x="-11" y="-5.5" width="9" height="11.1" fill="#050606"/><rect x="-9" y="-6.1" width="2" height="12.3" fill="#aab0ae" opacity="0.8"/><ellipse cx="-1" cy="0" rx="4.8" ry="5.5" fill="#a9aeac"/><ellipse cx="-0.2" cy="0.3" rx="3.4" ry="3.9" fill="#1c1f1e"/><circle cx="0.8" cy="-1.4" r="1.1" fill="#f4f6f5" opacity="0.9"/></g><g transform="translate(483.5,529.5) rotate(132)"><rect x="-11" y="-5.1" width="9" height="10.3" fill="#050606"/><rect x="-9" y="-5.7" width="2" height="11.5" fill="#aab0ae" opacity="0.8"/><ellipse cx="-1" cy="0" rx="4.8" ry="5.1" fill="#8e9492"/><ellipse cx="-0.2" cy="0.3" rx="3.4" ry="3.5" fill="#1c1f1e"/><circle cx="0.8" cy="-1.4" r="1.1" fill="#f4f6f5" opacity="0.9"/></g><g transform="translate(521.6,576.2) rotate(130)"><rect x="-11" y="-5.3" width="9" height="10.7" fill="#050606"/><rect x="-9" y="-5.9" width="2" height="11.9" fill="#aab0ae" opacity="0.8"/><ellipse cx="-1" cy="0" rx="4.8" ry="5.3" fill="#a9aeac"/><ellipse cx="-0.2" cy="0.3" rx="3.4" ry="3.7" fill="#1c1f1e"/><circle cx="0.8" cy="-1.4" r="1.1" fill="#f4f6f5" opacity="0.9"/></g><g transform="translate(458.4,507.2) rotate(140)"><rect x="-11" y="-5.5" width="9" height="11.1" fill="#050606"/><rect x="-9" y="-6.1" width="2" height="12.3" fill="#aab0ae" opacity="0.8"/><ellipse cx="-1" cy="0" rx="4.8" ry="5.5" fill="#bcc1bf"/><ellipse cx="-0.2" cy="0.3" rx="3.4" ry="3.9" fill="#1c1f1e"/><circle cx="0.8" cy="-1.4" r="1.1" fill="#f4f6f5" opacity="0.9"/></g><g transform="translate(501.6,559.4) rotate(129)"><rect x="-11" y="-5.5" width="9" height="11.1" fill="#050606"/><rect x="-9" y="-6.1" width="2" height="12.3" fill="#aab0ae" opacity="0.8"/><ellipse cx="-1" cy="0" rx="4.8" ry="5.5" fill="#d0d4d2"/><ellipse cx="-0.2" cy="0.3" rx="3.4" ry="3.9" fill="#1c1f1e"/><circle cx="0.8" cy="-1.4" r="1.1" fill="#f4f6f5" opacity="0.9"/></g><g transform="translate(452.4,503.8) rotate(127)"><rect x="-11" y="-5.6" width="9" height="11.1" fill="#050606"/><rect x="-9" y="-6.2" width="2" height="12.3" fill="#aab0ae" opacity="0.8"/><ellipse cx="-1" cy="0" rx="4.8" ry="5.6" fill="#8e9492"/><ellipse cx="-0.2" cy="0.3" rx="3.4" ry="4.0" fill="#1c1f1e"/><circle cx="0.8" cy="-1.4" r="1.1" fill="#f4f6f5" opacity="0.9"/></g><g transform="translate(517.8,582.4) rotate(132)"><rect x="-11" y="-5.1" width="9" height="10.2" fill="#050606"/><rect x="-9" y="-5.7" width="2" height="11.4" fill="#aab0ae" opacity="0.8"/><ellipse cx="-1" cy="0" rx="4.8" ry="5.1" fill="#7b8280"/><ellipse cx="-0.2" cy="0.3" rx="3.4" ry="3.5" fill="#1c1f1e"/><circle cx="0.8" cy="-1.4" r="1.1" fill="#f4f6f5" opacity="0.9"/></g><g transform="translate(550.5,623.6) rotate(121)"><rect x="-11" y="-5.1" width="9" height="10.2" fill="#050606"/><rect x="-9" y="-5.7" width="2" height="11.4" fill="#aab0ae" opacity="0.8"/><ellipse cx="-1" cy="0" rx="4.8" ry="5.1" fill="#bcc1bf"/><ellipse cx="-0.2" cy="0.3" rx="3.4" ry="3.5" fill="#1c1f1e"/><circle cx="0.8" cy="-1.4" r="1.1" fill="#f4f6f5" opacity="0.9"/></g><g transform="translate(527.7,597.6) rotate(129)"><rect x="-11" y="-4.8" width="9" height="9.6" fill="#050606"/><rect x="-9" y="-5.4" width="2" height="10.8" fill="#aab0ae" opacity="0.8"/><ellipse cx="-1" cy="0" rx="4.8" ry="4.8" fill="#a9aeac"/><ellipse cx="-0.2" cy="0.3" rx="3.4" ry="3.2" fill="#1c1f1e"/><circle cx="0.8" cy="-1.4" r="1.1" fill="#f4f6f5" opacity="0.9"/></g><g transform="translate(505.0,571.9) rotate(135)"><rect x="-11" y="-5.3" width="9" height="10.5" fill="#050606"/><rect x="-9" y="-5.9" width="2" height="11.7" fill="#aab0ae" opacity="0.8"/><ellipse cx="-1" cy="0" rx="4.8" ry="5.3" fill="#8e9492"/><ellipse cx="-0.2" cy="0.3" rx="3.4" ry="3.7" fill="#1c1f1e"/><circle cx="0.8" cy="-1.4" r="1.1" fill="#f4f6f5" opacity="0.9"/></g><g transform="translate(511.5,580.7) rotate(123)"><rect x="-11" y="-5.2" width="9" height="10.4" fill="#050606"/><rect x="-9" y="-5.8" width="2" height="11.6" fill="#aab0ae" opacity="0.8"/><ellipse cx="-1" cy="0" rx="4.8" ry="5.2" fill="#d0d4d2"/><ellipse cx="-0.2" cy="0.3" rx="3.4" ry="3.6" fill="#1c1f1e"/><circle cx="0.8" cy="-1.4" r="1.1" fill="#f4f6f5" opacity="0.9"/></g><g transform="translate(456.1,515.1) rotate(140)"><rect x="-11" y="-5.4" width="9" height="10.7" fill="#050606"/><rect x="-9" y="-6.0" width="2" height="11.9" fill="#aab0ae" opacity="0.8"/><ellipse cx="-1" cy="0" rx="4.8" ry="5.4" fill="#7b8280"/><ellipse cx="-0.2" cy="0.3" rx="3.4" ry="3.8" fill="#1c1f1e"/><circle cx="0.8" cy="-1.4" r="1.1" fill="#f4f6f5" opacity="0.9"/></g><g transform="translate(452.7,522.2) rotate(138)"><rect x="-11" y="-5.3" width="9" height="10.6" fill="#050606"/><rect x="-9" y="-5.9" width="2" height="11.8" fill="#aab0ae" opacity="0.8"/><ellipse cx="-1" cy="0" rx="4.8" ry="5.3" fill="#7b8280"/><ellipse cx="-0.2" cy="0.3" rx="3.4" ry="3.7" fill="#1c1f1e"/><circle cx="0.8" cy="-1.4" r="1.1" fill="#f4f6f5" opacity="0.9"/></g><g transform="translate(512.0,595.3) rotate(129)"><rect x="-11" y="-5.0" width="9" height="10.0" fill="#050606"/><rect x="-9" y="-5.6" width="2" height="11.2" fill="#aab0ae" opacity="0.8"/><ellipse cx="-1" cy="0" rx="4.8" ry="5.0" fill="#8e9492"/><ellipse cx="-0.2" cy="0.3" rx="3.4" ry="3.4" fill="#1c1f1e"/><circle cx="0.8" cy="-1.4" r="1.1" fill="#f4f6f5" opacity="0.9"/></g><g transform="translate(449.7,526.3) rotate(130)"><rect x="-11" y="-5.2" width="9" height="10.5" fill="#050606"/><rect x="-9" y="-5.8" width="2" height="11.7" fill="#aab0ae" opacity="0.8"/><ellipse cx="-1" cy="0" rx="4.8" ry="5.2" fill="#d0d4d2"/><ellipse cx="-0.2" cy="0.3" rx="3.4" ry="3.6" fill="#1c1f1e"/><circle cx="0.8" cy="-1.4" r="1.1" fill="#f4f6f5" opacity="0.9"/></g><g transform="translate(486.4,572.7) rotate(127)"><rect x="-11" y="-5.5" width="9" height="11.0" fill="#050606"/><rect x="-9" y="-6.1" width="2" height="12.2" fill="#aab0ae" opacity="0.8"/><ellipse cx="-1" cy="0" rx="4.8" ry="5.5" fill="#8e9492"/><ellipse cx="-0.2" cy="0.3" rx="3.4" ry="3.9" fill="#1c1f1e"/><circle cx="0.8" cy="-1.4" r="1.1" fill="#f4f6f5" opacity="0.9"/></g><g transform="translate(493.5,584.4) rotate(129)"><rect x="-11" y="-5.4" width="9" height="10.9" fill="#050606"/><rect x="-9" y="-6.0" width="2" height="12.1" fill="#aab0ae" opacity="0.8"/><ellipse cx="-1" cy="0" rx="4.8" ry="5.4" fill="#7b8280"/><ellipse cx="-0.2" cy="0.3" rx="3.4" ry="3.8" fill="#1c1f1e"/><circle cx="0.8" cy="-1.4" r="1.1" fill="#f4f6f5" opacity="0.9"/></g><g transform="translate(498.7,594.7) rotate(126)"><rect x="-11" y="-5.4" width="9" height="10.7" fill="#050606"/><rect x="-9" y="-6.0" width="2" height="11.9" fill="#aab0ae" opacity="0.8"/><ellipse cx="-1" cy="0" rx="4.8" ry="5.4" fill="#8e9492"/><ellipse cx="-0.2" cy="0.3" rx="3.4" ry="3.8" fill="#1c1f1e"/><circle cx="0.8" cy="-1.4" r="1.1" fill="#f4f6f5" opacity="0.9"/></g><g transform="translate(448.6,549.9) rotate(135)"><rect x="-11" y="-5.1" width="9" height="10.2" fill="#050606"/><rect x="-9" y="-5.7" width="2" height="11.4" fill="#aab0ae" opacity="0.8"/><ellipse cx="-1" cy="0" rx="4.8" ry="5.1" fill="#d0d4d2"/><ellipse cx="-0.2" cy="0.3" rx="3.4" ry="3.5" fill="#1c1f1e"/><circle cx="0.8" cy="-1.4" r="1.1" fill="#f4f6f5" opacity="0.9"/></g><g transform="translate(448.0,550.7) rotate(139)"><rect x="-11" y="-4.8" width="9" height="9.7" fill="#050606"/><rect x="-9" y="-5.4" width="2" height="10.9" fill="#aab0ae" opacity="0.8"/><ellipse cx="-1" cy="0" rx="4.8" ry="4.8" fill="#bcc1bf"/><ellipse cx="-0.2" cy="0.3" rx="3.4" ry="3.2" fill="#1c1f1e"/><circle cx="0.8" cy="-1.4" r="1.1" fill="#f4f6f5" opacity="0.9"/></g>
<path d="M627.5,397.5 C640,404 660,414 680,425" fill="none" stroke="#060707" stroke-width="3"/>
<path d="M629,397 C640,403 660,413 680,423.5" fill="none" stroke="#5d6361" stroke-width="0.8" opacity="0.8"/>
</svg>
</body></html>
